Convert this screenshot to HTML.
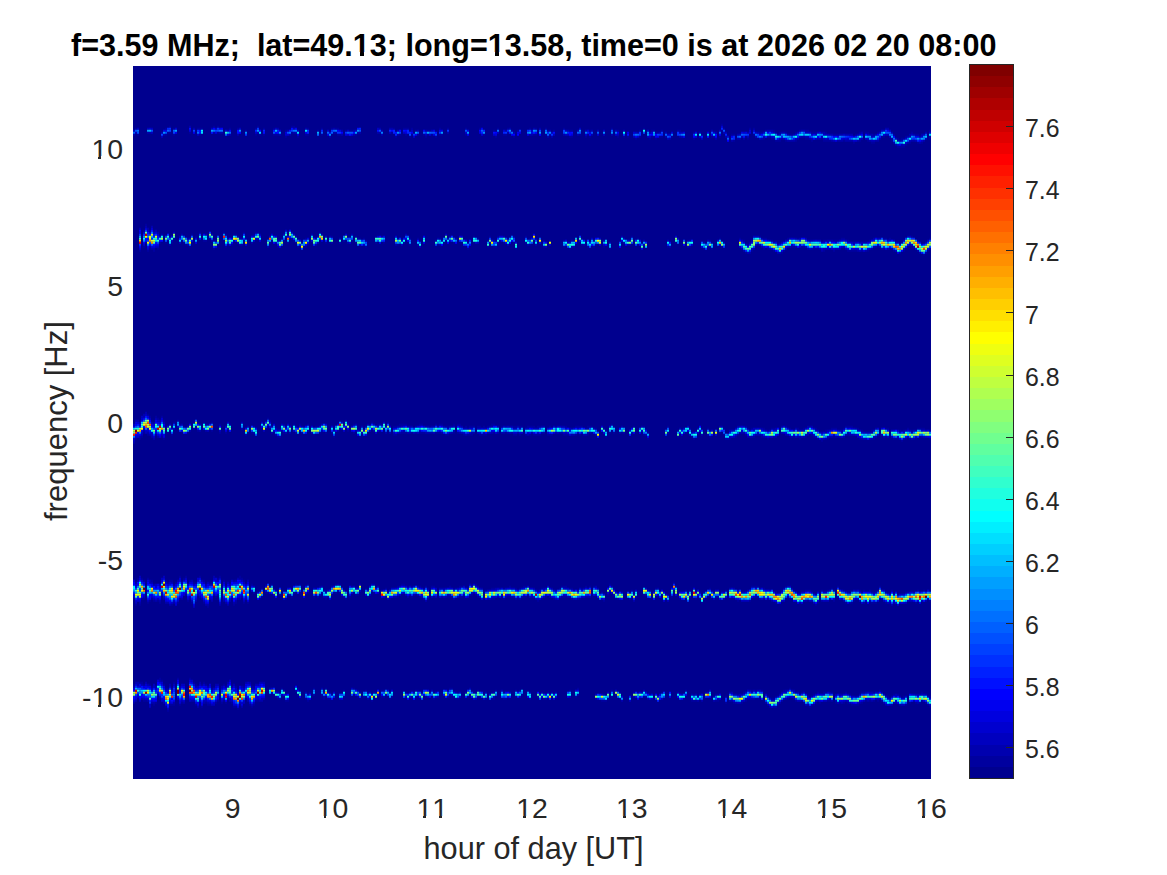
<!DOCTYPE html>
<html><head><meta charset="utf-8"><style>
html,body{margin:0;padding:0;background:#fff;}
body{width:1167px;height:875px;position:relative;overflow:hidden;font-family:"Liberation Sans",sans-serif;color:#262626;}
.t{position:absolute;white-space:pre;line-height:1;}
.yt{font-size:28.4px;text-align:right;width:80px;}
.xt{font-size:28.4px;text-align:center;width:80px;}
.ct{font-size:24.9px;}
.o,.ob{position:relative;display:inline-block;height:1em;line-height:1;}
.o::before,.o::after,.ob::before,.ob::after{content:"";position:absolute;background:#fff;}
.o::before{left:0;width:0.248em;top:0.762em;height:0.095em;}
.o::after{left:0.342em;right:0;top:0.762em;height:0.095em;}
.ob::before{left:0;width:0.228em;top:0.732em;height:0.125em;}
.ob::after{left:0.372em;right:0;top:0.732em;height:0.125em;}
</style></head><body>
<div class="t" id="title" style="left:71px;top:29.75px;font-size:30.55px;font-weight:bold;color:#000;">f=3.59 MHz;  lat=49.<span class="ob">1</span>3; long=<span class="ob">1</span>3.58, time=0 is at 2026 02 20 08:00</div>
<div style="position:absolute;left:133.0px;top:65.8px;width:798.0px;height:713.0px;background:#00008f;"></div>
<svg style="position:absolute;left:0;top:0" width="1167" height="875" viewBox="0 0 1167 875">
<defs><filter id="bl" x="-1%" y="-5%" width="102%" height="110%"><feGaussianBlur stdDeviation="0.55"/></filter><clipPath id="pc"><rect x="133.0" y="65.8" width="798.0" height="713.0"/></clipPath></defs>
<g clip-path="url(#pc)"><g filter="url(#bl)"><path fill="#00009f" d="M721 123.8h2v2h-2zM169 125.8h2v2h-2zM213 125.8h2v2h-2zM217 125.8h2v2h-2zM257 125.8h2v2h-2zM291 125.8h4v2h-4zM135 127.8h2v2h-2zM165 127.8h2v2h-2zM173 127.8h2v2h-2zM197 127.8h6v2h-6zM229 127.8h2v2h-2zM237 127.8h2v2h-2zM255 127.8h2v2h-2zM263 127.8h2v2h-2zM273 127.8h2v2h-2zM307 127.8h2v2h-2zM321 127.8h2v2h-2zM331 127.8h2v2h-2zM335 127.8h4v2h-4zM393 127.8h2v2h-2zM403 127.8h6v2h-6zM411 127.8h2v2h-2zM439 127.8h2v2h-2zM447 127.8h2v2h-2zM465 127.8h2v2h-2zM479 127.8h2v2h-2zM497 127.8h2v2h-2zM507 127.8h2v2h-2zM529 127.8h2v2h-2zM535 127.8h2v2h-2zM545 127.8h2v2h-2zM563 127.8h2v2h-2zM611 127.8h2v2h-2zM643 127.8h2v2h-2zM723 127.8h2v2h-2zM749 127.8h2v2h-2zM753 127.8h2v2h-2zM245 129.8h2v2h-2zM285 129.8h2v2h-2zM317 129.8h2v2h-2zM345 129.8h2v2h-2zM349 129.8h4v2h-4zM415 129.8h2v2h-2zM427 129.8h4v2h-4zM493 129.8h2v2h-2zM511 129.8h2v2h-2zM517 129.8h2v2h-2zM547 129.8h2v2h-2zM553 129.8h2v2h-2zM569 129.8h4v2h-4zM589 129.8h2v2h-2zM617 129.8h2v2h-2zM639 129.8h2v2h-2zM651 129.8h4v2h-4zM661 129.8h2v2h-2zM677 129.8h4v2h-4zM721 129.8h2v2h-2zM765 129.8h2v2h-2zM773 129.8h2v2h-2zM799 129.8h2v2h-2zM805 129.8h4v2h-4zM929 129.8h2v2h-2zM167 131.8h4v2h-4zM189 131.8h2v2h-2zM217 131.8h2v2h-2zM291 131.8h2v2h-2zM391 131.8h2v2h-2zM655 131.8h4v2h-4zM693 131.8h2v2h-2zM759 131.8h4v2h-4zM775 131.8h2v2h-2zM779 131.8h2v2h-2zM785 131.8h2v2h-2zM795 131.8h2v2h-2zM811 131.8h6v2h-6zM825 131.8h2v2h-2zM859 131.8h2v2h-2zM865 131.8h4v2h-4zM877 131.8h2v2h-2zM911 131.8h2v2h-2zM137 133.8h2v2h-2zM165 133.8h2v2h-2zM173 133.8h2v2h-2zM199 133.8h2v2h-2zM255 133.8h2v2h-2zM259 133.8h2v2h-2zM263 133.8h2v2h-2zM273 133.8h6v2h-6zM305 133.8h4v2h-4zM321 133.8h2v2h-2zM337 133.8h4v2h-4zM355 133.8h2v2h-2zM399 133.8h2v2h-2zM405 133.8h2v2h-2zM411 133.8h2v2h-2zM417 133.8h2v2h-2zM423 133.8h2v2h-2zM427 133.8h2v2h-2zM431 133.8h2v2h-2zM439 133.8h4v2h-4zM465 133.8h2v2h-2zM483 133.8h2v2h-2zM503 133.8h4v2h-4zM533 133.8h4v2h-4zM545 133.8h2v2h-2zM579 133.8h2v2h-2zM587 133.8h2v2h-2zM701 133.8h2v2h-2zM731 133.8h4v2h-4zM753 133.8h2v2h-2zM789 133.8h4v2h-4zM833 133.8h6v2h-6zM855 133.8h2v2h-2zM873 133.8h2v2h-2zM893 133.8h2v2h-2zM915 133.8h4v2h-4zM285 135.8h2v2h-2zM297 135.8h2v2h-2zM395 135.8h2v2h-2zM409 135.8h2v2h-2zM425 135.8h2v2h-2zM435 135.8h2v2h-2zM495 135.8h2v2h-2zM513 135.8h2v2h-2zM569 135.8h4v2h-4zM585 135.8h2v2h-2zM589 135.8h2v2h-2zM617 135.8h2v2h-2zM623 135.8h2v2h-2zM627 135.8h2v2h-2zM639 135.8h2v2h-2zM651 135.8h4v2h-4zM659 135.8h4v2h-4zM671 135.8h2v2h-2zM711 135.8h2v2h-2zM719 135.8h2v2h-2zM745 135.8h2v2h-2zM881 135.8h4v2h-4zM905 135.8h2v2h-2zM635 137.8h2v2h-2zM649 137.8h2v2h-2zM655 137.8h2v2h-2zM693 137.8h2v2h-2zM747 137.8h2v2h-2zM763 137.8h2v2h-2zM771 137.8h4v2h-4zM805 137.8h4v2h-4zM821 137.8h2v2h-2zM897 137.8h2v2h-2zM901 137.8h4v2h-4zM929 137.8h2v2h-2zM733 139.8h2v2h-2zM775 139.8h6v2h-6zM785 139.8h2v2h-2zM795 139.8h2v2h-2zM811 139.8h2v2h-2zM823 139.8h8v2h-8zM843 139.8h2v2h-2zM859 139.8h2v2h-2zM867 139.8h2v2h-2zM891 139.8h2v2h-2zM853 141.8h2v2h-2zM871 141.8h4v2h-4zM909 141.8h2v2h-2zM917 141.8h2v2h-2zM921 141.8h2v2h-2zM905 143.8h2v2h-2zM897 145.8h8v2h-8zM145 223.8h2v2h-2zM143 229.8h2v2h-2zM149 229.8h2v2h-2zM153 229.8h2v2h-2zM199 231.8h2v2h-2zM223 231.8h2v2h-2zM243 231.8h2v2h-2zM255 231.8h4v2h-4zM319 231.8h2v2h-2zM191 233.8h2v2h-2zM225 233.8h2v2h-2zM233 233.8h4v2h-4zM253 233.8h2v2h-2zM195 235.8h2v2h-2zM331 235.8h2v2h-2zM355 235.8h2v2h-2zM375 235.8h2v2h-2zM473 235.8h2v2h-2zM489 235.8h2v2h-2zM497 235.8h2v2h-2zM513 235.8h2v2h-2zM525 235.8h2v2h-2zM631 235.8h2v2h-2zM759 235.8h2v2h-2zM911 235.8h2v2h-2zM209 237.8h2v2h-2zM245 237.8h2v2h-2zM281 237.8h2v2h-2zM305 237.8h2v2h-2zM359 237.8h2v2h-2zM363 237.8h2v2h-2zM409 237.8h2v2h-2zM417 237.8h2v2h-2zM439 237.8h2v2h-2zM477 237.8h2v2h-2zM507 237.8h2v2h-2zM529 237.8h2v2h-2zM535 237.8h2v2h-2zM581 237.8h2v2h-2zM637 237.8h2v2h-2zM719 237.8h2v2h-2zM739 237.8h2v2h-2zM763 237.8h4v2h-4zM787 237.8h2v2h-2zM797 237.8h2v2h-2zM841 237.8h4v2h-4zM883 237.8h4v2h-4zM889 237.8h2v2h-2zM929 237.8h2v2h-2zM167 239.8h2v2h-2zM181 239.8h2v2h-2zM203 239.8h4v2h-4zM213 239.8h4v2h-4zM243 239.8h2v2h-2zM283 239.8h2v2h-2zM293 239.8h2v2h-2zM351 239.8h2v2h-2zM365 239.8h2v2h-2zM445 239.8h2v2h-2zM487 239.8h2v2h-2zM543 239.8h2v2h-2zM549 239.8h2v2h-2zM563 239.8h2v2h-2zM573 239.8h2v2h-2zM687 239.8h2v2h-2zM709 239.8h2v2h-2zM743 239.8h2v2h-2zM771 239.8h2v2h-2zM823 239.8h4v2h-4zM833 239.8h6v2h-6zM847 239.8h2v2h-2zM869 239.8h2v2h-2zM917 239.8h2v2h-2zM145 241.8h2v2h-2zM159 241.8h2v2h-2zM165 241.8h2v2h-2zM171 241.8h2v2h-2zM183 241.8h2v2h-2zM269 241.8h2v2h-2zM287 241.8h2v2h-2zM295 241.8h2v2h-2zM301 241.8h2v2h-2zM325 241.8h2v2h-2zM329 241.8h2v2h-2zM355 241.8h2v2h-2zM375 241.8h2v2h-2zM383 241.8h2v2h-2zM443 241.8h2v2h-2zM453 241.8h2v2h-2zM467 241.8h2v2h-2zM473 241.8h2v2h-2zM503 241.8h2v2h-2zM513 241.8h2v2h-2zM675 241.8h2v2h-2zM711 241.8h2v2h-2zM749 241.8h2v2h-2zM185 243.8h2v2h-2zM227 243.8h2v2h-2zM231 243.8h2v2h-2zM307 243.8h2v2h-2zM397 243.8h2v2h-2zM409 243.8h2v2h-2zM437 243.8h2v2h-2zM529 243.8h2v2h-2zM581 243.8h2v2h-2zM595 243.8h2v2h-2zM637 243.8h2v2h-2zM747 243.8h2v2h-2zM757 243.8h2v2h-2zM143 245.8h2v2h-2zM189 245.8h2v2h-2zM225 245.8h2v2h-2zM277 245.8h2v2h-2zM297 245.8h2v2h-2zM303 245.8h4v2h-4zM365 245.8h2v2h-2zM487 245.8h2v2h-2zM493 245.8h4v2h-4zM563 245.8h2v2h-2zM587 245.8h2v2h-2zM593 245.8h2v2h-2zM603 245.8h2v2h-2zM667 245.8h2v2h-2zM689 245.8h2v2h-2zM707 245.8h2v2h-2zM721 245.8h2v2h-2zM791 245.8h4v2h-4zM801 245.8h4v2h-4zM877 245.8h2v2h-2zM149 247.8h2v2h-2zM157 247.8h2v2h-2zM213 247.8h2v2h-2zM467 247.8h2v2h-2zM515 247.8h2v2h-2zM569 247.8h2v2h-2zM609 247.8h2v2h-2zM703 247.8h2v2h-2zM711 247.8h2v2h-2zM763 247.8h2v2h-2zM767 247.8h2v2h-2zM813 247.8h6v2h-6zM883 247.8h2v2h-2zM889 247.8h2v2h-2zM139 249.8h2v2h-2zM147 249.8h2v2h-2zM153 249.8h2v2h-2zM751 249.8h2v2h-2zM773 249.8h2v2h-2zM783 249.8h2v2h-2zM823 249.8h2v2h-2zM833 249.8h2v2h-2zM847 249.8h10v2h-10zM867 249.8h2v2h-2zM893 249.8h2v2h-2zM903 249.8h2v2h-2zM927 249.8h2v2h-2zM745 251.8h2v2h-2zM781 251.8h2v2h-2zM923 253.8h2v2h-2zM147 413.8h2v2h-2zM149 415.8h2v2h-2zM155 415.8h2v2h-2zM161 415.8h2v2h-2zM157 417.8h2v2h-2zM267 417.8h2v2h-2zM163 419.8h2v2h-2zM177 419.8h2v2h-2zM269 419.8h2v2h-2zM345 419.8h2v2h-2zM153 421.8h2v2h-2zM173 421.8h2v2h-2zM193 421.8h2v2h-2zM203 421.8h2v2h-2zM211 421.8h2v2h-2zM347 421.8h2v2h-2zM371 421.8h2v2h-2zM387 421.8h2v2h-2zM179 423.8h2v2h-2zM205 423.8h4v2h-4zM219 423.8h2v2h-2zM229 423.8h2v2h-2zM283 423.8h2v2h-2zM293 423.8h2v2h-2zM299 423.8h2v2h-2zM307 423.8h2v2h-2zM343 423.8h2v2h-2zM353 423.8h2v2h-2zM369 423.8h2v2h-2zM377 423.8h2v2h-2zM381 423.8h2v2h-2zM399 423.8h8v2h-8zM419 423.8h4v2h-4zM435 423.8h2v2h-2zM439 423.8h4v2h-4zM453 423.8h2v2h-2zM457 423.8h4v2h-4zM491 423.8h4v2h-4zM611 423.8h2v2h-2zM183 425.8h2v2h-2zM285 425.8h2v2h-2zM303 425.8h2v2h-2zM315 425.8h4v2h-4zM393 425.8h4v2h-4zM429 425.8h2v2h-2zM445 425.8h4v2h-4zM465 425.8h2v2h-2zM469 425.8h6v2h-6zM477 425.8h4v2h-4zM483 425.8h2v2h-2zM487 425.8h2v2h-2zM501 425.8h2v2h-2zM513 425.8h4v2h-4zM519 425.8h4v2h-4zM527 425.8h8v2h-8zM537 425.8h4v2h-4zM549 425.8h2v2h-2zM555 425.8h2v2h-2zM565 425.8h2v2h-2zM575 425.8h8v2h-8zM587 425.8h6v2h-6zM613 425.8h2v2h-2zM633 425.8h2v2h-2zM643 425.8h2v2h-2zM667 425.8h2v2h-2zM745 425.8h2v2h-2zM785 425.8h2v2h-2zM845 425.8h8v2h-8zM261 427.8h2v2h-2zM265 427.8h2v2h-2zM269 427.8h2v2h-2zM339 427.8h2v2h-2zM595 427.8h2v2h-2zM689 427.8h2v2h-2zM707 427.8h2v2h-2zM723 427.8h2v2h-2zM747 427.8h2v2h-2zM751 427.8h2v2h-2zM763 427.8h2v2h-2zM771 427.8h4v2h-4zM789 427.8h2v2h-2zM797 427.8h2v2h-2zM803 427.8h2v2h-2zM815 427.8h2v2h-2zM831 427.8h6v2h-6zM843 427.8h2v2h-2zM857 427.8h2v2h-2zM885 427.8h4v2h-4zM907 427.8h2v2h-2zM917 427.8h8v2h-8zM169 429.8h2v2h-2zM197 429.8h2v2h-2zM211 429.8h2v2h-2zM347 429.8h2v2h-2zM605 429.8h2v2h-2zM611 429.8h2v2h-2zM677 429.8h2v2h-2zM709 429.8h2v2h-2zM767 429.8h2v2h-2zM825 429.8h2v2h-2zM861 429.8h2v2h-2zM871 429.8h2v2h-2zM899 429.8h2v2h-2zM903 429.8h2v2h-2zM911 429.8h2v2h-2zM143 431.8h2v2h-2zM167 431.8h2v2h-2zM187 431.8h2v2h-2zM219 431.8h2v2h-2zM225 431.8h2v2h-2zM247 431.8h2v2h-2zM251 431.8h2v2h-2zM283 431.8h2v2h-2zM319 431.8h2v2h-2zM325 431.8h2v2h-2zM331 431.8h2v2h-2zM353 431.8h2v2h-2zM401 431.8h6v2h-6zM411 431.8h2v2h-2zM419 431.8h6v2h-6zM435 431.8h6v2h-6zM453 431.8h2v2h-2zM457 431.8h2v2h-2zM493 431.8h2v2h-2zM505 431.8h2v2h-2zM591 431.8h2v2h-2zM609 431.8h2v2h-2zM613 431.8h2v2h-2zM621 431.8h2v2h-2zM647 431.8h2v2h-2zM685 431.8h2v2h-2zM719 431.8h2v2h-2zM147 433.8h2v2h-2zM155 433.8h2v2h-2zM171 433.8h2v2h-2zM313 433.8h2v2h-2zM393 433.8h4v2h-4zM445 433.8h4v2h-4zM463 433.8h2v2h-2zM467 433.8h6v2h-6zM479 433.8h8v2h-8zM513 433.8h4v2h-4zM519 433.8h2v2h-2zM525 433.8h2v2h-2zM529 433.8h2v2h-2zM533 433.8h8v2h-8zM547 433.8h6v2h-6zM563 433.8h6v2h-6zM575 433.8h2v2h-2zM579 433.8h2v2h-2zM587 433.8h2v2h-2zM643 433.8h2v2h-2zM723 433.8h2v2h-2zM737 433.8h2v2h-2zM745 433.8h2v2h-2zM811 433.8h2v2h-2zM847 433.8h2v2h-2zM141 435.8h2v2h-2zM161 435.8h2v2h-2zM277 435.8h2v2h-2zM333 435.8h2v2h-2zM359 435.8h2v2h-2zM605 435.8h2v2h-2zM677 435.8h2v2h-2zM691 435.8h2v2h-2zM709 435.8h2v2h-2zM735 435.8h2v2h-2zM753 435.8h2v2h-2zM761 435.8h2v2h-2zM789 435.8h2v2h-2zM793 435.8h2v2h-2zM805 435.8h2v2h-2zM813 435.8h2v2h-2zM833 435.8h2v2h-2zM885 435.8h2v2h-2zM919 435.8h2v2h-2zM135 437.8h2v2h-2zM139 437.8h2v2h-2zM163 437.8h2v2h-2zM647 437.8h2v2h-2zM693 437.8h2v2h-2zM729 437.8h2v2h-2zM767 437.8h2v2h-2zM799 437.8h2v2h-2zM817 437.8h2v2h-2zM827 437.8h2v2h-2zM859 437.8h2v2h-2zM873 437.8h2v2h-2zM893 437.8h6v2h-6zM905 437.8h2v2h-2zM909 437.8h2v2h-2zM915 437.8h2v2h-2zM929 437.8h2v2h-2zM821 439.8h2v2h-2zM901 439.8h2v2h-2zM179 575.8h2v2h-2zM185 575.8h2v2h-2zM199 575.8h2v2h-2zM219 575.8h2v2h-2zM239 575.8h2v2h-2zM137 577.8h2v2h-2zM141 577.8h2v2h-2zM147 577.8h2v2h-2zM183 577.8h2v2h-2zM217 577.8h2v2h-2zM239 577.8h4v2h-4zM143 579.8h2v2h-2zM151 579.8h2v2h-2zM165 579.8h2v2h-2zM169 579.8h4v2h-4zM189 579.8h2v2h-2zM203 579.8h2v2h-2zM223 579.8h2v2h-2zM233 579.8h2v2h-2zM243 579.8h2v2h-2zM135 581.8h2v2h-2zM167 581.8h2v2h-2zM175 581.8h2v2h-2zM193 581.8h4v2h-4zM209 581.8h4v2h-4zM673 581.8h2v2h-2zM173 583.8h2v2h-2zM251 583.8h2v2h-2zM265 583.8h2v2h-2zM271 583.8h2v2h-2zM295 583.8h2v2h-2zM299 583.8h2v2h-2zM307 583.8h2v2h-2zM335 583.8h2v2h-2zM339 583.8h2v2h-2zM401 583.8h4v2h-4zM471 583.8h2v2h-2zM475 583.8h2v2h-2zM609 583.8h2v2h-2zM225 585.8h2v2h-2zM319 585.8h2v2h-2zM397 585.8h2v2h-2zM407 585.8h2v2h-2zM411 585.8h2v2h-2zM419 585.8h2v2h-2zM425 585.8h2v2h-2zM431 585.8h4v2h-4zM449 585.8h2v2h-2zM459 585.8h4v2h-4zM509 585.8h2v2h-2zM523 585.8h4v2h-4zM561 585.8h6v2h-6zM585 585.8h2v2h-2zM589 585.8h2v2h-2zM593 585.8h2v2h-2zM751 585.8h8v2h-8zM785 585.8h2v2h-2zM837 585.8h2v2h-2zM879 585.8h2v2h-2zM261 587.8h2v2h-2zM273 587.8h2v2h-2zM303 587.8h2v2h-2zM365 587.8h2v2h-2zM385 587.8h2v2h-2zM423 587.8h2v2h-2zM427 587.8h2v2h-2zM453 587.8h2v2h-2zM491 587.8h4v2h-4zM503 587.8h2v2h-2zM515 587.8h2v2h-2zM519 587.8h2v2h-2zM541 587.8h2v2h-2zM559 587.8h2v2h-2zM569 587.8h4v2h-4zM581 587.8h2v2h-2zM613 587.8h2v2h-2zM655 587.8h2v2h-2zM709 587.8h2v2h-2zM763 587.8h2v2h-2zM831 587.8h2v2h-2zM259 589.8h2v2h-2zM325 589.8h2v2h-2zM485 589.8h2v2h-2zM537 589.8h2v2h-2zM631 589.8h2v2h-2zM649 589.8h2v2h-2zM685 589.8h2v2h-2zM689 589.8h2v2h-2zM725 589.8h2v2h-2zM781 589.8h2v2h-2zM793 589.8h2v2h-2zM805 589.8h6v2h-6zM821 589.8h2v2h-2zM827 589.8h2v2h-2zM843 589.8h2v2h-2zM859 589.8h2v2h-2zM863 589.8h2v2h-2zM869 589.8h2v2h-2zM877 589.8h2v2h-2zM891 589.8h2v2h-2zM917 589.8h2v2h-2zM923 589.8h2v2h-2zM929 589.8h2v2h-2zM265 591.8h4v2h-4zM295 591.8h2v2h-2zM299 591.8h2v2h-2zM307 591.8h2v2h-2zM333 591.8h4v2h-4zM339 591.8h2v2h-2zM353 591.8h2v2h-2zM373 591.8h2v2h-2zM609 591.8h2v2h-2zM617 591.8h2v2h-2zM713 591.8h2v2h-2zM775 591.8h2v2h-2zM847 591.8h2v2h-2zM873 591.8h2v2h-2zM905 591.8h2v2h-2zM185 593.8h2v2h-2zM331 593.8h2v2h-2zM355 593.8h4v2h-4zM415 593.8h2v2h-2zM471 593.8h2v2h-2zM475 593.8h2v2h-2zM607 593.8h2v2h-2zM643 593.8h2v2h-2zM667 593.8h2v2h-2zM897 593.8h2v2h-2zM215 595.8h2v2h-2zM261 595.8h2v2h-2zM291 595.8h2v2h-2zM313 595.8h2v2h-2zM349 595.8h2v2h-2zM367 595.8h2v2h-2zM385 595.8h2v2h-2zM397 595.8h2v2h-2zM411 595.8h2v2h-2zM419 595.8h2v2h-2zM433 595.8h2v2h-2zM447 595.8h6v2h-6zM459 595.8h4v2h-4zM477 595.8h2v2h-2zM501 595.8h2v2h-2zM507 595.8h4v2h-4zM523 595.8h4v2h-4zM545 595.8h2v2h-2zM561 595.8h6v2h-6zM671 595.8h2v2h-2zM697 595.8h2v2h-2zM787 595.8h2v2h-2zM133 597.8h2v2h-2zM141 597.8h4v2h-4zM151 597.8h2v2h-2zM179 597.8h2v2h-2zM231 597.8h2v2h-2zM259 597.8h2v2h-2zM285 597.8h2v2h-2zM325 597.8h2v2h-2zM345 597.8h2v2h-2zM389 597.8h2v2h-2zM427 597.8h2v2h-2zM491 597.8h4v2h-4zM503 597.8h2v2h-2zM517 597.8h2v2h-2zM541 597.8h2v2h-2zM553 597.8h2v2h-2zM571 597.8h2v2h-2zM579 597.8h2v2h-2zM615 597.8h2v2h-2zM679 597.8h2v2h-2zM685 597.8h2v2h-2zM695 597.8h2v2h-2zM699 597.8h2v2h-2zM763 597.8h2v2h-2zM789 597.8h2v2h-2zM879 597.8h2v2h-2zM149 599.8h2v2h-2zM153 599.8h2v2h-2zM157 599.8h2v2h-2zM187 599.8h2v2h-2zM537 599.8h2v2h-2zM603 599.8h2v2h-2zM737 599.8h2v2h-2zM749 599.8h2v2h-2zM807 599.8h2v2h-2zM833 599.8h2v2h-2zM853 599.8h2v2h-2zM929 599.8h2v2h-2zM147 601.8h2v2h-2zM159 601.8h2v2h-2zM177 601.8h2v2h-2zM191 601.8h2v2h-2zM203 601.8h2v2h-2zM235 601.8h2v2h-2zM243 601.8h2v2h-2zM247 601.8h2v2h-2zM701 601.8h2v2h-2zM775 601.8h2v2h-2zM817 601.8h2v2h-2zM845 601.8h2v2h-2zM851 601.8h2v2h-2zM871 601.8h6v2h-6zM885 601.8h2v2h-2zM915 601.8h2v2h-2zM135 603.8h2v2h-2zM139 603.8h2v2h-2zM171 603.8h2v2h-2zM233 603.8h2v2h-2zM815 603.8h2v2h-2zM207 605.8h2v2h-2zM159 677.8h2v2h-2zM177 677.8h2v2h-2zM189 677.8h2v2h-2zM161 679.8h2v2h-2zM139 681.8h4v2h-4zM173 681.8h2v2h-2zM193 681.8h2v2h-2zM203 681.8h2v2h-2zM133 683.8h2v2h-2zM143 683.8h2v2h-2zM149 683.8h2v2h-2zM163 683.8h2v2h-2zM195 683.8h2v2h-2zM201 683.8h2v2h-2zM205 683.8h2v2h-2zM223 683.8h2v2h-2zM151 685.8h2v2h-2zM225 685.8h2v2h-2zM231 685.8h2v2h-2zM235 685.8h2v2h-2zM243 685.8h2v2h-2zM251 685.8h4v2h-4zM165 687.8h4v2h-4zM171 687.8h2v2h-2zM211 687.8h2v2h-2zM281 687.8h2v2h-2zM297 687.8h2v2h-2zM313 687.8h2v2h-2zM325 687.8h2v2h-2zM353 687.8h2v2h-2zM449 687.8h4v2h-4zM577 687.8h2v2h-2zM789 687.8h2v2h-2zM299 689.8h2v2h-2zM343 689.8h2v2h-2zM357 689.8h2v2h-2zM365 689.8h2v2h-2zM381 689.8h4v2h-4zM415 689.8h4v2h-4zM447 689.8h2v2h-2zM477 689.8h2v2h-2zM495 689.8h2v2h-2zM515 689.8h2v2h-2zM519 689.8h2v2h-2zM569 689.8h2v2h-2zM611 689.8h2v2h-2zM685 689.8h2v2h-2zM751 689.8h2v2h-2zM755 689.8h2v2h-2zM761 689.8h2v2h-2zM783 689.8h2v2h-2zM879 689.8h2v2h-2zM279 691.8h2v2h-2zM309 691.8h2v2h-2zM329 691.8h2v2h-2zM367 691.8h2v2h-2zM375 691.8h2v2h-2zM405 691.8h2v2h-2zM433 691.8h2v2h-2zM457 691.8h2v2h-2zM473 691.8h4v2h-4zM491 691.8h2v2h-2zM503 691.8h2v2h-2zM619 691.8h2v2h-2zM661 691.8h2v2h-2zM743 691.8h2v2h-2zM801 691.8h2v2h-2zM817 691.8h2v2h-2zM823 691.8h4v2h-4zM831 691.8h2v2h-2zM845 691.8h2v2h-2zM861 691.8h4v2h-4zM873 691.8h2v2h-2zM921 691.8h2v2h-2zM269 693.8h2v2h-2zM273 693.8h2v2h-2zM353 693.8h2v2h-2zM449 693.8h2v2h-2zM469 693.8h2v2h-2zM521 693.8h2v2h-2zM693 693.8h2v2h-2zM715 693.8h4v2h-4zM737 693.8h2v2h-2zM813 693.8h2v2h-2zM849 693.8h2v2h-2zM893 693.8h2v2h-2zM897 693.8h2v2h-2zM343 695.8h2v2h-2zM357 695.8h2v2h-2zM365 695.8h2v2h-2zM381 695.8h2v2h-2zM391 695.8h2v2h-2zM415 695.8h4v2h-4zM425 695.8h2v2h-2zM467 695.8h2v2h-2zM477 695.8h4v2h-4zM515 695.8h2v2h-2zM575 695.8h2v2h-2zM611 695.8h2v2h-2zM643 695.8h2v2h-2zM725 695.8h2v2h-2zM775 695.8h2v2h-2zM887 695.8h2v2h-2zM903 695.8h2v2h-2zM929 695.8h2v2h-2zM137 697.8h2v2h-2zM159 697.8h2v2h-2zM227 697.8h2v2h-2zM245 697.8h2v2h-2zM277 697.8h2v2h-2zM305 697.8h2v2h-2zM323 697.8h2v2h-2zM327 697.8h4v2h-4zM375 697.8h2v2h-2zM389 697.8h2v2h-2zM433 697.8h2v2h-2zM455 697.8h4v2h-4zM485 697.8h2v2h-2zM491 697.8h4v2h-4zM503 697.8h4v2h-4zM607 697.8h2v2h-2zM619 697.8h2v2h-2zM683 697.8h2v2h-2zM755 697.8h6v2h-6zM771 697.8h4v2h-4zM787 697.8h2v2h-2zM793 697.8h2v2h-2zM143 699.8h4v2h-4zM217 699.8h2v2h-2zM223 699.8h2v2h-2zM255 699.8h4v2h-4zM285 699.8h4v2h-4zM307 699.8h2v2h-2zM371 699.8h2v2h-2zM601 699.8h6v2h-6zM691 699.8h6v2h-6zM715 699.8h4v2h-4zM745 699.8h2v2h-2zM795 699.8h2v2h-2zM827 699.8h4v2h-4zM865 699.8h2v2h-2zM869 699.8h2v2h-2zM873 699.8h2v2h-2zM877 699.8h2v2h-2zM155 701.8h2v2h-2zM181 701.8h2v2h-2zM205 701.8h2v2h-2zM215 701.8h2v2h-2zM221 701.8h2v2h-2zM225 701.8h2v2h-2zM231 701.8h2v2h-2zM725 701.8h2v2h-2zM733 701.8h2v2h-2zM741 701.8h2v2h-2zM803 701.8h2v2h-2zM815 701.8h2v2h-2zM819 701.8h2v2h-2zM835 701.8h2v2h-2zM839 701.8h2v2h-2zM843 701.8h2v2h-2zM847 701.8h2v2h-2zM861 701.8h2v2h-2zM909 701.8h2v2h-2zM915 701.8h2v2h-2zM919 701.8h2v2h-2zM153 703.8h2v2h-2zM169 703.8h6v2h-6zM179 703.8h2v2h-2zM195 703.8h2v2h-2zM207 703.8h4v2h-4zM239 703.8h2v2h-2zM249 703.8h2v2h-2zM253 703.8h2v2h-2zM777 703.8h2v2h-2zM813 703.8h2v2h-2zM851 703.8h8v2h-8zM905 703.8h2v2h-2zM927 703.8h2v2h-2zM165 705.8h2v2h-2zM201 705.8h2v2h-2zM233 705.8h4v2h-4zM251 705.8h2v2h-2zM809 705.8h2v2h-2zM929 705.8h2v2h-2zM237 707.8h2v2h-2zM167 709.8h2v2h-2z"/>
<path fill="#0000af" d="M189 125.8h2v2h-2zM193 127.8h2v2h-2zM277 127.8h2v2h-2zM305 127.8h2v2h-2zM333 127.8h2v2h-2zM379 127.8h2v2h-2zM389 127.8h4v2h-4zM509 127.8h2v2h-2zM533 127.8h2v2h-2zM539 127.8h2v2h-2zM885 127.8h4v2h-4zM227 129.8h2v2h-2zM287 129.8h2v2h-2zM341 129.8h2v2h-2zM353 129.8h2v2h-2zM381 129.8h2v2h-2zM397 129.8h2v2h-2zM417 129.8h2v2h-2zM425 129.8h2v2h-2zM505 129.8h2v2h-2zM549 129.8h2v2h-2zM567 129.8h2v2h-2zM577 129.8h2v2h-2zM585 129.8h2v2h-2zM591 129.8h2v2h-2zM597 129.8h2v2h-2zM615 129.8h2v2h-2zM623 129.8h2v2h-2zM711 129.8h2v2h-2zM719 129.8h2v2h-2zM767 129.8h6v2h-6zM801 129.8h4v2h-4zM147 131.8h4v2h-4zM161 131.8h2v2h-2zM213 131.8h2v2h-2zM219 131.8h4v2h-4zM257 131.8h2v2h-2zM293 131.8h2v2h-2zM333 131.8h4v2h-4zM357 131.8h4v2h-4zM377 131.8h4v2h-4zM447 131.8h2v2h-2zM507 131.8h2v2h-2zM513 131.8h2v2h-2zM637 131.8h2v2h-2zM649 131.8h2v2h-2zM659 131.8h2v2h-2zM665 131.8h2v2h-2zM699 131.8h2v2h-2zM715 131.8h2v2h-2zM725 131.8h2v2h-2zM747 131.8h2v2h-2zM757 131.8h2v2h-2zM781 131.8h4v2h-4zM821 131.8h4v2h-4zM861 131.8h2v2h-2zM891 131.8h2v2h-2zM925 131.8h2v2h-2zM133 133.8h2v2h-2zM163 133.8h2v2h-2zM229 133.8h2v2h-2zM237 133.8h2v2h-2zM279 133.8h2v2h-2zM289 133.8h2v2h-2zM341 133.8h2v2h-2zM353 133.8h2v2h-2zM381 133.8h2v2h-2zM397 133.8h2v2h-2zM529 133.8h4v2h-4zM549 133.8h2v2h-2zM563 133.8h2v2h-2zM577 133.8h2v2h-2zM591 133.8h2v2h-2zM611 133.8h2v2h-2zM737 133.8h2v2h-2zM777 133.8h2v2h-2zM787 133.8h2v2h-2zM793 133.8h2v2h-2zM829 133.8h4v2h-4zM839 133.8h4v2h-4zM845 133.8h8v2h-8zM857 133.8h2v2h-2zM869 133.8h4v2h-4zM875 133.8h2v2h-2zM909 133.8h2v2h-2zM913 133.8h2v2h-2zM921 133.8h2v2h-2zM329 135.8h2v2h-2zM547 135.8h2v2h-2zM551 135.8h2v2h-2zM665 135.8h2v2h-2zM679 135.8h2v2h-2zM713 135.8h2v2h-2zM725 135.8h2v2h-2zM767 135.8h4v2h-4zM801 135.8h4v2h-4zM907 135.8h2v2h-2zM919 135.8h2v2h-2zM929 135.8h2v2h-2zM669 137.8h2v2h-2zM715 137.8h2v2h-2zM737 137.8h4v2h-4zM743 137.8h2v2h-2zM761 137.8h2v2h-2zM781 137.8h2v2h-2zM797 137.8h2v2h-2zM809 137.8h2v2h-2zM817 137.8h4v2h-4zM879 137.8h2v2h-2zM891 137.8h2v2h-2zM731 139.8h2v2h-2zM787 139.8h8v2h-8zM831 139.8h2v2h-2zM837 139.8h6v2h-6zM845 139.8h8v2h-8zM857 139.8h2v2h-2zM869 139.8h2v2h-2zM875 139.8h4v2h-4zM899 139.8h2v2h-2zM911 139.8h4v2h-4zM923 139.8h2v2h-2zM893 141.8h2v2h-2zM907 141.8h2v2h-2zM919 141.8h2v2h-2zM895 143.8h2v2h-2zM901 143.8h2v2h-2zM145 225.8h2v2h-2zM151 225.8h2v2h-2zM139 227.8h2v2h-2zM147 227.8h2v2h-2zM155 229.8h2v2h-2zM157 231.8h2v2h-2zM161 233.8h2v2h-2zM181 233.8h2v2h-2zM205 233.8h2v2h-2zM259 233.8h2v2h-2zM311 233.8h2v2h-2zM321 233.8h2v2h-2zM351 233.8h2v2h-2zM405 233.8h2v2h-2zM179 235.8h2v2h-2zM237 235.8h2v2h-2zM285 235.8h2v2h-2zM295 235.8h2v2h-2zM317 235.8h2v2h-2zM329 235.8h2v2h-2zM381 235.8h2v2h-2zM449 235.8h2v2h-2zM503 235.8h2v2h-2zM621 235.8h2v2h-2zM173 237.8h2v2h-2zM187 237.8h2v2h-2zM227 237.8h2v2h-2zM239 237.8h4v2h-4zM291 237.8h2v2h-2zM339 237.8h2v2h-2zM357 237.8h2v2h-2zM397 237.8h2v2h-2zM437 237.8h2v2h-2zM447 237.8h2v2h-2zM455 237.8h2v2h-2zM761 237.8h2v2h-2zM795 237.8h2v2h-2zM799 237.8h2v2h-2zM805 237.8h2v2h-2zM873 237.8h2v2h-2zM211 239.8h2v2h-2zM271 239.8h2v2h-2zM279 239.8h2v2h-2zM343 239.8h2v2h-2zM435 239.8h2v2h-2zM441 239.8h2v2h-2zM493 239.8h2v2h-2zM499 239.8h2v2h-2zM571 239.8h2v2h-2zM593 239.8h2v2h-2zM603 239.8h2v2h-2zM643 239.8h2v2h-2zM667 239.8h2v2h-2zM689 239.8h2v2h-2zM707 239.8h2v2h-2zM751 239.8h2v2h-2zM769 239.8h2v2h-2zM809 239.8h4v2h-4zM827 239.8h6v2h-6zM251 241.8h2v2h-2zM331 241.8h2v2h-2zM339 241.8h2v2h-2zM347 241.8h2v2h-2zM403 241.8h2v2h-2zM489 241.8h2v2h-2zM497 241.8h2v2h-2zM525 241.8h2v2h-2zM609 241.8h2v2h-2zM623 241.8h2v2h-2zM703 241.8h2v2h-2zM723 241.8h2v2h-2zM781 241.8h2v2h-2zM853 241.8h2v2h-2zM859 241.8h8v2h-8zM897 241.8h2v2h-2zM901 241.8h2v2h-2zM925 241.8h2v2h-2zM169 243.8h2v2h-2zM187 243.8h2v2h-2zM239 243.8h4v2h-4zM315 243.8h2v2h-2zM395 243.8h2v2h-2zM417 243.8h2v2h-2zM439 243.8h2v2h-2zM527 243.8h2v2h-2zM535 243.8h2v2h-2zM583 243.8h2v2h-2zM627 243.8h4v2h-4zM643 243.8h2v2h-2zM909 243.8h2v2h-2zM149 245.8h2v2h-2zM267 245.8h2v2h-2zM543 245.8h2v2h-2zM571 245.8h4v2h-4zM669 245.8h2v2h-2zM687 245.8h2v2h-2zM709 245.8h2v2h-2zM761 245.8h2v2h-2zM789 245.8h2v2h-2zM795 245.8h2v2h-2zM875 245.8h2v2h-2zM879 245.8h2v2h-2zM151 247.8h4v2h-4zM741 247.8h2v2h-2zM753 247.8h2v2h-2zM769 247.8h2v2h-2zM785 247.8h2v2h-2zM807 247.8h2v2h-2zM811 247.8h2v2h-2zM819 247.8h2v2h-2zM829 247.8h2v2h-2zM839 247.8h2v2h-2zM871 247.8h2v2h-2zM881 247.8h2v2h-2zM887 247.8h2v2h-2zM891 247.8h2v2h-2zM929 247.8h2v2h-2zM743 249.8h2v2h-2zM821 249.8h2v2h-2zM857 249.8h2v2h-2zM861 249.8h2v2h-2zM865 249.8h2v2h-2zM917 249.8h2v2h-2zM749 251.8h2v2h-2zM899 251.8h2v2h-2zM919 251.8h2v2h-2zM925 251.8h2v2h-2zM145 411.8h2v2h-2zM143 413.8h2v2h-2zM143 415.8h2v2h-2zM155 417.8h2v2h-2zM135 419.8h4v2h-4zM159 419.8h2v2h-2zM139 421.8h2v2h-2zM151 421.8h2v2h-2zM163 421.8h2v2h-2zM241 421.8h2v2h-2zM181 423.8h2v2h-2zM199 423.8h2v2h-2zM263 423.8h2v2h-2zM355 423.8h2v2h-2zM367 423.8h2v2h-2zM379 423.8h2v2h-2zM195 425.8h2v2h-2zM247 425.8h2v2h-2zM253 425.8h2v2h-2zM271 425.8h2v2h-2zM295 425.8h2v2h-2zM301 425.8h2v2h-2zM361 425.8h2v2h-2zM365 425.8h2v2h-2zM385 425.8h2v2h-2zM397 425.8h4v2h-4zM407 425.8h6v2h-6zM415 425.8h2v2h-2zM425 425.8h4v2h-4zM431 425.8h4v2h-4zM437 425.8h2v2h-2zM443 425.8h2v2h-2zM449 425.8h4v2h-4zM461 425.8h2v2h-2zM489 425.8h4v2h-4zM497 425.8h2v2h-2zM505 425.8h2v2h-2zM509 425.8h4v2h-4zM517 425.8h2v2h-2zM541 425.8h4v2h-4zM561 425.8h4v2h-4zM621 425.8h2v2h-2zM641 425.8h2v2h-2zM719 425.8h4v2h-4zM737 425.8h2v2h-2zM781 425.8h2v2h-2zM807 425.8h6v2h-6zM171 427.8h2v2h-2zM193 427.8h2v2h-2zM241 427.8h2v2h-2zM275 427.8h2v2h-2zM383 427.8h2v2h-2zM467 427.8h2v2h-2zM571 427.8h2v2h-2zM585 427.8h4v2h-4zM603 427.8h2v2h-2zM679 427.8h2v2h-2zM697 427.8h2v2h-2zM761 427.8h2v2h-2zM775 427.8h2v2h-2zM795 427.8h2v2h-2zM855 427.8h2v2h-2zM875 427.8h2v2h-2zM143 429.8h2v2h-2zM189 429.8h2v2h-2zM199 429.8h2v2h-2zM205 429.8h2v2h-2zM281 429.8h2v2h-2zM287 429.8h2v2h-2zM333 429.8h2v2h-2zM337 429.8h2v2h-2zM355 429.8h2v2h-2zM359 429.8h2v2h-2zM373 429.8h2v2h-2zM379 429.8h2v2h-2zM729 429.8h2v2h-2zM765 429.8h2v2h-2zM769 429.8h2v2h-2zM817 429.8h2v2h-2zM827 429.8h2v2h-2zM839 429.8h4v2h-4zM905 429.8h2v2h-2zM909 429.8h2v2h-2zM913 429.8h4v2h-4zM929 429.8h2v2h-2zM147 431.8h2v2h-2zM253 431.8h2v2h-2zM271 431.8h2v2h-2zM285 431.8h2v2h-2zM289 431.8h2v2h-2zM295 431.8h2v2h-2zM301 431.8h2v2h-2zM385 431.8h2v2h-2zM389 431.8h2v2h-2zM399 431.8h2v2h-2zM407 431.8h4v2h-4zM415 431.8h2v2h-2zM425 431.8h8v2h-8zM441 431.8h2v2h-2zM451 431.8h2v2h-2zM459 431.8h2v2h-2zM471 431.8h4v2h-4zM491 431.8h2v2h-2zM497 431.8h2v2h-2zM501 431.8h4v2h-4zM507 431.8h2v2h-2zM511 431.8h2v2h-2zM517 431.8h2v2h-2zM531 431.8h2v2h-2zM541 431.8h4v2h-4zM555 431.8h2v2h-2zM559 431.8h4v2h-4zM589 431.8h2v2h-2zM619 431.8h2v2h-2zM623 431.8h2v2h-2zM631 431.8h2v2h-2zM667 431.8h2v2h-2zM739 431.8h6v2h-6zM821 431.8h2v2h-2zM825 431.8h2v2h-2zM865 431.8h8v2h-8zM149 433.8h2v2h-2zM245 433.8h2v2h-2zM275 433.8h2v2h-2zM465 433.8h2v2h-2zM527 433.8h2v2h-2zM571 433.8h4v2h-4zM583 433.8h4v2h-4zM595 433.8h2v2h-2zM645 433.8h2v2h-2zM701 433.8h2v2h-2zM707 433.8h2v2h-2zM755 433.8h6v2h-6zM785 433.8h2v2h-2zM807 433.8h2v2h-2zM845 433.8h2v2h-2zM849 433.8h4v2h-4zM139 435.8h2v2h-2zM151 435.8h2v2h-2zM157 435.8h2v2h-2zM279 435.8h2v2h-2zM747 435.8h6v2h-6zM763 435.8h2v2h-2zM773 435.8h4v2h-4zM791 435.8h2v2h-2zM797 435.8h4v2h-4zM803 435.8h2v2h-2zM829 435.8h4v2h-4zM835 435.8h4v2h-4zM843 435.8h2v2h-2zM875 435.8h2v2h-2zM883 435.8h2v2h-2zM921 435.8h2v2h-2zM153 437.8h2v2h-2zM725 437.8h4v2h-4zM825 437.8h2v2h-2zM861 437.8h2v2h-2zM871 437.8h2v2h-2zM903 437.8h2v2h-2zM913 437.8h2v2h-2zM133 441.8h2v2h-2zM213 575.8h2v2h-2zM237 577.8h2v2h-2zM137 579.8h2v2h-2zM149 579.8h2v2h-2zM177 579.8h2v2h-2zM191 579.8h2v2h-2zM201 579.8h2v2h-2zM235 579.8h2v2h-2zM247 579.8h2v2h-2zM149 581.8h4v2h-4zM171 581.8h2v2h-2zM181 581.8h2v2h-2zM207 581.8h2v2h-2zM227 581.8h2v2h-2zM153 583.8h2v2h-2zM159 583.8h2v2h-2zM205 583.8h2v2h-2zM229 583.8h2v2h-2zM337 583.8h2v2h-2zM359 583.8h2v2h-2zM373 583.8h2v2h-2zM469 583.8h2v2h-2zM269 585.8h2v2h-2zM321 585.8h2v2h-2zM331 585.8h2v2h-2zM351 585.8h2v2h-2zM377 585.8h2v2h-2zM417 585.8h2v2h-2zM477 585.8h2v2h-2zM595 585.8h2v2h-2zM611 585.8h2v2h-2zM675 585.8h2v2h-2zM315 587.8h2v2h-2zM439 587.8h6v2h-6zM455 587.8h2v2h-2zM467 587.8h2v2h-2zM481 587.8h2v2h-2zM495 587.8h2v2h-2zM499 587.8h2v2h-2zM533 587.8h2v2h-2zM543 587.8h2v2h-2zM551 587.8h2v2h-2zM583 587.8h2v2h-2zM597 587.8h2v2h-2zM657 587.8h2v2h-2zM729 587.8h2v2h-2zM733 587.8h2v2h-2zM759 587.8h2v2h-2zM783 587.8h2v2h-2zM791 587.8h2v2h-2zM275 589.8h2v2h-2zM323 589.8h2v2h-2zM327 589.8h2v2h-2zM381 589.8h2v2h-2zM555 589.8h2v2h-2zM577 589.8h2v2h-2zM747 589.8h2v2h-2zM833 589.8h2v2h-2zM855 589.8h2v2h-2zM253 591.8h2v2h-2zM293 591.8h2v2h-2zM321 591.8h2v2h-2zM387 591.8h2v2h-2zM473 591.8h2v2h-2zM601 591.8h2v2h-2zM629 591.8h2v2h-2zM699 591.8h2v2h-2zM703 591.8h2v2h-2zM861 591.8h2v2h-2zM871 591.8h2v2h-2zM875 591.8h2v2h-2zM885 591.8h2v2h-2zM907 591.8h2v2h-2zM913 591.8h2v2h-2zM161 593.8h2v2h-2zM197 593.8h2v2h-2zM213 593.8h2v2h-2zM217 593.8h2v2h-2zM279 593.8h2v2h-2zM287 593.8h2v2h-2zM413 593.8h2v2h-2zM463 593.8h2v2h-2zM469 593.8h2v2h-2zM527 593.8h2v2h-2zM645 593.8h2v2h-2zM661 593.8h2v2h-2zM709 593.8h2v2h-2zM815 593.8h2v2h-2zM199 595.8h2v2h-2zM241 595.8h2v2h-2zM317 595.8h2v2h-2zM327 595.8h2v2h-2zM343 595.8h2v2h-2zM393 595.8h4v2h-4zM407 595.8h2v2h-2zM421 595.8h2v2h-2zM441 595.8h2v2h-2zM445 595.8h2v2h-2zM497 595.8h2v2h-2zM505 595.8h2v2h-2zM511 595.8h4v2h-4zM521 595.8h2v2h-2zM531 595.8h2v2h-2zM549 595.8h2v2h-2zM567 595.8h4v2h-4zM585 595.8h6v2h-6zM635 595.8h2v2h-2zM715 595.8h4v2h-4zM755 595.8h4v2h-4zM163 597.8h2v2h-2zM181 597.8h2v2h-2zM189 597.8h2v2h-2zM201 597.8h2v2h-2zM237 597.8h4v2h-4zM423 597.8h2v2h-2zM453 597.8h2v2h-2zM515 597.8h2v2h-2zM519 597.8h2v2h-2zM577 597.8h2v2h-2zM617 597.8h2v2h-2zM629 597.8h2v2h-2zM723 597.8h2v2h-2zM759 597.8h2v2h-2zM767 597.8h2v2h-2zM791 597.8h2v2h-2zM155 599.8h2v2h-2zM159 599.8h2v2h-2zM195 599.8h2v2h-2zM211 599.8h2v2h-2zM223 599.8h2v2h-2zM229 599.8h2v2h-2zM235 599.8h2v2h-2zM425 599.8h2v2h-2zM633 599.8h2v2h-2zM771 599.8h2v2h-2zM805 599.8h2v2h-2zM821 599.8h2v2h-2zM843 599.8h2v2h-2zM925 599.8h2v2h-2zM139 601.8h2v2h-2zM165 601.8h4v2h-4zM173 601.8h2v2h-2zM225 601.8h2v2h-2zM233 601.8h2v2h-2zM799 601.8h2v2h-2zM849 601.8h2v2h-2zM863 601.8h2v2h-2zM889 601.8h2v2h-2zM893 601.8h2v2h-2zM169 603.8h2v2h-2zM205 603.8h4v2h-4zM219 603.8h2v2h-2zM227 603.8h2v2h-2zM891 603.8h2v2h-2zM159 679.8h2v2h-2zM135 681.8h4v2h-4zM145 681.8h2v2h-2zM199 681.8h2v2h-2zM227 681.8h2v2h-2zM245 681.8h2v2h-2zM249 681.8h2v2h-2zM259 681.8h6v2h-6zM137 683.8h2v2h-2zM141 683.8h2v2h-2zM147 683.8h2v2h-2zM169 683.8h2v2h-2zM215 683.8h4v2h-4zM233 683.8h2v2h-2zM255 683.8h4v2h-4zM133 685.8h2v2h-2zM155 685.8h2v2h-2zM179 685.8h2v2h-2zM195 685.8h2v2h-2zM207 685.8h2v2h-2zM221 685.8h2v2h-2zM241 685.8h2v2h-2zM251 687.8h4v2h-4zM269 687.8h2v2h-2zM321 687.8h2v2h-2zM469 687.8h2v2h-2zM237 689.8h2v2h-2zM283 689.8h2v2h-2zM295 689.8h2v2h-2zM431 689.8h2v2h-2zM501 689.8h2v2h-2zM643 689.8h2v2h-2zM749 689.8h2v2h-2zM753 689.8h2v2h-2zM757 689.8h2v2h-2zM785 689.8h2v2h-2zM793 689.8h2v2h-2zM305 691.8h2v2h-2zM323 691.8h2v2h-2zM359 691.8h2v2h-2zM373 691.8h2v2h-2zM389 691.8h2v2h-2zM409 691.8h2v2h-2zM413 691.8h2v2h-2zM429 691.8h2v2h-2zM455 691.8h2v2h-2zM465 691.8h2v2h-2zM485 691.8h2v2h-2zM493 691.8h2v2h-2zM529 691.8h2v2h-2zM541 691.8h2v2h-2zM547 691.8h2v2h-2zM551 691.8h2v2h-2zM555 691.8h2v2h-2zM633 691.8h2v2h-2zM637 691.8h2v2h-2zM677 691.8h2v2h-2zM705 691.8h2v2h-2zM729 691.8h4v2h-4zM781 691.8h2v2h-2zM795 691.8h4v2h-4zM829 691.8h2v2h-2zM865 691.8h2v2h-2zM869 691.8h4v2h-4zM881 691.8h2v2h-2zM157 693.8h2v2h-2zM297 693.8h2v2h-2zM313 693.8h2v2h-2zM321 693.8h2v2h-2zM331 693.8h2v2h-2zM385 693.8h2v2h-2zM483 693.8h2v2h-2zM577 693.8h2v2h-2zM603 693.8h2v2h-2zM615 693.8h2v2h-2zM649 693.8h2v2h-2zM691 693.8h2v2h-2zM695 693.8h2v2h-2zM699 693.8h2v2h-2zM733 693.8h4v2h-4zM739 693.8h4v2h-4zM779 693.8h2v2h-2zM835 693.8h2v2h-2zM839 693.8h4v2h-4zM859 693.8h2v2h-2zM895 693.8h2v2h-2zM915 693.8h6v2h-6zM925 693.8h2v2h-2zM275 695.8h2v2h-2zM323 695.8h2v2h-2zM363 695.8h2v2h-2zM383 695.8h2v2h-2zM411 695.8h2v2h-2zM437 695.8h2v2h-2zM447 695.8h2v2h-2zM453 695.8h2v2h-2zM537 695.8h2v2h-2zM551 695.8h2v2h-2zM633 695.8h2v2h-2zM645 695.8h2v2h-2zM713 695.8h2v2h-2zM767 695.8h2v2h-2zM807 695.8h2v2h-2zM811 695.8h2v2h-2zM855 695.8h2v2h-2zM891 695.8h2v2h-2zM899 695.8h2v2h-2zM141 697.8h2v2h-2zM261 697.8h4v2h-4zM279 697.8h2v2h-2zM367 697.8h2v2h-2zM475 697.8h2v2h-2zM529 697.8h2v2h-2zM543 697.8h4v2h-4zM595 697.8h2v2h-2zM647 697.8h2v2h-2zM747 697.8h8v2h-8zM785 697.8h2v2h-2zM879 697.8h2v2h-2zM135 699.8h2v2h-2zM147 699.8h2v2h-2zM191 699.8h4v2h-4zM229 699.8h2v2h-2zM247 699.8h2v2h-2zM259 699.8h4v2h-4zM621 699.8h2v2h-2zM697 699.8h2v2h-2zM701 699.8h2v2h-2zM713 699.8h2v2h-2zM729 699.8h4v2h-4zM781 699.8h2v2h-2zM801 699.8h2v2h-2zM831 699.8h2v2h-2zM867 699.8h2v2h-2zM871 699.8h2v2h-2zM881 699.8h2v2h-2zM921 699.8h2v2h-2zM133 701.8h2v2h-2zM151 701.8h4v2h-4zM163 701.8h2v2h-2zM173 701.8h2v2h-2zM183 701.8h2v2h-2zM203 701.8h2v2h-2zM207 701.8h2v2h-2zM735 701.8h2v2h-2zM765 701.8h2v2h-2zM779 701.8h2v2h-2zM841 701.8h2v2h-2zM859 701.8h2v2h-2zM883 701.8h2v2h-2zM895 701.8h2v2h-2zM917 701.8h2v2h-2zM925 701.8h2v2h-2zM767 703.8h2v2h-2zM807 703.8h2v2h-2zM811 703.8h2v2h-2zM885 703.8h2v2h-2zM891 703.8h2v2h-2zM899 703.8h2v2h-2zM197 705.8h2v2h-2zM241 705.8h2v2h-2zM769 705.8h2v2h-2zM773 705.8h4v2h-4z"/>
<path fill="#0000bf" d="M137 127.8h2v2h-2zM147 127.8h2v2h-2zM151 127.8h2v2h-2zM211 127.8h2v2h-2zM215 127.8h2v2h-2zM239 127.8h2v2h-2zM275 127.8h2v2h-2zM293 127.8h2v2h-2zM377 127.8h2v2h-2zM579 127.8h2v2h-2zM133 129.8h2v2h-2zM297 129.8h2v2h-2zM327 129.8h2v2h-2zM347 129.8h2v2h-2zM355 129.8h2v2h-2zM411 129.8h2v2h-2zM431 129.8h2v2h-2zM565 129.8h2v2h-2zM603 129.8h2v2h-2zM647 129.8h2v2h-2zM881 129.8h4v2h-4zM889 129.8h2v2h-2zM135 131.8h2v2h-2zM151 131.8h2v2h-2zM295 131.8h2v2h-2zM389 131.8h2v2h-2zM497 131.8h2v2h-2zM551 131.8h2v2h-2zM635 131.8h2v2h-2zM679 131.8h4v2h-4zM723 131.8h2v2h-2zM755 131.8h2v2h-2zM763 131.8h2v2h-2zM773 131.8h2v2h-2zM797 131.8h2v2h-2zM805 131.8h6v2h-6zM817 131.8h2v2h-2zM879 131.8h2v2h-2zM197 133.8h2v2h-2zM425 133.8h2v2h-2zM553 133.8h2v2h-2zM565 133.8h4v2h-4zM603 133.8h2v2h-2zM617 133.8h2v2h-2zM667 133.8h2v2h-2zM739 133.8h2v2h-2zM779 133.8h2v2h-2zM825 133.8h4v2h-4zM843 133.8h2v2h-2zM867 133.8h2v2h-2zM885 133.8h4v2h-4zM911 133.8h2v2h-2zM923 133.8h2v2h-2zM161 135.8h2v2h-2zM633 135.8h2v2h-2zM647 135.8h4v2h-4zM681 135.8h2v2h-2zM741 135.8h2v2h-2zM747 135.8h2v2h-2zM755 135.8h2v2h-2zM763 135.8h2v2h-2zM799 135.8h2v2h-2zM805 135.8h4v2h-4zM871 135.8h2v2h-2zM889 135.8h2v2h-2zM909 135.8h2v2h-2zM667 137.8h2v2h-2zM701 137.8h2v2h-2zM759 137.8h2v2h-2zM779 137.8h2v2h-2zM783 137.8h2v2h-2zM795 137.8h2v2h-2zM811 137.8h2v2h-2zM815 137.8h2v2h-2zM823 137.8h2v2h-2zM827 137.8h2v2h-2zM861 137.8h2v2h-2zM895 137.8h2v2h-2zM925 137.8h2v2h-2zM833 139.8h2v2h-2zM871 139.8h4v2h-4zM897 139.8h2v2h-2zM901 139.8h2v2h-2zM909 139.8h2v2h-2zM915 139.8h2v2h-2zM903 143.8h2v2h-2zM147 229.8h2v2h-2zM285 229.8h2v2h-2zM149 231.8h2v2h-2zM153 231.8h2v2h-2zM173 231.8h2v2h-2zM291 231.8h2v2h-2zM211 233.8h2v2h-2zM283 233.8h2v2h-2zM293 233.8h2v2h-2zM445 233.8h2v2h-2zM159 235.8h2v2h-2zM269 235.8h2v2h-2zM325 235.8h2v2h-2zM753 235.8h6v2h-6zM907 235.8h4v2h-4zM189 237.8h2v2h-2zM257 237.8h2v2h-2zM315 237.8h2v2h-2zM591 237.8h2v2h-2zM599 237.8h2v2h-2zM623 237.8h2v2h-2zM677 237.8h2v2h-2zM789 237.8h2v2h-2zM793 237.8h2v2h-2zM877 237.8h4v2h-4zM171 239.8h2v2h-2zM233 239.8h2v2h-2zM277 239.8h2v2h-2zM401 239.8h2v2h-2zM629 239.8h2v2h-2zM741 239.8h2v2h-2zM785 239.8h2v2h-2zM807 239.8h2v2h-2zM813 239.8h2v2h-2zM817 239.8h4v2h-4zM839 239.8h2v2h-2zM845 239.8h2v2h-2zM893 239.8h2v2h-2zM903 239.8h2v2h-2zM927 239.8h2v2h-2zM179 241.8h2v2h-2zM237 241.8h2v2h-2zM275 241.8h2v2h-2zM317 241.8h2v2h-2zM477 241.8h2v2h-2zM567 241.8h2v2h-2zM773 241.8h2v2h-2zM851 241.8h2v2h-2zM855 241.8h2v2h-2zM895 241.8h2v2h-2zM401 243.8h2v2h-2zM507 243.8h2v2h-2zM549 243.8h2v2h-2zM745 243.8h2v2h-2zM755 243.8h2v2h-2zM759 243.8h2v2h-2zM777 243.8h2v2h-2zM899 243.8h2v2h-2zM155 245.8h4v2h-4zM419 245.8h2v2h-2zM545 245.8h2v2h-2zM739 245.8h2v2h-2zM787 245.8h2v2h-2zM799 245.8h2v2h-2zM805 245.8h2v2h-2zM843 245.8h2v2h-2zM873 245.8h2v2h-2zM913 245.8h2v2h-2zM809 247.8h2v2h-2zM823 247.8h6v2h-6zM835 247.8h4v2h-4zM845 247.8h2v2h-2zM859 249.8h2v2h-2zM747 251.8h2v2h-2zM777 251.8h4v2h-4zM145 413.8h2v2h-2zM141 415.8h2v2h-2zM149 417.8h2v2h-2zM157 419.8h2v2h-2zM227 421.8h2v2h-2zM261 421.8h2v2h-2zM383 421.8h2v2h-2zM133 423.8h2v2h-2zM169 423.8h2v2h-2zM281 423.8h2v2h-2zM287 423.8h2v2h-2zM321 423.8h2v2h-2zM373 423.8h2v2h-2zM177 425.8h2v2h-2zM187 425.8h2v2h-2zM225 425.8h2v2h-2zM401 425.8h2v2h-2zM453 425.8h2v2h-2zM459 425.8h2v2h-2zM503 425.8h2v2h-2zM507 425.8h2v2h-2zM553 425.8h2v2h-2zM557 425.8h4v2h-4zM687 425.8h2v2h-2zM739 425.8h2v2h-2zM743 425.8h2v2h-2zM143 427.8h2v2h-2zM173 427.8h2v2h-2zM227 427.8h2v2h-2zM463 427.8h4v2h-4zM477 427.8h4v2h-4zM483 427.8h4v2h-4zM513 427.8h4v2h-4zM525 427.8h4v2h-4zM533 427.8h6v2h-6zM569 427.8h2v2h-2zM593 427.8h2v2h-2zM683 427.8h2v2h-2zM735 427.8h2v2h-2zM753 427.8h4v2h-4zM759 427.8h2v2h-2zM787 427.8h2v2h-2zM805 427.8h2v2h-2zM813 427.8h2v2h-2zM853 427.8h2v2h-2zM207 429.8h2v2h-2zM219 429.8h2v2h-2zM263 429.8h2v2h-2zM277 429.8h2v2h-2zM307 429.8h2v2h-2zM321 429.8h2v2h-2zM369 429.8h2v2h-2zM403 429.8h2v2h-2zM453 429.8h2v2h-2zM731 429.8h4v2h-4zM749 429.8h2v2h-2zM797 429.8h8v2h-8zM815 429.8h2v2h-2zM829 429.8h2v2h-2zM837 429.8h2v2h-2zM859 429.8h2v2h-2zM873 429.8h2v2h-2zM891 429.8h2v2h-2zM897 429.8h2v2h-2zM925 429.8h2v2h-2zM145 431.8h2v2h-2zM311 431.8h2v2h-2zM361 431.8h2v2h-2zM393 431.8h2v2h-2zM397 431.8h2v2h-2zM413 431.8h2v2h-2zM417 431.8h2v2h-2zM433 431.8h2v2h-2zM449 431.8h2v2h-2zM461 431.8h2v2h-2zM477 431.8h2v2h-2zM487 431.8h4v2h-4zM509 431.8h2v2h-2zM557 431.8h2v2h-2zM565 431.8h2v2h-2zM577 431.8h2v2h-2zM587 431.8h2v2h-2zM691 431.8h2v2h-2zM697 431.8h2v2h-2zM781 431.8h2v2h-2zM819 431.8h2v2h-2zM847 431.8h2v2h-2zM863 431.8h2v2h-2zM911 431.8h2v2h-2zM141 433.8h2v2h-2zM151 433.8h2v2h-2zM161 433.8h2v2h-2zM689 433.8h2v2h-2zM761 433.8h2v2h-2zM787 433.8h2v2h-2zM805 433.8h2v2h-2zM853 433.8h2v2h-2zM877 433.8h2v2h-2zM881 433.8h2v2h-2zM729 435.8h2v2h-2zM733 435.8h2v2h-2zM765 435.8h2v2h-2zM795 435.8h2v2h-2zM801 435.8h2v2h-2zM815 435.8h2v2h-2zM827 435.8h2v2h-2zM839 435.8h2v2h-2zM857 435.8h2v2h-2zM873 435.8h2v2h-2zM887 435.8h2v2h-2zM891 435.8h2v2h-2zM907 435.8h2v2h-2zM923 435.8h2v2h-2zM821 437.8h4v2h-4zM863 437.8h4v2h-4zM869 437.8h2v2h-2zM911 437.8h2v2h-2zM133 439.8h2v2h-2zM139 575.8h2v2h-2zM163 575.8h2v2h-2zM161 577.8h2v2h-2zM185 577.8h2v2h-2zM213 577.8h2v2h-2zM219 577.8h2v2h-2zM183 579.8h2v2h-2zM217 579.8h2v2h-2zM231 579.8h2v2h-2zM241 579.8h2v2h-2zM165 581.8h2v2h-2zM169 581.8h2v2h-2zM203 581.8h2v2h-2zM243 581.8h2v2h-2zM155 583.8h2v2h-2zM193 583.8h2v2h-2zM209 583.8h4v2h-4zM245 583.8h2v2h-2zM371 583.8h2v2h-2zM253 585.8h2v2h-2zM353 585.8h2v2h-2zM399 585.8h2v2h-2zM405 585.8h2v2h-2zM409 585.8h2v2h-2zM413 585.8h2v2h-2zM463 585.8h2v2h-2zM787 585.8h4v2h-4zM313 587.8h2v2h-2zM391 587.8h4v2h-4zM435 587.8h2v2h-2zM445 587.8h2v2h-2zM457 587.8h2v2h-2zM479 587.8h2v2h-2zM497 587.8h2v2h-2zM505 587.8h2v2h-2zM511 587.8h4v2h-4zM521 587.8h2v2h-2zM565 587.8h4v2h-4zM579 587.8h2v2h-2zM587 587.8h2v2h-2zM645 587.8h2v2h-2zM337 589.8h2v2h-2zM359 589.8h2v2h-2zM487 589.8h2v2h-2zM535 589.8h2v2h-2zM539 589.8h2v2h-2zM573 589.8h2v2h-2zM635 589.8h2v2h-2zM715 589.8h2v2h-2zM737 589.8h2v2h-2zM829 589.8h2v2h-2zM853 589.8h2v2h-2zM857 589.8h2v2h-2zM883 589.8h2v2h-2zM161 591.8h2v2h-2zM621 591.8h2v2h-2zM723 591.8h2v2h-2zM743 591.8h2v2h-2zM801 591.8h4v2h-4zM811 591.8h2v2h-2zM289 593.8h2v2h-2zM319 593.8h2v2h-2zM369 593.8h2v2h-2zM399 593.8h2v2h-2zM405 593.8h2v2h-2zM409 593.8h2v2h-2zM417 593.8h2v2h-2zM447 593.8h2v2h-2zM613 593.8h2v2h-2zM633 593.8h2v2h-2zM657 593.8h2v2h-2zM665 593.8h2v2h-2zM719 593.8h2v2h-2zM899 593.8h4v2h-4zM143 595.8h2v2h-2zM189 595.8h2v2h-2zM323 595.8h4v2h-4zM431 595.8h2v2h-2zM435 595.8h2v2h-2zM443 595.8h2v2h-2zM457 595.8h2v2h-2zM479 595.8h2v2h-2zM529 595.8h2v2h-2zM543 595.8h2v2h-2zM689 595.8h2v2h-2zM753 595.8h2v2h-2zM837 595.8h2v2h-2zM153 597.8h2v2h-2zM157 597.8h2v2h-2zM209 597.8h2v2h-2zM245 597.8h2v2h-2zM387 597.8h2v2h-2zM487 597.8h4v2h-4zM535 597.8h2v2h-2zM555 597.8h2v2h-2zM573 597.8h2v2h-2zM703 597.8h2v2h-2zM713 597.8h2v2h-2zM829 597.8h2v2h-2zM855 597.8h2v2h-2zM881 597.8h2v2h-2zM147 599.8h2v2h-2zM191 599.8h2v2h-2zM203 599.8h2v2h-2zM243 599.8h2v2h-2zM667 599.8h2v2h-2zM741 599.8h8v2h-8zM783 599.8h2v2h-2zM803 599.8h2v2h-2zM809 599.8h4v2h-4zM823 599.8h6v2h-6zM859 599.8h2v2h-2zM869 599.8h2v2h-2zM883 599.8h2v2h-2zM909 599.8h4v2h-4zM921 599.8h2v2h-2zM135 601.8h2v2h-2zM813 601.8h2v2h-2zM887 601.8h2v2h-2zM905 601.8h2v2h-2zM193 605.8h2v2h-2zM191 679.8h2v2h-2zM229 679.8h2v2h-2zM247 681.8h2v2h-2zM153 683.8h2v2h-2zM173 683.8h2v2h-2zM181 683.8h4v2h-4zM199 683.8h2v2h-2zM203 683.8h2v2h-2zM153 685.8h2v2h-2zM169 685.8h2v2h-2zM197 685.8h2v2h-2zM151 687.8h2v2h-2zM155 687.8h2v2h-2zM179 687.8h2v2h-2zM213 687.8h2v2h-2zM221 687.8h2v2h-2zM235 687.8h2v2h-2zM243 687.8h2v2h-2zM351 687.8h2v2h-2zM211 689.8h2v2h-2zM615 689.8h2v2h-2zM709 689.8h2v2h-2zM747 689.8h2v2h-2zM759 689.8h2v2h-2zM787 689.8h2v2h-2zM791 689.8h2v2h-2zM277 691.8h2v2h-2zM327 691.8h2v2h-2zM369 691.8h2v2h-2zM459 691.8h2v2h-2zM509 691.8h2v2h-2zM607 691.8h2v2h-2zM641 691.8h2v2h-2zM745 691.8h2v2h-2zM803 691.8h2v2h-2zM827 691.8h2v2h-2zM867 691.8h2v2h-2zM875 691.8h4v2h-4zM281 693.8h2v2h-2zM285 693.8h2v2h-2zM307 693.8h2v2h-2zM595 693.8h2v2h-2zM765 693.8h2v2h-2zM799 693.8h2v2h-2zM815 693.8h2v2h-2zM847 693.8h2v2h-2zM883 693.8h2v2h-2zM913 693.8h2v2h-2zM921 693.8h4v2h-4zM159 695.8h2v2h-2zM373 695.8h2v2h-2zM405 695.8h2v2h-2zM427 695.8h2v2h-2zM493 695.8h2v2h-2zM519 695.8h2v2h-2zM569 695.8h2v2h-2zM697 695.8h2v2h-2zM777 695.8h2v2h-2zM789 695.8h2v2h-2zM851 695.8h4v2h-4zM857 695.8h2v2h-2zM885 695.8h2v2h-2zM905 695.8h2v2h-2zM927 695.8h2v2h-2zM143 697.8h2v2h-2zM177 697.8h2v2h-2zM229 697.8h2v2h-2zM651 697.8h2v2h-2zM661 697.8h2v2h-2zM717 697.8h2v2h-2zM745 697.8h2v2h-2zM769 697.8h2v2h-2zM875 697.8h4v2h-4zM887 697.8h4v2h-4zM929 697.8h2v2h-2zM139 699.8h2v2h-2zM181 699.8h2v2h-2zM189 699.8h2v2h-2zM203 699.8h4v2h-4zM221 699.8h2v2h-2zM231 699.8h2v2h-2zM629 699.8h2v2h-2zM743 699.8h2v2h-2zM797 699.8h4v2h-4zM817 699.8h2v2h-2zM823 699.8h4v2h-4zM835 699.8h2v2h-2zM845 699.8h2v2h-2zM863 699.8h2v2h-2zM913 699.8h2v2h-2zM209 701.8h2v2h-2zM239 701.8h2v2h-2zM243 701.8h2v2h-2zM253 701.8h2v2h-2zM737 701.8h4v2h-4zM837 701.8h2v2h-2zM849 701.8h2v2h-2zM893 701.8h2v2h-2zM149 703.8h2v2h-2zM211 703.8h4v2h-4zM251 703.8h2v2h-2zM805 703.8h2v2h-2zM889 703.8h2v2h-2zM901 703.8h4v2h-4zM929 703.8h2v2h-2zM149 705.8h2v2h-2zM167 707.8h2v2h-2z"/>
<path fill="#0000cf" d="M721 125.8h2v2h-2zM149 127.8h2v2h-2zM175 127.8h2v2h-2zM225 129.8h2v2h-2zM279 129.8h2v2h-2zM503 129.8h2v2h-2zM531 129.8h2v2h-2zM587 129.8h2v2h-2zM749 129.8h2v2h-2zM753 129.8h2v2h-2zM255 131.8h2v2h-2zM403 131.8h2v2h-2zM465 131.8h2v2h-2zM633 131.8h2v2h-2zM651 131.8h2v2h-2zM671 131.8h2v2h-2zM713 131.8h2v2h-2zM743 131.8h2v2h-2zM929 131.8h2v2h-2zM227 133.8h2v2h-2zM285 133.8h4v2h-4zM347 133.8h2v2h-2zM429 133.8h2v2h-2zM481 133.8h2v2h-2zM493 133.8h2v2h-2zM585 133.8h2v2h-2zM597 133.8h2v2h-2zM615 133.8h2v2h-2zM669 133.8h2v2h-2zM759 133.8h2v2h-2zM811 133.8h2v2h-2zM815 133.8h2v2h-2zM823 133.8h2v2h-2zM859 133.8h2v2h-2zM413 135.8h2v2h-2zM637 135.8h2v2h-2zM699 135.8h2v2h-2zM727 135.8h2v2h-2zM771 135.8h2v2h-2zM821 135.8h2v2h-2zM853 135.8h2v2h-2zM873 135.8h2v2h-2zM921 135.8h2v2h-2zM825 137.8h2v2h-2zM843 137.8h2v2h-2zM847 137.8h2v2h-2zM859 137.8h2v2h-2zM865 137.8h4v2h-4zM905 137.8h2v2h-2zM853 139.8h4v2h-4zM921 139.8h2v2h-2zM905 141.8h2v2h-2zM897 143.8h2v2h-2zM145 227.8h2v2h-2zM151 227.8h2v2h-2zM143 231.8h2v2h-2zM155 231.8h2v2h-2zM157 233.8h2v2h-2zM271 233.8h2v2h-2zM345 233.8h2v2h-2zM253 235.8h2v2h-2zM275 235.8h2v2h-2zM287 235.8h2v2h-2zM377 235.8h2v2h-2zM395 235.8h2v2h-2zM461 235.8h2v2h-2zM499 235.8h4v2h-4zM675 235.8h2v2h-2zM255 237.8h2v2h-2zM791 237.8h2v2h-2zM253 239.8h2v2h-2zM259 239.8h2v2h-2zM465 239.8h2v2h-2zM565 239.8h2v2h-2zM627 239.8h2v2h-2zM717 239.8h2v2h-2zM767 239.8h2v2h-2zM787 239.8h2v2h-2zM815 239.8h2v2h-2zM841 239.8h2v2h-2zM887 239.8h4v2h-4zM349 241.8h2v2h-2zM475 241.8h2v2h-2zM515 241.8h2v2h-2zM569 241.8h2v2h-2zM743 241.8h2v2h-2zM775 241.8h2v2h-2zM821 241.8h4v2h-4zM835 241.8h2v2h-2zM847 241.8h4v2h-4zM857 241.8h2v2h-2zM867 241.8h2v2h-2zM143 243.8h2v2h-2zM359 243.8h2v2h-2zM363 243.8h2v2h-2zM599 243.8h2v2h-2zM603 243.8h2v2h-2zM691 243.8h2v2h-2zM719 243.8h2v2h-2zM791 243.8h2v2h-2zM911 243.8h2v2h-2zM763 245.8h2v2h-2zM841 245.8h2v2h-2zM139 247.8h2v2h-2zM147 247.8h2v2h-2zM751 247.8h2v2h-2zM771 247.8h2v2h-2zM831 247.8h4v2h-4zM869 247.8h2v2h-2zM903 247.8h2v2h-2zM863 249.8h2v2h-2zM895 249.8h2v2h-2zM141 417.8h2v2h-2zM161 417.8h2v2h-2zM137 421.8h2v2h-2zM159 421.8h2v2h-2zM269 421.8h2v2h-2zM341 421.8h2v2h-2zM139 423.8h2v2h-2zM153 423.8h2v2h-2zM273 423.8h2v2h-2zM325 423.8h2v2h-2zM337 423.8h2v2h-2zM347 423.8h2v2h-2zM269 425.8h2v2h-2zM289 425.8h2v2h-2zM299 425.8h2v2h-2zM311 425.8h2v2h-2zM331 425.8h2v2h-2zM351 425.8h2v2h-2zM377 425.8h2v2h-2zM389 425.8h2v2h-2zM417 425.8h2v2h-2zM423 425.8h2v2h-2zM601 425.8h2v2h-2zM741 425.8h2v2h-2zM783 425.8h2v2h-2zM447 427.8h2v2h-2zM469 427.8h4v2h-4zM481 427.8h2v2h-2zM519 427.8h2v2h-2zM547 427.8h2v2h-2zM565 427.8h2v2h-2zM573 427.8h2v2h-2zM577 427.8h2v2h-2zM757 427.8h2v2h-2zM851 427.8h2v2h-2zM877 427.8h2v2h-2zM881 427.8h2v2h-2zM145 429.8h4v2h-4zM279 429.8h2v2h-2zM293 429.8h2v2h-2zM299 429.8h2v2h-2zM343 429.8h2v2h-2zM357 429.8h2v2h-2zM419 429.8h2v2h-2zM641 429.8h2v2h-2zM711 429.8h2v2h-2zM753 429.8h2v2h-2zM763 429.8h2v2h-2zM793 429.8h2v2h-2zM831 429.8h2v2h-2zM857 429.8h2v2h-2zM893 429.8h2v2h-2zM907 429.8h2v2h-2zM921 429.8h2v2h-2zM927 429.8h2v2h-2zM141 431.8h2v2h-2zM151 431.8h2v2h-2zM155 431.8h2v2h-2zM375 431.8h2v2h-2zM463 431.8h2v2h-2zM469 431.8h2v2h-2zM479 431.8h2v2h-2zM483 431.8h2v2h-2zM495 431.8h2v2h-2zM513 431.8h4v2h-4zM519 431.8h4v2h-4zM527 431.8h2v2h-2zM537 431.8h2v2h-2zM547 431.8h2v2h-2zM563 431.8h2v2h-2zM693 431.8h2v2h-2zM757 431.8h2v2h-2zM783 431.8h2v2h-2zM823 431.8h2v2h-2zM841 431.8h2v2h-2zM861 431.8h2v2h-2zM899 431.8h2v2h-2zM903 431.8h2v2h-2zM569 433.8h2v2h-2zM715 433.8h2v2h-2zM735 433.8h2v2h-2zM777 433.8h2v2h-2zM813 433.8h2v2h-2zM833 433.8h2v2h-2zM855 433.8h2v2h-2zM135 435.8h4v2h-4zM153 435.8h2v2h-2zM159 435.8h2v2h-2zM731 435.8h2v2h-2zM769 435.8h4v2h-4zM841 435.8h2v2h-2zM859 435.8h2v2h-2zM897 435.8h2v2h-2zM915 435.8h2v2h-2zM925 435.8h2v2h-2zM133 437.8h2v2h-2zM899 437.8h2v2h-2zM139 577.8h2v2h-2zM163 577.8h2v2h-2zM179 577.8h2v2h-2zM197 577.8h2v2h-2zM215 577.8h2v2h-2zM141 579.8h2v2h-2zM147 579.8h2v2h-2zM179 579.8h2v2h-2zM215 579.8h2v2h-2zM189 581.8h4v2h-4zM223 581.8h2v2h-2zM247 581.8h2v2h-2zM135 583.8h2v2h-2zM167 583.8h2v2h-2zM175 583.8h2v2h-2zM187 583.8h2v2h-2zM473 583.8h2v2h-2zM155 585.8h2v2h-2zM159 585.8h2v2h-2zM173 585.8h2v2h-2zM205 585.8h2v2h-2zM369 585.8h2v2h-2zM471 585.8h2v2h-2zM527 585.8h2v2h-2zM547 585.8h2v2h-2zM225 587.8h2v2h-2zM287 587.8h2v2h-2zM357 587.8h2v2h-2zM395 587.8h2v2h-2zM421 587.8h2v2h-2zM431 587.8h2v2h-2zM449 587.8h4v2h-4zM501 587.8h2v2h-2zM507 587.8h4v2h-4zM529 587.8h4v2h-4zM545 587.8h2v2h-2zM563 587.8h2v2h-2zM731 587.8h2v2h-2zM489 589.8h2v2h-2zM553 589.8h2v2h-2zM647 589.8h2v2h-2zM717 589.8h2v2h-2zM769 589.8h2v2h-2zM841 589.8h2v2h-2zM927 589.8h2v2h-2zM185 591.8h2v2h-2zM257 591.8h2v2h-2zM325 591.8h2v2h-2zM377 591.8h2v2h-2zM403 591.8h2v2h-2zM471 591.8h2v2h-2zM607 591.8h2v2h-2zM695 591.8h2v2h-2zM721 591.8h2v2h-2zM741 591.8h2v2h-2zM817 591.8h2v2h-2zM823 591.8h4v2h-4zM909 591.8h4v2h-4zM183 593.8h2v2h-2zM273 593.8h2v2h-2zM449 593.8h2v2h-2zM501 593.8h2v2h-2zM507 593.8h2v2h-2zM563 593.8h2v2h-2zM595 593.8h2v2h-2zM889 593.8h2v2h-2zM893 593.8h2v2h-2zM903 593.8h2v2h-2zM133 595.8h2v2h-2zM151 595.8h2v2h-2zM163 595.8h2v2h-2zM239 595.8h2v2h-2zM245 595.8h2v2h-2zM383 595.8h2v2h-2zM439 595.8h2v2h-2zM467 595.8h2v2h-2zM493 595.8h4v2h-4zM533 595.8h2v2h-2zM559 595.8h2v2h-2zM581 595.8h4v2h-4zM631 595.8h2v2h-2zM187 597.8h2v2h-2zM211 597.8h2v2h-2zM223 597.8h2v2h-2zM229 597.8h2v2h-2zM283 597.8h2v2h-2zM537 597.8h2v2h-2zM575 597.8h2v2h-2zM601 597.8h2v2h-2zM665 597.8h2v2h-2zM761 597.8h2v2h-2zM833 597.8h2v2h-2zM841 597.8h2v2h-2zM857 597.8h2v2h-2zM927 597.8h2v2h-2zM135 599.8h6v2h-6zM173 599.8h2v2h-2zM177 599.8h2v2h-2zM663 599.8h2v2h-2zM781 599.8h2v2h-2zM907 599.8h2v2h-2zM171 601.8h2v2h-2zM219 601.8h2v2h-2zM861 601.8h2v2h-2zM899 601.8h2v2h-2zM903 601.8h2v2h-2zM175 603.8h2v2h-2zM897 603.8h2v2h-2zM157 679.8h2v2h-2zM189 679.8h2v2h-2zM161 681.8h2v2h-2zM135 683.8h2v2h-2zM145 683.8h2v2h-2zM193 683.8h2v2h-2zM209 683.8h2v2h-2zM227 683.8h2v2h-2zM249 683.8h2v2h-2zM263 683.8h2v2h-2zM215 685.8h2v2h-2zM223 685.8h2v2h-2zM227 685.8h2v2h-2zM233 685.8h2v2h-2zM241 687.8h2v2h-2zM271 687.8h2v2h-2zM165 689.8h2v2h-2zM387 689.8h2v2h-2zM391 689.8h2v2h-2zM575 689.8h2v2h-2zM167 691.8h2v2h-2zM237 691.8h2v2h-2zM271 691.8h2v2h-2zM333 691.8h2v2h-2zM435 691.8h2v2h-2zM645 691.8h2v2h-2zM707 691.8h2v2h-2zM751 691.8h2v2h-2zM783 691.8h4v2h-4zM451 693.8h2v2h-2zM549 693.8h2v2h-2zM601 693.8h2v2h-2zM681 693.8h2v2h-2zM819 693.8h6v2h-6zM837 693.8h2v2h-2zM843 693.8h2v2h-2zM911 693.8h2v2h-2zM137 695.8h2v2h-2zM227 695.8h2v2h-2zM409 695.8h2v2h-2zM435 695.8h2v2h-2zM459 695.8h2v2h-2zM621 695.8h2v2h-2zM759 695.8h2v2h-2zM791 695.8h4v2h-4zM895 695.8h2v2h-2zM145 697.8h4v2h-4zM161 697.8h2v2h-2zM223 697.8h2v2h-2zM247 697.8h2v2h-2zM257 697.8h2v2h-2zM339 697.8h2v2h-2zM473 697.8h2v2h-2zM483 697.8h2v2h-2zM783 697.8h2v2h-2zM829 697.8h2v2h-2zM901 697.8h4v2h-4zM133 699.8h2v2h-2zM161 699.8h4v2h-4zM183 699.8h2v2h-2zM199 699.8h2v2h-2zM215 699.8h2v2h-2zM243 699.8h2v2h-2zM741 699.8h2v2h-2zM771 699.8h4v2h-4zM843 699.8h2v2h-2zM847 699.8h2v2h-2zM169 701.8h2v2h-2zM179 701.8h2v2h-2zM213 701.8h2v2h-2zM241 701.8h2v2h-2zM249 701.8h2v2h-2zM777 701.8h2v2h-2zM857 701.8h2v2h-2zM233 703.8h4v2h-4zM887 703.8h2v2h-2zM771 705.8h2v2h-2z"/>
<path fill="#0000df" d="M163 129.8h4v2h-4zM189 129.8h2v2h-2zM339 129.8h2v2h-2zM433 129.8h2v2h-2zM439 129.8h4v2h-4zM467 129.8h2v2h-2zM215 131.8h2v2h-2zM285 131.8h2v2h-2zM329 131.8h2v2h-2zM405 131.8h2v2h-2zM479 131.8h2v2h-2zM519 131.8h2v2h-2zM589 131.8h2v2h-2zM683 131.8h2v2h-2zM695 131.8h2v2h-2zM707 131.8h2v2h-2zM741 131.8h2v2h-2zM745 131.8h2v2h-2zM749 131.8h2v2h-2zM771 131.8h2v2h-2zM819 131.8h2v2h-2zM297 133.8h2v2h-2zM327 133.8h2v2h-2zM345 133.8h2v2h-2zM351 133.8h2v2h-2zM433 133.8h2v2h-2zM495 133.8h2v2h-2zM527 133.8h2v2h-2zM571 133.8h2v2h-2zM795 133.8h2v2h-2zM883 133.8h2v2h-2zM695 135.8h2v2h-2zM773 135.8h2v2h-2zM917 135.8h2v2h-2zM841 137.8h2v2h-2zM845 137.8h2v2h-2zM835 139.8h2v2h-2zM139 231.8h2v2h-2zM171 235.8h2v2h-2zM251 235.8h2v2h-2zM383 235.8h2v2h-2zM459 235.8h2v2h-2zM195 237.8h2v2h-2zM231 237.8h2v2h-2zM307 237.8h2v2h-2zM405 237.8h2v2h-2zM531 237.8h2v2h-2zM311 239.8h2v2h-2zM321 239.8h2v2h-2zM449 239.8h2v2h-2zM491 239.8h2v2h-2zM579 239.8h2v2h-2zM621 239.8h2v2h-2zM639 239.8h2v2h-2zM843 239.8h2v2h-2zM871 239.8h2v2h-2zM195 241.8h2v2h-2zM539 241.8h2v2h-2zM751 241.8h2v2h-2zM827 241.8h2v2h-2zM869 241.8h2v2h-2zM919 241.8h2v2h-2zM229 243.8h2v2h-2zM245 243.8h2v2h-2zM305 243.8h2v2h-2zM779 243.8h2v2h-2zM799 243.8h2v2h-2zM853 243.8h2v2h-2zM861 243.8h2v2h-2zM877 243.8h2v2h-2zM921 243.8h2v2h-2zM151 245.8h4v2h-4zM701 245.8h2v2h-2zM767 245.8h2v2h-2zM813 245.8h2v2h-2zM641 247.8h2v2h-2zM821 247.8h2v2h-2zM847 247.8h2v2h-2zM851 247.8h8v2h-8zM867 247.8h2v2h-2zM147 415.8h2v2h-2zM141 419.8h2v2h-2zM155 419.8h2v2h-2zM135 421.8h2v2h-2zM157 421.8h2v2h-2zM151 423.8h2v2h-2zM267 423.8h2v2h-2zM133 425.8h2v2h-2zM163 425.8h2v2h-2zM167 425.8h2v2h-2zM319 425.8h2v2h-2zM403 425.8h2v2h-2zM419 425.8h2v2h-2zM441 425.8h2v2h-2zM609 425.8h2v2h-2zM147 427.8h2v2h-2zM255 427.8h2v2h-2zM285 427.8h2v2h-2zM347 427.8h2v2h-2zM393 427.8h2v2h-2zM531 427.8h2v2h-2zM847 427.8h2v2h-2zM225 429.8h2v2h-2zM273 429.8h2v2h-2zM351 429.8h2v2h-2zM363 429.8h2v2h-2zM377 429.8h2v2h-2zM401 429.8h2v2h-2zM629 429.8h2v2h-2zM645 429.8h2v2h-2zM741 429.8h2v2h-2zM773 429.8h4v2h-4zM923 429.8h2v2h-2zM149 431.8h2v2h-2zM553 431.8h2v2h-2zM567 431.8h2v2h-2zM581 431.8h2v2h-2zM603 431.8h2v2h-2zM683 431.8h2v2h-2zM807 431.8h2v2h-2zM157 433.8h2v2h-2zM163 433.8h2v2h-2zM365 433.8h2v2h-2zM681 433.8h2v2h-2zM753 433.8h2v2h-2zM163 435.8h2v2h-2zM767 435.8h2v2h-2zM927 435.8h2v2h-2zM199 577.8h2v2h-2zM133 579.8h2v2h-2zM161 579.8h2v2h-2zM197 579.8h2v2h-2zM143 581.8h2v2h-2zM177 581.8h2v2h-2zM233 581.8h4v2h-4zM157 583.8h2v2h-2zM169 583.8h2v2h-2zM181 583.8h2v2h-2zM195 583.8h2v2h-2zM207 583.8h2v2h-2zM227 583.8h2v2h-2zM243 583.8h2v2h-2zM135 585.8h2v2h-2zM229 585.8h2v2h-2zM251 585.8h2v2h-2zM265 585.8h2v2h-2zM333 585.8h2v2h-2zM403 585.8h2v2h-2zM475 585.8h2v2h-2zM355 587.8h2v2h-2zM375 587.8h2v2h-2zM447 587.8h2v2h-2zM459 587.8h2v2h-2zM523 587.8h2v2h-2zM549 587.8h2v2h-2zM585 587.8h2v2h-2zM693 587.8h2v2h-2zM755 587.8h2v2h-2zM761 587.8h2v2h-2zM251 589.8h2v2h-2zM343 589.8h2v2h-2zM367 589.8h2v2h-2zM371 589.8h2v2h-2zM383 589.8h2v2h-2zM389 589.8h2v2h-2zM491 589.8h4v2h-4zM517 589.8h2v2h-2zM609 589.8h2v2h-2zM661 589.8h2v2h-2zM697 589.8h2v2h-2zM765 589.8h4v2h-4zM881 589.8h2v2h-2zM197 591.8h2v2h-2zM213 591.8h2v2h-2zM269 591.8h2v2h-2zM351 591.8h2v2h-2zM611 591.8h2v2h-2zM653 591.8h2v2h-2zM745 591.8h2v2h-2zM795 591.8h2v2h-2zM845 591.8h2v2h-2zM869 591.8h2v2h-2zM895 591.8h2v2h-2zM133 593.8h2v2h-2zM143 593.8h2v2h-2zM199 593.8h2v2h-2zM215 593.8h2v2h-2zM241 593.8h2v2h-2zM315 593.8h2v2h-2zM397 593.8h2v2h-2zM459 593.8h2v2h-2zM477 593.8h2v2h-2zM509 593.8h2v2h-2zM545 593.8h2v2h-2zM549 593.8h2v2h-2zM565 593.8h2v2h-2zM603 593.8h2v2h-2zM755 593.8h2v2h-2zM813 593.8h2v2h-2zM181 595.8h2v2h-2zM231 595.8h2v2h-2zM237 595.8h2v2h-2zM427 595.8h2v2h-2zM491 595.8h2v2h-2zM499 595.8h2v2h-2zM517 595.8h2v2h-2zM551 595.8h2v2h-2zM701 595.8h2v2h-2zM155 597.8h2v2h-2zM195 597.8h2v2h-2zM329 597.8h2v2h-2zM481 597.8h2v2h-2zM539 597.8h2v2h-2zM557 597.8h2v2h-2zM603 597.8h2v2h-2zM735 597.8h2v2h-2zM165 599.8h2v2h-2zM247 599.8h2v2h-2zM773 599.8h2v2h-2zM817 599.8h2v2h-2zM865 599.8h2v2h-2zM877 599.8h2v2h-2zM169 601.8h2v2h-2zM175 601.8h2v2h-2zM205 601.8h2v2h-2zM227 601.8h2v2h-2zM801 601.8h2v2h-2zM901 601.8h2v2h-2zM193 603.8h2v2h-2zM177 679.8h2v2h-2zM159 681.8h2v2h-2zM191 681.8h2v2h-2zM139 683.8h2v2h-2zM161 683.8h2v2h-2zM245 683.8h4v2h-4zM259 683.8h2v2h-2zM137 685.8h4v2h-4zM143 685.8h2v2h-2zM147 685.8h4v2h-4zM163 685.8h2v2h-2zM173 685.8h2v2h-2zM181 685.8h4v2h-4zM201 685.8h2v2h-2zM205 685.8h2v2h-2zM209 685.8h2v2h-2zM217 685.8h2v2h-2zM239 685.8h2v2h-2zM133 687.8h2v2h-2zM197 687.8h2v2h-2zM225 687.8h2v2h-2zM231 687.8h2v2h-2zM167 689.8h2v2h-2zM171 689.8h2v2h-2zM235 689.8h2v2h-2zM243 689.8h2v2h-2zM577 689.8h2v2h-2zM171 691.8h2v2h-2zM275 691.8h2v2h-2zM639 691.8h2v2h-2zM793 691.8h2v2h-2zM137 693.8h2v2h-2zM377 693.8h2v2h-2zM489 693.8h2v2h-2zM651 693.8h2v2h-2zM659 693.8h2v2h-2zM701 693.8h2v2h-2zM719 693.8h2v2h-2zM743 693.8h2v2h-2zM805 693.8h2v2h-2zM817 693.8h2v2h-2zM845 693.8h2v2h-2zM217 695.8h2v2h-2zM245 695.8h2v2h-2zM255 695.8h4v2h-4zM277 695.8h2v2h-2zM555 695.8h2v2h-2zM567 695.8h2v2h-2zM669 695.8h2v2h-2zM749 695.8h2v2h-2zM787 695.8h2v2h-2zM135 697.8h2v2h-2zM189 697.8h2v2h-2zM205 697.8h2v2h-2zM217 697.8h2v2h-2zM255 697.8h2v2h-2zM259 697.8h2v2h-2zM307 697.8h2v2h-2zM341 697.8h2v2h-2zM553 697.8h2v2h-2zM649 697.8h2v2h-2zM719 697.8h2v2h-2zM865 697.8h6v2h-6zM151 699.8h2v2h-2zM179 699.8h2v2h-2zM207 699.8h4v2h-4zM733 699.8h2v2h-2zM815 699.8h2v2h-2zM819 699.8h2v2h-2zM841 699.8h2v2h-2zM861 699.8h2v2h-2zM895 699.8h2v2h-2zM923 699.8h2v2h-2zM171 701.8h2v2h-2zM195 701.8h4v2h-4zM851 701.8h2v2h-2zM165 703.8h2v2h-2zM197 703.8h2v2h-2zM201 703.8h2v2h-2zM241 703.8h2v2h-2zM237 705.8h2v2h-2z"/>
<path fill="#0000ef" d="M219 127.8h2v2h-2zM295 127.8h2v2h-2zM481 127.8h2v2h-2zM229 129.8h2v2h-2zM423 129.8h2v2h-2zM887 129.8h2v2h-2zM175 131.8h2v2h-2zM193 131.8h2v2h-2zM305 131.8h2v2h-2zM411 131.8h2v2h-2zM517 131.8h2v2h-2zM531 131.8h2v2h-2zM617 131.8h2v2h-2zM627 131.8h2v2h-2zM767 131.8h2v2h-2zM415 133.8h2v2h-2zM467 133.8h2v2h-2zM511 133.8h2v2h-2zM711 133.8h2v2h-2zM719 133.8h2v2h-2zM813 133.8h2v2h-2zM861 133.8h2v2h-2zM877 133.8h2v2h-2zM635 135.8h2v2h-2zM655 135.8h4v2h-4zM683 135.8h2v2h-2zM731 135.8h2v2h-2zM837 135.8h2v2h-2zM915 135.8h2v2h-2zM899 143.8h2v2h-2zM139 229.8h2v2h-2zM289 229.8h2v2h-2zM203 233.8h2v2h-2zM533 233.8h2v2h-2zM423 235.8h2v2h-2zM403 237.8h2v2h-2zM875 237.8h2v2h-2zM191 239.8h2v2h-2zM299 239.8h2v2h-2zM407 239.8h2v2h-2zM501 239.8h2v2h-2zM873 239.8h2v2h-2zM307 241.8h2v2h-2zM379 241.8h2v2h-2zM423 241.8h2v2h-2zM505 241.8h2v2h-2zM545 241.8h2v2h-2zM669 241.8h2v2h-2zM149 243.8h2v2h-2zM155 243.8h4v2h-4zM277 243.8h2v2h-2zM625 243.8h2v2h-2zM639 243.8h2v2h-2zM749 243.8h2v2h-2zM147 245.8h2v2h-2zM215 245.8h2v2h-2zM279 245.8h2v2h-2zM785 245.8h2v2h-2zM885 247.8h2v2h-2zM915 247.8h2v2h-2zM927 247.8h2v2h-2zM781 249.8h2v2h-2zM897 251.8h2v2h-2zM143 417.8h2v2h-2zM161 419.8h2v2h-2zM155 421.8h2v2h-2zM135 423.8h2v2h-2zM163 423.8h2v2h-2zM189 423.8h2v2h-2zM151 425.8h4v2h-4zM219 425.8h2v2h-2zM261 425.8h2v2h-2zM245 427.8h2v2h-2zM371 427.8h2v2h-2zM395 427.8h2v2h-2zM549 427.8h2v2h-2zM631 427.8h2v2h-2zM807 427.8h2v2h-2zM849 427.8h2v2h-2zM141 429.8h2v2h-2zM155 429.8h2v2h-2zM181 429.8h2v2h-2zM335 429.8h2v2h-2zM439 429.8h2v2h-2zM491 429.8h2v2h-2zM687 429.8h2v2h-2zM835 429.8h2v2h-2zM887 429.8h2v2h-2zM161 431.8h2v2h-2zM395 431.8h2v2h-2zM447 431.8h2v2h-2zM529 431.8h2v2h-2zM533 431.8h2v2h-2zM633 431.8h2v2h-2zM639 431.8h2v2h-2zM811 431.8h2v2h-2zM827 431.8h2v2h-2zM849 431.8h2v2h-2zM137 433.8h4v2h-4zM357 433.8h2v2h-2zM857 433.8h2v2h-2zM647 435.8h2v2h-2zM929 435.8h2v2h-2zM819 437.8h2v2h-2zM213 579.8h2v2h-2zM239 579.8h2v2h-2zM147 581.8h2v2h-2zM201 581.8h2v2h-2zM237 581.8h2v2h-2zM137 583.8h2v2h-2zM151 583.8h2v2h-2zM217 583.8h2v2h-2zM223 583.8h2v2h-2zM247 583.8h2v2h-2zM175 585.8h2v2h-2zM349 585.8h2v2h-2zM401 585.8h2v2h-2zM159 587.8h2v2h-2zM173 587.8h2v2h-2zM289 587.8h2v2h-2zM465 587.8h2v2h-2zM595 587.8h2v2h-2zM671 587.8h2v2h-2zM265 589.8h2v2h-2zM427 589.8h2v2h-2zM435 589.8h2v2h-2zM443 589.8h2v2h-2zM495 589.8h2v2h-2zM543 589.8h2v2h-2zM581 589.8h2v2h-2zM183 591.8h2v2h-2zM199 591.8h2v2h-2zM305 591.8h2v2h-2zM401 591.8h2v2h-2zM537 591.8h2v2h-2zM615 591.8h2v2h-2zM663 591.8h2v2h-2zM679 591.8h4v2h-4zM773 591.8h2v2h-2zM859 591.8h2v2h-2zM865 591.8h4v2h-4zM151 593.8h2v2h-2zM181 593.8h2v2h-2zM341 593.8h2v2h-2zM349 593.8h2v2h-2zM365 593.8h2v2h-2zM421 593.8h2v2h-2zM531 593.8h2v2h-2zM593 593.8h2v2h-2zM675 593.8h2v2h-2zM697 593.8h2v2h-2zM799 593.8h2v2h-2zM149 595.8h2v2h-2zM153 595.8h2v2h-2zM179 595.8h2v2h-2zM187 595.8h2v2h-2zM201 595.8h2v2h-2zM209 595.8h4v2h-4zM381 595.8h2v2h-2zM391 595.8h2v2h-2zM465 595.8h2v2h-2zM553 595.8h2v2h-2zM725 595.8h2v2h-2zM731 595.8h2v2h-2zM137 597.8h2v2h-2zM149 597.8h2v2h-2zM159 597.8h2v2h-2zM177 597.8h2v2h-2zM235 597.8h2v2h-2zM243 597.8h2v2h-2zM485 597.8h2v2h-2zM619 597.8h2v2h-2zM719 597.8h2v2h-2zM737 597.8h2v2h-2zM839 597.8h2v2h-2zM167 599.8h2v2h-2zM225 599.8h2v2h-2zM793 599.8h4v2h-4zM889 599.8h2v2h-2zM893 599.8h2v2h-2zM913 599.8h2v2h-2zM917 599.8h2v2h-2zM207 601.8h2v2h-2zM797 601.8h2v2h-2zM847 601.8h2v2h-2zM895 601.8h2v2h-2zM919 601.8h2v2h-2zM177 681.8h2v2h-2zM189 681.8h2v2h-2zM229 681.8h2v2h-2zM145 685.8h2v2h-2zM199 685.8h2v2h-2zM203 685.8h2v2h-2zM245 685.8h2v2h-2zM255 685.8h6v2h-6zM145 687.8h2v2h-2zM195 687.8h2v2h-2zM207 687.8h2v2h-2zM215 687.8h2v2h-2zM223 687.8h2v2h-2zM255 687.8h2v2h-2zM151 689.8h2v2h-2zM233 689.8h2v2h-2zM297 689.8h2v2h-2zM355 689.8h2v2h-2zM427 689.8h2v2h-2zM157 691.8h2v2h-2zM211 691.8h2v2h-2zM453 691.8h2v2h-2zM505 691.8h2v2h-2zM755 691.8h2v2h-2zM141 693.8h2v2h-2zM371 693.8h2v2h-2zM423 693.8h2v2h-2zM545 693.8h2v2h-2zM655 693.8h2v2h-2zM679 693.8h2v2h-2zM685 693.8h2v2h-2zM909 693.8h2v2h-2zM135 695.8h2v2h-2zM139 695.8h6v2h-6zM223 695.8h2v2h-2zM261 695.8h4v2h-4zM299 695.8h2v2h-2zM369 695.8h2v2h-2zM429 695.8h2v2h-2zM507 695.8h2v2h-2zM527 695.8h2v2h-2zM541 695.8h2v2h-2zM635 695.8h2v2h-2zM657 695.8h2v2h-2zM739 695.8h2v2h-2zM139 697.8h2v2h-2zM163 697.8h2v2h-2zM171 697.8h2v2h-2zM191 697.8h4v2h-4zM221 697.8h2v2h-2zM309 697.8h2v2h-2zM597 697.8h2v2h-2zM807 697.8h2v2h-2zM153 699.8h4v2h-4zM169 699.8h2v2h-2zM173 699.8h2v2h-2zM225 699.8h2v2h-2zM821 699.8h2v2h-2zM839 699.8h2v2h-2zM917 699.8h2v2h-2zM201 701.8h2v2h-2zM211 701.8h2v2h-2zM897 701.8h2v2h-2zM769 703.8h2v2h-2z"/>
<path fill="#0000ff" d="M213 127.8h2v2h-2zM221 127.8h2v2h-2zM259 129.8h2v2h-2zM337 129.8h2v2h-2zM391 129.8h2v2h-2zM399 129.8h2v2h-2zM405 129.8h2v2h-2zM479 129.8h2v2h-2zM239 131.8h2v2h-2zM275 131.8h2v2h-2zM341 131.8h2v2h-2zM495 131.8h2v2h-2zM535 131.8h2v2h-2zM569 131.8h2v2h-2zM513 133.8h2v2h-2zM517 133.8h2v2h-2zM539 133.8h2v2h-2zM569 133.8h2v2h-2zM589 133.8h2v2h-2zM651 133.8h2v2h-2zM655 133.8h2v2h-2zM761 133.8h2v2h-2zM865 133.8h2v2h-2zM693 135.8h2v2h-2zM715 135.8h2v2h-2zM817 135.8h2v2h-2zM833 135.8h2v2h-2zM851 135.8h2v2h-2zM893 135.8h2v2h-2zM777 137.8h2v2h-2zM785 137.8h2v2h-2zM813 137.8h2v2h-2zM727 139.8h2v2h-2zM919 139.8h2v2h-2zM379 235.8h2v2h-2zM147 237.8h2v2h-2zM595 237.8h2v2h-2zM803 237.8h2v2h-2zM159 239.8h4v2h-4zM511 239.8h2v2h-2zM739 239.8h2v2h-2zM763 239.8h4v2h-4zM143 241.8h2v2h-2zM231 241.8h2v2h-2zM273 241.8h2v2h-2zM447 241.8h2v2h-2zM455 241.8h2v2h-2zM509 241.8h2v2h-2zM575 241.8h2v2h-2zM833 241.8h2v2h-2zM441 243.8h2v2h-2zM469 243.8h2v2h-2zM605 243.8h2v2h-2zM683 243.8h2v2h-2zM907 243.8h2v2h-2zM139 245.8h2v2h-2zM619 245.8h2v2h-2zM747 245.8h2v2h-2zM765 245.8h2v2h-2zM797 245.8h2v2h-2zM827 245.8h2v2h-2zM839 245.8h2v2h-2zM861 247.8h2v2h-2zM775 249.8h2v2h-2zM901 249.8h2v2h-2zM149 419.8h2v2h-2zM197 423.8h2v2h-2zM305 425.8h2v2h-2zM345 425.8h2v2h-2zM421 425.8h2v2h-2zM457 425.8h2v2h-2zM493 425.8h2v2h-2zM699 425.8h2v2h-2zM341 427.8h2v2h-2zM529 427.8h2v2h-2zM567 427.8h2v2h-2zM579 427.8h2v2h-2zM619 427.8h2v2h-2zM777 427.8h2v2h-2zM883 427.8h2v2h-2zM161 429.8h2v2h-2zM275 429.8h2v2h-2zM353 429.8h2v2h-2zM493 429.8h2v2h-2zM699 429.8h2v2h-2zM761 429.8h2v2h-2zM789 429.8h2v2h-2zM485 431.8h2v2h-2zM679 431.8h2v2h-2zM785 431.8h2v2h-2zM135 433.8h2v2h-2zM159 433.8h2v2h-2zM747 433.8h2v2h-2zM775 433.8h2v2h-2zM793 433.8h2v2h-2zM905 435.8h2v2h-2zM185 579.8h2v2h-2zM237 579.8h2v2h-2zM133 581.8h2v2h-2zM231 581.8h2v2h-2zM241 581.8h2v2h-2zM133 583.8h2v2h-2zM143 583.8h2v2h-2zM147 583.8h2v2h-2zM165 583.8h2v2h-2zM191 583.8h2v2h-2zM231 583.8h2v2h-2zM151 585.8h2v2h-2zM207 585.8h2v2h-2zM245 585.8h2v2h-2zM305 585.8h2v2h-2zM155 587.8h2v2h-2zM397 587.8h2v2h-2zM407 587.8h2v2h-2zM419 587.8h2v2h-2zM433 587.8h2v2h-2zM477 587.8h2v2h-2zM607 587.8h2v2h-2zM147 589.8h2v2h-2zM185 589.8h2v2h-2zM197 589.8h2v2h-2zM225 589.8h2v2h-2zM291 589.8h2v2h-2zM307 589.8h2v2h-2zM329 589.8h2v2h-2zM375 591.8h2v2h-2zM475 591.8h2v2h-2zM683 591.8h2v2h-2zM781 591.8h2v2h-2zM809 591.8h2v2h-2zM863 591.8h2v2h-2zM891 591.8h2v2h-2zM919 591.8h2v2h-2zM141 593.8h2v2h-2zM149 593.8h2v2h-2zM201 593.8h2v2h-2zM237 593.8h4v2h-4zM407 593.8h2v2h-2zM505 593.8h2v2h-2zM523 593.8h2v2h-2zM775 593.8h2v2h-2zM797 593.8h2v2h-2zM873 593.8h2v2h-2zM141 595.8h2v2h-2zM303 595.8h2v2h-2zM389 595.8h2v2h-2zM659 595.8h2v2h-2zM751 595.8h2v2h-2zM139 597.8h2v2h-2zM165 597.8h2v2h-2zM233 597.8h2v2h-2zM257 597.8h2v2h-2zM853 597.8h2v2h-2zM169 599.8h2v2h-2zM205 599.8h2v2h-2zM233 599.8h2v2h-2zM775 599.8h2v2h-2zM779 601.8h2v2h-2zM815 601.8h2v2h-2zM867 601.8h2v2h-2zM157 681.8h2v2h-2zM157 683.8h2v2h-2zM229 683.8h2v2h-2zM261 683.8h2v2h-2zM263 685.8h2v2h-2zM295 685.8h2v2h-2zM149 687.8h2v2h-2zM163 687.8h2v2h-2zM203 687.8h4v2h-4zM239 687.8h2v2h-2zM133 689.8h2v2h-2zM207 689.8h2v2h-2zM241 689.8h2v2h-2zM251 689.8h4v2h-4zM507 691.8h2v2h-2zM217 693.8h2v2h-2zM223 693.8h2v2h-2zM245 693.8h2v2h-2zM255 693.8h2v2h-2zM283 693.8h2v2h-2zM287 693.8h2v2h-2zM381 693.8h2v2h-2zM539 693.8h2v2h-2zM647 693.8h2v2h-2zM869 693.8h2v2h-2zM177 695.8h2v2h-2zM247 695.8h2v2h-2zM259 695.8h2v2h-2zM677 695.8h2v2h-2zM709 695.8h2v2h-2zM813 695.8h2v2h-2zM835 695.8h2v2h-2zM917 695.8h2v2h-2zM133 697.8h2v2h-2zM155 697.8h2v2h-2zM181 697.8h2v2h-2zM199 697.8h2v2h-2zM231 697.8h2v2h-2zM287 697.8h2v2h-2zM407 697.8h2v2h-2zM637 697.8h2v2h-2zM691 697.8h2v2h-2zM809 697.8h2v2h-2zM239 699.8h2v2h-2zM859 699.8h2v2h-2zM915 699.8h2v2h-2zM233 701.8h2v2h-2zM853 701.8h2v2h-2z"/>
<path fill="#0010ff" d="M189 127.8h2v2h-2zM291 127.8h2v2h-2zM357 127.8h2v2h-2zM199 129.8h2v2h-2zM237 129.8h2v2h-2zM273 129.8h2v2h-2zM289 129.8h2v2h-2zM377 129.8h2v2h-2zM403 129.8h2v2h-2zM199 131.8h2v2h-2zM211 131.8h2v2h-2zM237 131.8h2v2h-2zM263 131.8h2v2h-2zM277 131.8h2v2h-2zM353 131.8h2v2h-2zM395 131.8h2v2h-2zM435 131.8h2v2h-2zM493 131.8h2v2h-2zM553 131.8h2v2h-2zM571 131.8h2v2h-2zM349 133.8h2v2h-2zM627 133.8h2v2h-2zM649 133.8h2v2h-2zM715 133.8h2v2h-2zM707 135.8h2v2h-2zM743 135.8h2v2h-2zM765 135.8h2v2h-2zM835 135.8h2v2h-2zM849 135.8h2v2h-2zM855 135.8h2v2h-2zM879 135.8h2v2h-2zM793 137.8h2v2h-2zM151 229.8h2v2h-2zM147 231.8h2v2h-2zM153 233.8h2v2h-2zM157 235.8h2v2h-2zM273 235.8h2v2h-2zM289 235.8h2v2h-2zM145 237.8h2v2h-2zM179 237.8h2v2h-2zM199 237.8h2v2h-2zM229 237.8h2v2h-2zM313 237.8h2v2h-2zM801 237.8h2v2h-2zM145 239.8h2v2h-2zM417 239.8h2v2h-2zM469 239.8h2v2h-2zM583 239.8h2v2h-2zM891 239.8h2v2h-2zM155 241.8h2v2h-2zM589 241.8h2v2h-2zM783 241.8h2v2h-2zM831 241.8h2v2h-2zM153 243.8h2v2h-2zM299 243.8h2v2h-2zM591 243.8h2v2h-2zM793 243.8h2v2h-2zM923 243.8h2v2h-2zM467 245.8h2v2h-2zM817 245.8h2v2h-2zM889 245.8h2v2h-2zM905 245.8h2v2h-2zM921 251.8h2v2h-2zM145 415.8h2v2h-2zM147 417.8h2v2h-2zM137 423.8h2v2h-2zM159 423.8h2v2h-2zM209 423.8h2v2h-2zM139 425.8h2v2h-2zM143 425.8h2v2h-2zM343 425.8h2v2h-2zM405 425.8h2v2h-2zM439 425.8h2v2h-2zM495 425.8h2v2h-2zM197 427.8h2v2h-2zM203 427.8h2v2h-2zM209 427.8h2v2h-2zM297 427.8h2v2h-2zM487 427.8h2v2h-2zM551 427.8h2v2h-2zM575 427.8h2v2h-2zM583 427.8h2v2h-2zM811 427.8h2v2h-2zM149 429.8h2v2h-2zM229 429.8h2v2h-2zM283 429.8h2v2h-2zM323 429.8h2v2h-2zM381 429.8h2v2h-2zM421 429.8h2v2h-2zM437 429.8h2v2h-2zM457 429.8h2v2h-2zM569 429.8h2v2h-2zM601 429.8h2v2h-2zM681 429.8h2v2h-2zM751 429.8h2v2h-2zM791 429.8h2v2h-2zM833 429.8h2v2h-2zM843 429.8h2v2h-2zM895 429.8h2v2h-2zM137 431.8h2v2h-2zM185 431.8h2v2h-2zM305 431.8h2v2h-2zM443 431.8h2v2h-2zM467 431.8h2v2h-2zM539 431.8h2v2h-2zM549 431.8h2v2h-2zM593 431.8h2v2h-2zM729 431.8h2v2h-2zM745 431.8h2v2h-2zM809 431.8h2v2h-2zM711 433.8h2v2h-2zM789 433.8h2v2h-2zM597 435.8h2v2h-2zM867 437.8h2v2h-2zM139 579.8h2v2h-2zM137 581.8h2v2h-2zM141 581.8h2v2h-2zM161 581.8h2v2h-2zM215 581.8h4v2h-4zM239 581.8h2v2h-2zM149 583.8h2v2h-2zM171 583.8h2v2h-2zM177 583.8h2v2h-2zM189 583.8h2v2h-2zM201 583.8h4v2h-4zM153 585.8h2v2h-2zM157 585.8h2v2h-2zM167 585.8h2v2h-2zM187 585.8h2v2h-2zM193 585.8h4v2h-4zM203 585.8h2v2h-2zM227 585.8h2v2h-2zM293 585.8h2v2h-2zM609 585.8h2v2h-2zM153 587.8h2v2h-2zM157 587.8h2v2h-2zM187 587.8h2v2h-2zM229 587.8h2v2h-2zM317 587.8h2v2h-2zM673 587.8h2v2h-2zM217 589.8h2v2h-2zM515 589.8h2v2h-2zM571 589.8h2v2h-2zM575 589.8h2v2h-2zM613 589.8h2v2h-2zM763 589.8h2v2h-2zM181 591.8h2v2h-2zM215 591.8h4v2h-4zM241 591.8h2v2h-2zM539 591.8h2v2h-2zM805 591.8h2v2h-2zM547 593.8h2v2h-2zM587 593.8h2v2h-2zM655 593.8h2v2h-2zM787 593.8h2v2h-2zM155 595.8h6v2h-6zM195 595.8h2v2h-2zM223 595.8h2v2h-2zM275 595.8h2v2h-2zM541 595.8h2v2h-2zM597 595.8h2v2h-2zM679 595.8h2v2h-2zM733 595.8h2v2h-2zM147 597.8h2v2h-2zM167 597.8h2v2h-2zM191 597.8h2v2h-2zM203 597.8h2v2h-2zM225 597.8h2v2h-2zM621 597.8h2v2h-2zM653 597.8h2v2h-2zM681 597.8h2v2h-2zM765 597.8h2v2h-2zM769 597.8h2v2h-2zM873 599.8h2v2h-2zM885 599.8h2v2h-2zM923 599.8h2v2h-2zM141 685.8h2v2h-2zM193 685.8h2v2h-2zM261 685.8h2v2h-2zM143 687.8h2v2h-2zM153 687.8h2v2h-2zM183 687.8h2v2h-2zM193 687.8h2v2h-2zM199 687.8h2v2h-2zM233 687.8h2v2h-2zM155 689.8h2v2h-2zM179 689.8h2v2h-2zM205 689.8h2v2h-2zM213 689.8h2v2h-2zM377 689.8h2v2h-2zM445 689.8h2v2h-2zM179 691.8h2v2h-2zM517 691.8h2v2h-2zM537 691.8h2v2h-2zM669 691.8h2v2h-2zM879 691.8h2v2h-2zM159 693.8h2v2h-2zM237 693.8h2v2h-2zM309 693.8h2v2h-2zM325 693.8h2v2h-2zM355 693.8h2v2h-2zM443 693.8h2v2h-2zM553 693.8h2v2h-2zM599 693.8h2v2h-2zM731 693.8h2v2h-2zM781 693.8h2v2h-2zM871 693.8h2v2h-2zM133 695.8h2v2h-2zM145 695.8h2v2h-2zM163 695.8h2v2h-2zM189 695.8h4v2h-4zM231 695.8h2v2h-2zM333 695.8h2v2h-2zM419 695.8h2v2h-2zM471 695.8h2v2h-2zM629 695.8h2v2h-2zM639 695.8h2v2h-2zM747 695.8h2v2h-2zM839 695.8h2v2h-2zM893 695.8h2v2h-2zM897 695.8h2v2h-2zM151 697.8h4v2h-4zM331 697.8h2v2h-2zM413 697.8h2v2h-2zM659 697.8h2v2h-2zM681 697.8h2v2h-2zM827 697.8h2v2h-2zM871 697.8h4v2h-4zM171 699.8h2v2h-2zM249 699.8h2v2h-2zM253 699.8h2v2h-2zM911 699.8h2v2h-2zM165 701.8h2v2h-2zM813 701.8h2v2h-2zM855 701.8h2v2h-2zM885 701.8h2v2h-2zM237 703.8h2v2h-2zM167 705.8h2v2h-2z"/>
<path fill="#0020ff" d="M167 127.8h2v2h-2zM359 127.8h2v2h-2zM721 127.8h2v2h-2zM255 129.8h2v2h-2zM263 129.8h2v2h-2zM277 129.8h2v2h-2zM321 129.8h2v2h-2zM389 129.8h2v2h-2zM393 129.8h2v2h-2zM407 129.8h2v2h-2zM483 129.8h2v2h-2zM507 129.8h2v2h-2zM527 129.8h2v2h-2zM307 131.8h2v2h-2zM393 131.8h2v2h-2zM407 131.8h4v2h-4zM481 131.8h2v2h-2zM503 131.8h2v2h-2zM509 131.8h2v2h-2zM533 131.8h2v2h-2zM547 131.8h2v2h-2zM567 131.8h2v2h-2zM587 131.8h2v2h-2zM395 133.8h2v2h-2zM661 133.8h2v2h-2zM693 133.8h2v2h-2zM725 133.8h2v2h-2zM785 133.8h2v2h-2zM701 135.8h2v2h-2zM733 135.8h2v2h-2zM781 135.8h2v2h-2zM797 135.8h2v2h-2zM809 135.8h2v2h-2zM847 135.8h2v2h-2zM733 137.8h2v2h-2zM829 137.8h2v2h-2zM877 137.8h2v2h-2zM917 139.8h2v2h-2zM143 233.8h2v2h-2zM149 233.8h2v2h-2zM167 233.8h2v2h-2zM153 235.8h2v2h-2zM259 235.8h2v2h-2zM451 235.8h2v2h-2zM151 237.8h2v2h-2zM157 237.8h2v2h-2zM243 237.8h2v2h-2zM293 237.8h2v2h-2zM399 237.8h2v2h-2zM497 237.8h2v2h-2zM597 237.8h2v2h-2zM913 237.8h2v2h-2zM187 239.8h2v2h-2zM235 239.8h2v2h-2zM305 239.8h2v2h-2zM325 239.8h2v2h-2zM361 239.8h2v2h-2zM383 239.8h2v2h-2zM451 239.8h2v2h-2zM459 239.8h2v2h-2zM463 239.8h2v2h-2zM635 239.8h2v2h-2zM691 239.8h2v2h-2zM799 239.8h2v2h-2zM227 241.8h2v2h-2zM543 241.8h2v2h-2zM645 241.8h2v2h-2zM741 241.8h2v2h-2zM917 241.8h2v2h-2zM361 243.8h2v2h-2zM463 243.8h2v2h-2zM667 243.8h2v2h-2zM213 245.8h2v2h-2zM883 245.8h2v2h-2zM745 249.8h2v2h-2zM749 249.8h2v2h-2zM265 421.8h2v2h-2zM371 423.8h2v2h-2zM251 425.8h2v2h-2zM283 425.8h2v2h-2zM435 425.8h2v2h-2zM409 427.8h2v2h-2zM331 429.8h2v2h-2zM423 429.8h4v2h-4zM721 429.8h2v2h-2zM551 431.8h2v2h-2zM579 431.8h2v2h-2zM901 431.8h2v2h-2zM277 433.8h2v2h-2zM629 433.8h2v2h-2zM733 433.8h2v2h-2zM763 433.8h2v2h-2zM797 433.8h2v2h-2zM821 433.8h2v2h-2zM829 433.8h4v2h-4zM861 435.8h2v2h-2zM917 435.8h2v2h-2zM219 579.8h2v2h-2zM185 581.8h2v2h-2zM199 581.8h2v2h-2zM219 581.8h2v2h-2zM233 583.8h4v2h-4zM673 583.8h2v2h-2zM181 585.8h2v2h-2zM243 585.8h2v2h-2zM213 587.8h2v2h-2zM245 587.8h2v2h-2zM279 587.8h2v2h-2zM463 587.8h2v2h-2zM589 587.8h2v2h-2zM751 587.8h2v2h-2zM837 587.8h2v2h-2zM879 587.8h2v2h-2zM159 589.8h2v2h-2zM213 589.8h2v2h-2zM299 589.8h2v2h-2zM423 589.8h2v2h-2zM453 589.8h2v2h-2zM709 589.8h2v2h-2zM749 589.8h2v2h-2zM839 589.8h2v2h-2zM133 591.8h2v2h-2zM271 591.8h2v2h-2zM297 591.8h2v2h-2zM555 591.8h2v2h-2zM619 591.8h2v2h-2zM737 591.8h2v2h-2zM807 591.8h2v2h-2zM921 591.8h2v2h-2zM925 591.8h2v2h-2zM209 593.8h2v2h-2zM419 593.8h2v2h-2zM435 593.8h2v2h-2zM497 593.8h2v2h-2zM585 593.8h2v2h-2zM777 593.8h2v2h-2zM887 593.8h2v2h-2zM763 595.8h2v2h-2zM135 597.8h2v2h-2zM633 597.8h2v2h-2zM739 597.8h2v2h-2zM831 597.8h2v2h-2zM909 597.8h2v2h-2zM175 599.8h2v2h-2zM207 599.8h2v2h-2zM219 599.8h2v2h-2zM777 601.8h2v2h-2zM159 683.8h2v2h-2zM135 685.8h2v2h-2zM247 685.8h2v2h-2zM141 687.8h2v2h-2zM147 687.8h2v2h-2zM157 687.8h2v2h-2zM169 687.8h2v2h-2zM217 687.8h2v2h-2zM245 687.8h2v2h-2zM273 687.8h2v2h-2zM173 689.8h2v2h-2zM221 689.8h2v2h-2zM255 689.8h2v2h-2zM423 689.8h4v2h-4zM467 689.8h2v2h-2zM213 691.8h2v2h-2zM231 691.8h2v2h-2zM253 691.8h2v2h-2zM411 691.8h2v2h-2zM481 691.8h2v2h-2zM635 691.8h2v2h-2zM749 691.8h2v2h-2zM143 693.8h2v2h-2zM227 693.8h2v2h-2zM261 693.8h4v2h-4zM407 693.8h2v2h-2zM421 693.8h2v2h-2zM801 693.8h2v2h-2zM829 693.8h2v2h-2zM861 693.8h4v2h-4zM181 695.8h2v2h-2zM193 695.8h2v2h-2zM205 695.8h2v2h-2zM229 695.8h2v2h-2zM445 695.8h2v2h-2zM465 695.8h2v2h-2zM509 695.8h2v2h-2zM517 695.8h2v2h-2zM705 695.8h4v2h-4zM737 695.8h2v2h-2zM751 695.8h2v2h-2zM779 695.8h2v2h-2zM207 697.8h2v2h-2zM215 697.8h2v2h-2zM549 697.8h2v2h-2zM761 697.8h2v2h-2zM795 697.8h2v2h-2zM149 699.8h2v2h-2zM201 699.8h2v2h-2zM211 699.8h2v2h-2zM233 699.8h2v2h-2zM657 699.8h2v2h-2zM779 699.8h2v2h-2zM251 701.8h2v2h-2zM167 703.8h2v2h-2z"/>
<path fill="#0030ff" d="M169 127.8h2v2h-2zM217 127.8h2v2h-2zM257 127.8h2v2h-2zM197 129.8h2v2h-2zM307 129.8h2v2h-2zM331 129.8h2v2h-2zM447 129.8h2v2h-2zM519 129.8h2v2h-2zM885 129.8h2v2h-2zM337 131.8h4v2h-4zM345 131.8h2v2h-2zM425 131.8h2v2h-2zM439 131.8h2v2h-2zM505 131.8h2v2h-2zM639 131.8h2v2h-2zM677 131.8h2v2h-2zM753 131.8h2v2h-2zM769 131.8h2v2h-2zM799 131.8h2v2h-2zM245 133.8h2v2h-2zM413 133.8h2v2h-2zM551 133.8h2v2h-2zM623 133.8h2v2h-2zM639 133.8h2v2h-2zM659 133.8h2v2h-2zM677 133.8h2v2h-2zM747 133.8h2v2h-2zM669 135.8h2v2h-2zM831 135.8h2v2h-2zM845 135.8h2v2h-2zM831 137.8h2v2h-2zM913 137.8h2v2h-2zM145 229.8h2v2h-2zM209 231.8h2v2h-2zM139 233.8h2v2h-2zM147 233.8h2v2h-2zM155 233.8h2v2h-2zM199 233.8h2v2h-2zM243 233.8h2v2h-2zM255 233.8h2v2h-2zM165 235.8h2v2h-2zM183 235.8h2v2h-2zM579 235.8h2v2h-2zM169 237.8h2v2h-2zM319 237.8h2v2h-2zM489 237.8h2v2h-2zM505 237.8h2v2h-2zM513 237.8h2v2h-2zM905 237.8h2v2h-2zM911 237.8h2v2h-2zM147 239.8h2v2h-2zM587 239.8h2v2h-2zM805 239.8h2v2h-2zM495 241.8h2v2h-2zM757 241.8h2v2h-2zM825 241.8h2v2h-2zM909 241.8h2v2h-2zM225 243.8h2v2h-2zM313 243.8h2v2h-2zM465 243.8h2v2h-2zM565 243.8h2v2h-2zM761 243.8h2v2h-2zM781 243.8h2v2h-2zM803 243.8h2v2h-2zM851 243.8h2v2h-2zM723 245.8h2v2h-2zM741 245.8h2v2h-2zM815 245.8h2v2h-2zM705 247.8h2v2h-2zM773 247.8h2v2h-2zM893 247.8h2v2h-2zM149 421.8h2v2h-2zM157 423.8h2v2h-2zM173 423.8h2v2h-2zM353 425.8h2v2h-2zM381 425.8h2v2h-2zM153 427.8h4v2h-4zM169 427.8h2v2h-2zM321 427.8h2v2h-2zM413 427.8h2v2h-2zM511 427.8h2v2h-2zM539 427.8h2v2h-2zM563 427.8h2v2h-2zM639 427.8h2v2h-2zM785 427.8h2v2h-2zM845 427.8h2v2h-2zM179 429.8h2v2h-2zM409 429.8h2v2h-2zM441 429.8h2v2h-2zM459 429.8h2v2h-2zM701 429.8h2v2h-2zM723 429.8h2v2h-2zM771 429.8h2v2h-2zM157 431.8h2v2h-2zM183 431.8h2v2h-2zM465 431.8h2v2h-2zM535 431.8h2v2h-2zM695 431.8h2v2h-2zM767 431.8h2v2h-2zM153 433.8h2v2h-2zM893 435.8h2v2h-2zM901 437.8h2v2h-2zM199 579.8h2v2h-2zM165 585.8h2v2h-2zM209 585.8h2v2h-2zM223 585.8h2v2h-2zM135 587.8h2v2h-2zM139 587.8h2v2h-2zM205 587.8h2v2h-2zM425 587.8h2v2h-2zM161 589.8h2v2h-2zM199 589.8h2v2h-2zM273 589.8h2v2h-2zM457 589.8h2v2h-2zM557 589.8h2v2h-2zM739 589.8h2v2h-2zM771 589.8h2v2h-2zM331 591.8h2v2h-2zM463 591.8h2v2h-2zM711 591.8h2v2h-2zM163 593.8h2v2h-2zM189 593.8h2v2h-2zM245 593.8h2v2h-2zM411 593.8h2v2h-2zM433 593.8h2v2h-2zM525 593.8h2v2h-2zM599 593.8h2v2h-2zM687 593.8h2v2h-2zM699 593.8h2v2h-2zM779 593.8h2v2h-2zM905 593.8h2v2h-2zM137 595.8h2v2h-2zM165 595.8h2v2h-2zM177 595.8h2v2h-2zM229 595.8h2v2h-2zM259 595.8h2v2h-2zM455 595.8h2v2h-2zM579 595.8h2v2h-2zM695 595.8h2v2h-2zM705 595.8h2v2h-2zM711 595.8h2v2h-2zM729 595.8h2v2h-2zM767 595.8h2v2h-2zM173 597.8h2v2h-2zM683 597.8h2v2h-2zM227 599.8h2v2h-2zM161 685.8h2v2h-2zM173 687.8h2v2h-2zM201 687.8h2v2h-2zM157 689.8h2v2h-2zM195 689.8h2v2h-2zM231 689.8h2v2h-2zM443 689.8h2v2h-2zM155 691.8h2v2h-2zM165 691.8h2v2h-2zM235 691.8h2v2h-2zM245 691.8h2v2h-2zM437 691.8h2v2h-2zM447 691.8h2v2h-2zM471 691.8h2v2h-2zM663 691.8h2v2h-2zM761 691.8h2v2h-2zM161 693.8h2v2h-2zM417 693.8h2v2h-2zM543 693.8h2v2h-2zM597 693.8h2v2h-2zM831 693.8h2v2h-2zM147 695.8h2v2h-2zM155 695.8h2v2h-2zM327 695.8h2v2h-2zM359 695.8h2v2h-2zM503 695.8h2v2h-2zM547 695.8h2v2h-2zM641 695.8h2v2h-2zM785 695.8h2v2h-2zM841 695.8h2v2h-2zM849 695.8h2v2h-2zM169 697.8h2v2h-2zM179 697.8h2v2h-2zM203 697.8h2v2h-2zM249 697.8h2v2h-2zM655 697.8h2v2h-2zM679 697.8h2v2h-2zM699 697.8h2v2h-2zM725 697.8h2v2h-2zM851 697.8h2v2h-2zM195 699.8h2v2h-2zM213 699.8h2v2h-2zM725 699.8h2v2h-2zM909 699.8h2v2h-2zM925 699.8h2v2h-2zM149 701.8h2v2h-2zM235 701.8h2v2h-2zM809 703.8h2v2h-2z"/>
<path fill="#0040ff" d="M169 129.8h2v2h-2zM193 129.8h2v2h-2zM215 129.8h2v2h-2zM291 129.8h2v2h-2zM529 129.8h2v2h-2zM539 129.8h2v2h-2zM563 129.8h2v2h-2zM173 131.8h2v2h-2zM399 131.8h2v2h-2zM563 131.8h2v2h-2zM661 131.8h2v2h-2zM889 131.8h2v2h-2zM161 133.8h2v2h-2zM435 133.8h2v2h-2zM633 133.8h2v2h-2zM657 133.8h2v2h-2zM679 133.8h2v2h-2zM745 133.8h2v2h-2zM757 133.8h2v2h-2zM757 135.8h2v2h-2zM791 135.8h2v2h-2zM819 135.8h2v2h-2zM731 137.8h2v2h-2zM849 137.8h2v2h-2zM911 137.8h2v2h-2zM225 235.8h2v2h-2zM331 237.8h2v2h-2zM347 237.8h2v2h-2zM453 237.8h2v2h-2zM525 237.8h2v2h-2zM533 237.8h2v2h-2zM881 237.8h2v2h-2zM303 239.8h2v2h-2zM381 239.8h2v2h-2zM535 239.8h2v2h-2zM883 239.8h2v2h-2zM929 239.8h2v2h-2zM215 241.8h2v2h-2zM315 241.8h2v2h-2zM365 241.8h2v2h-2zM419 241.8h2v2h-2zM493 241.8h2v2h-2zM619 241.8h2v2h-2zM709 241.8h2v2h-2zM771 241.8h2v2h-2zM927 241.8h2v2h-2zM139 243.8h2v2h-2zM435 243.8h2v2h-2zM635 243.8h2v2h-2zM689 243.8h2v2h-2zM705 243.8h2v2h-2zM567 245.8h2v2h-2zM589 245.8h2v2h-2zM807 245.8h2v2h-2zM777 249.8h2v2h-2zM323 423.8h2v2h-2zM387 423.8h2v2h-2zM135 425.8h2v2h-2zM179 425.8h2v2h-2zM265 425.8h2v2h-2zM375 425.8h2v2h-2zM185 427.8h2v2h-2zM225 427.8h2v2h-2zM295 427.8h2v2h-2zM387 427.8h2v2h-2zM461 427.8h2v2h-2zM501 427.8h2v2h-2zM561 427.8h2v2h-2zM581 427.8h2v2h-2zM589 427.8h2v2h-2zM745 427.8h2v2h-2zM251 429.8h2v2h-2zM295 429.8h2v2h-2zM399 429.8h2v2h-2zM505 429.8h2v2h-2zM747 429.8h2v2h-2zM317 431.8h2v2h-2zM481 431.8h2v2h-2zM525 431.8h2v2h-2zM575 431.8h2v2h-2zM597 431.8h2v2h-2zM737 431.8h2v2h-2zM897 431.8h2v2h-2zM333 433.8h2v2h-2zM363 433.8h2v2h-2zM665 433.8h2v2h-2zM835 433.8h2v2h-2zM695 435.8h2v2h-2zM913 435.8h2v2h-2zM163 579.8h2v2h-2zM179 581.8h2v2h-2zM197 581.8h2v2h-2zM237 583.8h2v2h-2zM241 583.8h2v2h-2zM267 583.8h2v2h-2zM149 585.8h2v2h-2zM211 585.8h2v2h-2zM295 585.8h2v2h-2zM415 585.8h2v2h-2zM167 587.8h2v2h-2zM185 587.8h2v2h-2zM195 587.8h2v2h-2zM207 587.8h2v2h-2zM211 587.8h2v2h-2zM319 587.8h2v2h-2zM341 587.8h2v2h-2zM411 587.8h2v2h-2zM417 587.8h2v2h-2zM139 589.8h2v2h-2zM385 589.8h2v2h-2zM467 589.8h2v2h-2zM497 589.8h2v2h-2zM533 589.8h2v2h-2zM707 589.8h2v2h-2zM577 591.8h2v2h-2zM627 591.8h2v2h-2zM659 591.8h2v2h-2zM915 591.8h2v2h-2zM153 593.8h2v2h-2zM157 593.8h2v2h-2zM179 593.8h2v2h-2zM461 593.8h2v2h-2zM589 593.8h2v2h-2zM671 593.8h2v2h-2zM243 595.8h2v2h-2zM285 595.8h2v2h-2zM555 595.8h2v2h-2zM577 595.8h2v2h-2zM647 595.8h2v2h-2zM667 595.8h2v2h-2zM693 595.8h2v2h-2zM785 595.8h2v2h-2zM789 595.8h2v2h-2zM897 595.8h2v2h-2zM247 597.8h2v2h-2zM721 597.8h2v2h-2zM915 599.8h2v2h-2zM193 601.8h2v2h-2zM891 601.8h2v2h-2zM177 683.8h2v2h-2zM191 683.8h2v2h-2zM249 685.8h2v2h-2zM181 687.8h2v2h-2zM209 687.8h2v2h-2zM215 689.8h2v2h-2zM449 689.8h2v2h-2zM789 689.8h2v2h-2zM137 691.8h2v2h-2zM159 691.8h2v2h-2zM207 691.8h2v2h-2zM251 691.8h2v2h-2zM417 691.8h2v2h-2zM567 691.8h2v2h-2zM759 691.8h2v2h-2zM135 693.8h2v2h-2zM259 693.8h2v2h-2zM329 693.8h2v2h-2zM339 693.8h4v2h-4zM357 693.8h2v2h-2zM367 693.8h2v2h-2zM387 693.8h2v2h-2zM405 693.8h2v2h-2zM683 693.8h2v2h-2zM873 693.8h2v2h-2zM161 695.8h2v2h-2zM215 695.8h2v2h-2zM329 695.8h2v2h-2zM433 695.8h2v2h-2zM659 695.8h2v2h-2zM663 695.8h2v2h-2zM765 695.8h2v2h-2zM173 697.8h2v2h-2zM253 697.8h2v2h-2zM539 697.8h2v2h-2zM599 697.8h2v2h-2zM715 697.8h2v2h-2zM775 697.8h2v2h-2zM241 699.8h2v2h-2zM765 699.8h2v2h-2zM803 699.8h2v2h-2zM889 699.8h2v2h-2zM767 701.8h2v2h-2zM807 701.8h2v2h-2zM905 701.8h2v2h-2z"/>
<path fill="#0050ff" d="M135 129.8h2v2h-2zM151 129.8h2v2h-2zM217 129.8h2v2h-2zM359 129.8h2v2h-2zM379 129.8h2v2h-2zM465 129.8h2v2h-2zM611 129.8h2v2h-2zM723 129.8h2v2h-2zM137 131.8h2v2h-2zM165 131.8h2v2h-2zM273 131.8h2v2h-2zM287 131.8h2v2h-2zM349 131.8h4v2h-4zM431 131.8h4v2h-4zM579 131.8h2v2h-2zM591 131.8h2v2h-2zM643 131.8h2v2h-2zM711 131.8h2v2h-2zM803 131.8h2v2h-2zM885 131.8h4v2h-4zM409 133.8h2v2h-2zM743 133.8h2v2h-2zM925 133.8h2v2h-2zM667 135.8h2v2h-2zM737 135.8h2v2h-2zM761 135.8h2v2h-2zM811 135.8h2v2h-2zM843 135.8h2v2h-2zM915 137.8h2v2h-2zM919 137.8h2v2h-2zM893 139.8h2v2h-2zM907 139.8h2v2h-2zM191 235.8h2v2h-2zM217 235.8h2v2h-2zM405 235.8h4v2h-4zM211 237.8h2v2h-2zM283 237.8h2v2h-2zM345 237.8h2v2h-2zM349 237.8h4v2h-4zM165 239.8h2v2h-2zM363 239.8h2v2h-2zM507 239.8h2v2h-2zM529 239.8h2v2h-2zM683 239.8h2v2h-2zM885 239.8h2v2h-2zM149 241.8h2v2h-2zM157 241.8h2v2h-2zM395 241.8h2v2h-2zM531 241.8h2v2h-2zM595 241.8h2v2h-2zM631 241.8h2v2h-2zM701 241.8h2v2h-2zM785 241.8h2v2h-2zM837 241.8h2v2h-2zM493 243.8h2v2h-2zM593 243.8h2v2h-2zM641 243.8h2v2h-2zM753 245.8h2v2h-2zM831 245.8h2v2h-2zM845 245.8h2v2h-2zM929 245.8h2v2h-2zM301 247.8h2v2h-2zM143 419.8h2v2h-2zM195 419.8h2v2h-2zM161 421.8h2v2h-2zM211 427.8h2v2h-2zM287 427.8h2v2h-2zM313 427.8h2v2h-2zM373 427.8h2v2h-2zM397 427.8h2v2h-2zM473 427.8h2v2h-2zM517 427.8h2v2h-2zM667 427.8h2v2h-2zM737 427.8h2v2h-2zM497 429.8h2v2h-2zM595 429.8h2v2h-2zM665 429.8h2v2h-2zM171 431.8h2v2h-2zM315 431.8h2v2h-2zM643 431.8h2v2h-2zM817 431.8h2v2h-2zM255 433.8h2v2h-2zM727 433.8h2v2h-2zM885 433.8h2v2h-2zM183 581.8h2v2h-2zM171 585.8h2v2h-2zM297 585.8h2v2h-2zM469 585.8h2v2h-2zM193 587.8h2v2h-2zM197 587.8h2v2h-2zM593 587.8h2v2h-2zM753 587.8h2v2h-2zM339 589.8h2v2h-2zM439 589.8h2v2h-2zM519 589.8h2v2h-2zM551 589.8h2v2h-2zM559 589.8h2v2h-2zM735 589.8h2v2h-2zM791 589.8h2v2h-2zM179 591.8h2v2h-2zM245 591.8h4v2h-4zM259 591.8h2v2h-2zM285 591.8h2v2h-2zM357 591.8h2v2h-2zM397 591.8h2v2h-2zM415 591.8h2v2h-2zM485 591.8h2v2h-2zM821 591.8h2v2h-2zM843 591.8h2v2h-2zM187 593.8h2v2h-2zM195 593.8h2v2h-2zM207 593.8h2v2h-2zM231 593.8h2v2h-2zM313 593.8h2v2h-2zM393 593.8h4v2h-4zM445 593.8h2v2h-2zM191 595.8h4v2h-4zM203 595.8h2v2h-2zM503 595.8h2v2h-2zM515 595.8h2v2h-2zM193 597.8h2v2h-2zM425 597.8h2v2h-2zM771 597.8h2v2h-2zM171 599.8h2v2h-2zM687 599.8h2v2h-2zM851 599.8h2v2h-2zM871 599.8h2v2h-2zM189 683.8h2v2h-2zM197 689.8h2v2h-2zM217 689.8h2v2h-2zM225 689.8h2v2h-2zM173 691.8h2v2h-2zM353 691.8h2v2h-2zM383 691.8h2v2h-2zM419 691.8h2v2h-2zM753 691.8h2v2h-2zM351 693.8h2v2h-2zM447 693.8h2v2h-2zM495 693.8h2v2h-2zM797 693.8h2v2h-2zM865 693.8h2v2h-2zM149 695.8h2v2h-2zM305 695.8h2v2h-2zM403 695.8h2v2h-2zM481 695.8h2v2h-2zM501 695.8h2v2h-2zM715 695.8h2v2h-2zM753 695.8h2v2h-2zM859 695.8h2v2h-2zM285 697.8h2v2h-2zM421 697.8h2v2h-2zM489 697.8h2v2h-2zM601 697.8h2v2h-2zM731 697.8h2v2h-2zM891 697.8h2v2h-2zM235 699.8h2v2h-2zM927 701.8h2v2h-2zM773 703.8h2v2h-2z"/>
<path fill="#0060ff" d="M167 129.8h2v2h-2zM173 129.8h2v2h-2zM333 129.8h2v2h-2zM481 129.8h2v2h-2zM545 129.8h2v2h-2zM133 131.8h2v2h-2zM229 131.8h2v2h-2zM321 131.8h2v2h-2zM327 131.8h2v2h-2zM331 131.8h2v2h-2zM347 131.8h2v2h-2zM417 131.8h2v2h-2zM423 131.8h2v2h-2zM429 131.8h2v2h-2zM577 131.8h2v2h-2zM597 131.8h2v2h-2zM225 133.8h2v2h-2zM317 133.8h2v2h-2zM547 133.8h2v2h-2zM637 133.8h2v2h-2zM665 133.8h2v2h-2zM741 133.8h2v2h-2zM763 133.8h2v2h-2zM769 133.8h2v2h-2zM775 133.8h2v2h-2zM797 133.8h2v2h-2zM879 133.8h2v2h-2zM891 133.8h2v2h-2zM827 135.8h4v2h-4zM841 135.8h2v2h-2zM913 135.8h2v2h-2zM727 137.8h2v2h-2zM787 137.8h2v2h-2zM791 137.8h2v2h-2zM839 137.8h2v2h-2zM907 137.8h2v2h-2zM903 139.8h2v2h-2zM511 235.8h2v2h-2zM185 237.8h2v2h-2zM223 237.8h2v2h-2zM539 237.8h2v2h-2zM183 239.8h2v2h-2zM297 239.8h2v2h-2zM377 239.8h2v2h-2zM409 239.8h2v2h-2zM461 239.8h2v2h-2zM513 239.8h2v2h-2zM527 239.8h2v2h-2zM797 239.8h2v2h-2zM187 241.8h2v2h-2zM399 241.8h2v2h-2zM151 243.8h2v2h-2zM281 243.8h2v2h-2zM801 243.8h2v2h-2zM859 243.8h2v2h-2zM879 243.8h2v2h-2zM895 243.8h2v2h-2zM925 243.8h2v2h-2zM783 247.8h2v2h-2zM925 249.8h2v2h-2zM145 417.8h2v2h-2zM267 419.8h2v2h-2zM335 425.8h2v2h-2zM315 427.8h2v2h-2zM429 427.8h4v2h-4zM449 427.8h2v2h-2zM555 427.8h2v2h-2zM385 429.8h2v2h-2zM503 429.8h2v2h-2zM707 429.8h2v2h-2zM715 429.8h2v2h-2zM445 431.8h2v2h-2zM723 431.8h2v2h-2zM709 433.8h2v2h-2zM837 433.8h2v2h-2zM843 433.8h2v2h-2zM921 433.8h2v2h-2zM895 435.8h2v2h-2zM909 435.8h2v2h-2zM169 585.8h2v2h-2zM177 585.8h2v2h-2zM191 585.8h2v2h-2zM201 585.8h2v2h-2zM217 587.8h2v2h-2zM377 587.8h2v2h-2zM461 587.8h2v2h-2zM785 587.8h2v2h-2zM173 589.8h2v2h-2zM241 589.8h2v2h-2zM261 589.8h2v2h-2zM481 589.8h2v2h-2zM567 589.8h2v2h-2zM583 589.8h2v2h-2zM733 589.8h2v2h-2zM141 591.8h2v2h-2zM189 591.8h2v2h-2zM283 591.8h2v2h-2zM413 591.8h2v2h-2zM487 591.8h2v2h-2zM851 591.8h2v2h-2zM855 591.8h2v2h-2zM877 591.8h2v2h-2zM917 591.8h2v2h-2zM923 591.8h2v2h-2zM451 593.8h2v2h-2zM529 593.8h2v2h-2zM601 593.8h2v2h-2zM617 593.8h2v2h-2zM707 593.8h2v2h-2zM713 593.8h2v2h-2zM717 593.8h2v2h-2zM847 593.8h4v2h-4zM909 593.8h2v2h-2zM147 595.8h2v2h-2zM235 595.8h2v2h-2zM487 595.8h2v2h-2zM649 595.8h2v2h-2zM169 597.8h2v2h-2zM599 597.8h2v2h-2zM843 597.8h2v2h-2zM863 599.8h2v2h-2zM875 599.8h2v2h-2zM137 687.8h4v2h-4zM259 687.8h2v2h-2zM163 689.8h2v2h-2zM385 689.8h2v2h-2zM221 691.8h2v2h-2zM255 691.8h2v2h-2zM357 691.8h2v2h-2zM363 691.8h2v2h-2zM479 691.8h2v2h-2zM519 691.8h2v2h-2zM611 691.8h2v2h-2zM171 693.8h2v2h-2zM189 693.8h2v2h-2zM279 693.8h2v2h-2zM429 693.8h4v2h-4zM643 693.8h2v2h-2zM729 693.8h2v2h-2zM173 695.8h2v2h-2zM199 695.8h2v2h-2zM457 695.8h2v2h-2zM475 695.8h2v2h-2zM505 695.8h2v2h-2zM617 695.8h2v2h-2zM693 695.8h2v2h-2zM603 697.8h2v2h-2zM701 697.8h2v2h-2zM881 697.8h2v2h-2z"/>
<path fill="#0070ff" d="M137 129.8h2v2h-2zM213 129.8h2v2h-2zM219 129.8h4v2h-4zM293 129.8h2v2h-2zM335 129.8h2v2h-2zM497 129.8h2v2h-2zM535 129.8h2v2h-2zM197 131.8h2v2h-2zM289 131.8h2v2h-2zM511 131.8h2v2h-2zM615 131.8h2v2h-2zM719 131.8h2v2h-2zM635 133.8h2v2h-2zM681 133.8h2v2h-2zM755 133.8h2v2h-2zM739 135.8h2v2h-2zM789 135.8h2v2h-2zM857 135.8h2v2h-2zM861 135.8h2v2h-2zM775 137.8h2v2h-2zM833 137.8h2v2h-2zM851 137.8h2v2h-2zM871 137.8h2v2h-2zM893 137.8h2v2h-2zM151 231.8h2v2h-2zM343 235.8h2v2h-2zM167 237.8h2v2h-2zM203 237.8h2v2h-2zM271 237.8h2v2h-2zM443 237.8h4v2h-4zM631 237.8h2v2h-2zM759 237.8h2v2h-2zM267 239.8h2v2h-2zM455 239.8h2v2h-2zM877 239.8h2v2h-2zM915 239.8h2v2h-2zM677 241.8h2v2h-2zM809 241.8h2v2h-2zM189 243.8h2v2h-2zM303 243.8h2v2h-2zM357 243.8h2v2h-2zM365 243.8h2v2h-2zM587 243.8h2v2h-2zM707 243.8h2v2h-2zM717 243.8h2v2h-2zM703 245.8h2v2h-2zM769 245.8h2v2h-2zM871 245.8h2v2h-2zM211 423.8h2v2h-2zM137 425.8h2v2h-2zM181 425.8h2v2h-2zM205 425.8h2v2h-2zM307 425.8h2v2h-2zM145 427.8h2v2h-2zM183 427.8h2v2h-2zM365 427.8h2v2h-2zM411 427.8h2v2h-2zM443 427.8h4v2h-4zM459 427.8h2v2h-2zM187 429.8h2v2h-2zM247 429.8h2v2h-2zM325 429.8h2v2h-2zM367 429.8h2v2h-2zM393 429.8h2v2h-2zM405 429.8h2v2h-2zM471 429.8h2v2h-2zM613 429.8h2v2h-2zM689 429.8h2v2h-2zM719 429.8h2v2h-2zM795 429.8h2v2h-2zM303 431.8h2v2h-2zM571 431.8h2v2h-2zM755 431.8h2v2h-2zM769 431.8h2v2h-2zM839 431.8h2v2h-2zM909 431.8h2v2h-2zM913 431.8h2v2h-2zM929 431.8h2v2h-2zM875 433.8h2v2h-2zM919 433.8h2v2h-2zM693 435.8h2v2h-2zM825 435.8h2v2h-2zM141 583.8h2v2h-2zM215 583.8h2v2h-2zM137 585.8h2v2h-2zM189 585.8h2v2h-2zM299 585.8h2v2h-2zM175 587.8h2v2h-2zM525 587.8h2v2h-2zM215 589.8h2v2h-2zM235 589.8h2v2h-2zM303 589.8h2v2h-2zM365 589.8h2v2h-2zM373 589.8h2v2h-2zM479 589.8h2v2h-2zM541 589.8h2v2h-2zM545 589.8h2v2h-2zM783 589.8h2v2h-2zM147 591.8h2v2h-2zM201 591.8h2v2h-2zM231 591.8h2v2h-2zM287 591.8h2v2h-2zM345 591.8h2v2h-2zM725 591.8h2v2h-2zM747 591.8h2v2h-2zM793 591.8h2v2h-2zM827 591.8h2v2h-2zM929 591.8h2v2h-2zM223 593.8h2v2h-2zM441 593.8h2v2h-2zM467 593.8h2v2h-2zM561 593.8h2v2h-2zM715 593.8h2v2h-2zM519 595.8h2v2h-2zM571 595.8h2v2h-2zM879 595.8h2v2h-2zM219 597.8h2v2h-2zM749 597.8h2v2h-2zM783 597.8h2v2h-2zM807 597.8h2v2h-2zM825 597.8h2v2h-2zM193 599.8h2v2h-2zM845 599.8h2v2h-2zM381 691.8h2v2h-2zM617 691.8h2v2h-2zM747 691.8h2v2h-2zM173 693.8h2v2h-2zM343 693.8h2v2h-2zM367 695.8h2v2h-2zM741 695.8h2v2h-2zM757 695.8h2v2h-2zM183 697.8h2v2h-2zM243 697.8h2v2h-2zM743 697.8h2v2h-2zM767 697.8h2v2h-2zM901 701.8h2v2h-2z"/>
<path fill="#0080ff" d="M295 129.8h2v2h-2zM381 131.8h2v2h-2zM527 131.8h2v2h-2zM549 131.8h2v2h-2zM585 131.8h2v2h-2zM881 131.8h2v2h-2zM671 133.8h2v2h-2zM781 133.8h2v2h-2zM803 133.8h2v2h-2zM821 133.8h2v2h-2zM889 133.8h2v2h-2zM759 135.8h2v2h-2zM839 135.8h2v2h-2zM877 135.8h2v2h-2zM837 137.8h2v2h-2zM923 137.8h2v2h-2zM899 141.8h2v2h-2zM285 231.8h2v2h-2zM143 235.8h2v2h-2zM209 235.8h2v2h-2zM475 237.8h2v2h-2zM509 237.8h2v2h-2zM227 239.8h2v2h-2zM347 239.8h2v2h-2zM503 239.8h2v2h-2zM625 239.8h2v2h-2zM761 239.8h2v2h-2zM795 239.8h2v2h-2zM277 241.8h2v2h-2zM437 241.8h2v2h-2zM469 241.8h2v2h-2zM529 241.8h2v2h-2zM755 241.8h2v2h-2zM887 241.8h2v2h-2zM297 243.8h2v2h-2zM467 243.8h2v2h-2zM867 243.8h2v2h-2zM891 245.8h2v2h-2zM923 251.8h2v2h-2zM339 421.8h2v2h-2zM269 423.8h2v2h-2zM241 425.8h2v2h-2zM369 425.8h2v2h-2zM303 427.8h2v2h-2zM781 427.8h2v2h-2zM289 429.8h2v2h-2zM389 429.8h2v2h-2zM473 429.8h2v2h-2zM555 429.8h2v2h-2zM919 429.8h2v2h-2zM159 431.8h2v2h-2zM569 431.8h2v2h-2zM645 431.8h2v2h-2zM759 431.8h2v2h-2zM829 431.8h2v2h-2zM725 433.8h2v2h-2zM823 433.8h2v2h-2zM867 433.8h2v2h-2zM133 435.8h2v2h-2zM817 435.8h2v2h-2zM235 585.8h2v2h-2zM307 585.8h2v2h-2zM181 587.8h2v2h-2zM203 587.8h2v2h-2zM209 587.8h2v2h-2zM219 587.8h2v2h-2zM331 587.8h2v2h-2zM333 589.8h2v2h-2zM503 589.8h4v2h-4zM831 589.8h2v2h-2zM349 591.8h2v2h-2zM535 591.8h2v2h-2zM553 591.8h2v2h-2zM631 591.8h2v2h-2zM649 591.8h2v2h-2zM685 591.8h2v2h-2zM705 591.8h2v2h-2zM841 591.8h2v2h-2zM857 591.8h2v2h-2zM927 591.8h2v2h-2zM211 593.8h2v2h-2zM291 593.8h2v2h-2zM317 593.8h2v2h-2zM513 593.8h2v2h-2zM871 593.8h2v2h-2zM885 593.8h2v2h-2zM167 595.8h2v2h-2zM247 595.8h2v2h-2zM345 595.8h2v2h-2zM453 595.8h2v2h-2zM537 595.8h2v2h-2zM685 595.8h2v2h-2zM855 595.8h2v2h-2zM899 595.8h2v2h-2zM175 597.8h2v2h-2zM205 597.8h2v2h-2zM743 597.8h2v2h-2zM883 597.8h2v2h-2zM813 599.8h2v2h-2zM161 687.8h2v2h-2zM223 689.8h2v2h-2zM313 689.8h2v2h-2zM353 689.8h2v2h-2zM451 689.8h2v2h-2zM469 689.8h2v2h-2zM139 691.8h4v2h-4zM365 691.8h2v2h-2zM791 691.8h2v2h-2zM147 693.8h4v2h-4zM181 693.8h2v2h-2zM249 693.8h2v2h-2zM305 693.8h2v2h-2zM323 693.8h2v2h-2zM413 693.8h2v2h-2zM425 693.8h2v2h-2zM475 693.8h2v2h-2zM645 693.8h2v2h-2zM745 693.8h2v2h-2zM827 693.8h2v2h-2zM867 693.8h2v2h-2zM877 693.8h2v2h-2zM491 695.8h2v2h-2zM701 695.8h2v2h-2zM733 695.8h4v2h-4zM755 695.8h2v2h-2zM815 695.8h2v2h-2zM695 697.8h2v2h-2zM781 697.8h2v2h-2zM855 697.8h2v2h-2zM899 697.8h2v2h-2zM735 699.8h2v2h-2zM769 699.8h2v2h-2z"/>
<path fill="#008fff" d="M239 129.8h2v2h-2zM257 129.8h2v2h-2zM357 129.8h2v2h-2zM509 129.8h2v2h-2zM533 129.8h2v2h-2zM579 129.8h2v2h-2zM163 131.8h2v2h-2zM245 131.8h2v2h-2zM397 131.8h2v2h-2zM483 131.8h2v2h-2zM565 131.8h2v2h-2zM603 131.8h2v2h-2zM611 131.8h2v2h-2zM647 131.8h2v2h-2zM801 131.8h2v2h-2zM329 133.8h2v2h-2zM653 133.8h2v2h-2zM683 133.8h2v2h-2zM819 133.8h2v2h-2zM867 135.8h4v2h-4zM911 135.8h2v2h-2zM923 135.8h2v2h-2zM901 141.8h2v2h-2zM223 233.8h2v2h-2zM147 235.8h2v2h-2zM235 235.8h2v2h-2zM181 237.8h2v2h-2zM909 237.8h2v2h-2zM143 239.8h2v2h-2zM281 239.8h2v2h-2zM295 239.8h2v2h-2zM439 239.8h2v2h-2zM677 239.8h2v2h-2zM185 241.8h2v2h-2zM397 241.8h2v2h-2zM409 241.8h2v2h-2zM487 241.8h2v2h-2zM597 241.8h2v2h-2zM639 241.8h2v2h-2zM819 241.8h2v2h-2zM845 241.8h2v2h-2zM903 241.8h2v2h-2zM147 243.8h2v2h-2zM267 243.8h2v2h-2zM301 243.8h2v2h-2zM491 243.8h2v2h-2zM563 243.8h2v2h-2zM875 243.8h2v2h-2zM819 245.8h2v2h-2zM743 247.8h2v2h-2zM919 249.8h2v2h-2zM177 421.8h2v2h-2zM273 425.8h2v2h-2zM281 427.8h2v2h-2zM361 427.8h2v2h-2zM427 427.8h2v2h-2zM521 427.8h2v2h-2zM541 427.8h2v2h-2zM623 427.8h2v2h-2zM741 427.8h2v2h-2zM319 429.8h2v2h-2zM431 429.8h2v2h-2zM489 429.8h2v2h-2zM621 429.8h2v2h-2zM683 429.8h2v2h-2zM735 429.8h2v2h-2zM877 429.8h2v2h-2zM139 431.8h2v2h-2zM573 431.8h2v2h-2zM837 431.8h2v2h-2zM247 585.8h2v2h-2zM165 587.8h2v2h-2zM405 587.8h2v2h-2zM409 587.8h2v2h-2zM561 587.8h2v2h-2zM757 587.8h2v2h-2zM133 589.8h2v2h-2zM153 589.8h2v2h-2zM245 589.8h2v2h-2zM295 589.8h2v2h-2zM441 589.8h2v2h-2zM499 589.8h2v2h-2zM569 589.8h2v2h-2zM655 589.8h2v2h-2zM157 591.8h2v2h-2zM595 591.8h2v2h-2zM645 591.8h2v2h-2zM883 591.8h2v2h-2zM457 593.8h2v2h-2zM543 593.8h2v2h-2zM815 595.8h2v2h-2zM903 595.8h2v2h-2zM805 597.8h2v2h-2zM811 597.8h2v2h-2zM799 599.8h2v2h-2zM257 687.8h2v2h-2zM431 691.8h2v2h-2zM449 691.8h2v2h-2zM501 691.8h2v2h-2zM521 691.8h2v2h-2zM569 691.8h2v2h-2zM165 693.8h2v2h-2zM661 693.8h2v2h-2zM803 693.8h2v2h-2zM825 693.8h2v2h-2zM331 695.8h2v2h-2zM389 695.8h2v2h-2zM485 695.8h2v2h-2zM637 695.8h2v2h-2zM647 695.8h2v2h-2zM661 695.8h2v2h-2zM915 695.8h2v2h-2zM209 697.8h2v2h-2zM621 697.8h2v2h-2zM799 697.8h2v2h-2zM831 697.8h2v2h-2zM883 699.8h2v2h-2zM237 701.8h2v2h-2z"/>
<path fill="#009fff" d="M147 129.8h2v2h-2zM175 129.8h2v2h-2zM211 129.8h2v2h-2zM279 131.8h2v2h-2zM355 131.8h2v2h-2zM441 131.8h2v2h-2zM467 131.8h2v2h-2zM529 131.8h2v2h-2zM539 131.8h2v2h-2zM545 131.8h2v2h-2zM765 131.8h2v2h-2zM647 133.8h2v2h-2zM783 133.8h2v2h-2zM809 133.8h2v2h-2zM881 133.8h2v2h-2zM787 135.8h2v2h-2zM875 135.8h2v2h-2zM855 137.8h2v2h-2zM869 137.8h2v2h-2zM875 137.8h2v2h-2zM917 137.8h2v2h-2zM921 137.8h2v2h-2zM139 235.8h2v2h-2zM291 235.8h2v2h-2zM383 237.8h2v2h-2zM449 237.8h2v2h-2zM753 237.8h2v2h-2zM195 239.8h2v2h-2zM269 239.8h2v2h-2zM355 239.8h2v2h-2zM591 239.8h2v2h-2zM791 239.8h2v2h-2zM217 241.8h2v2h-2zM363 241.8h2v2h-2zM603 241.8h2v2h-2zM643 241.8h2v2h-2zM707 241.8h2v2h-2zM839 241.8h2v2h-2zM669 243.8h2v2h-2zM723 243.8h2v2h-2zM775 243.8h2v2h-2zM795 243.8h2v2h-2zM855 243.8h2v2h-2zM711 245.8h2v2h-2zM777 245.8h2v2h-2zM887 245.8h2v2h-2zM849 247.8h2v2h-2zM865 247.8h2v2h-2zM325 425.8h2v2h-2zM151 427.8h2v2h-2zM271 427.8h2v2h-2zM489 427.8h2v2h-2zM507 427.8h2v2h-2zM559 427.8h2v2h-2zM417 429.8h2v2h-2zM427 429.8h2v2h-2zM435 429.8h2v2h-2zM461 429.8h2v2h-2zM513 429.8h2v2h-2zM517 429.8h2v2h-2zM543 429.8h2v2h-2zM609 429.8h2v2h-2zM743 429.8h2v2h-2zM885 429.8h2v2h-2zM275 431.8h2v2h-2zM585 431.8h2v2h-2zM595 431.8h2v2h-2zM677 431.8h2v2h-2zM709 431.8h2v2h-2zM765 431.8h2v2h-2zM873 431.8h2v2h-2zM279 433.8h2v2h-2zM359 433.8h2v2h-2zM799 433.8h2v2h-2zM863 433.8h2v2h-2zM869 433.8h2v2h-2zM891 433.8h2v2h-2zM271 585.8h2v2h-2zM251 587.8h2v2h-2zM349 587.8h2v2h-2zM155 589.8h2v2h-2zM267 589.8h2v2h-2zM375 589.8h2v2h-2zM459 589.8h2v2h-2zM511 589.8h2v2h-2zM579 589.8h2v2h-2zM135 591.8h2v2h-2zM151 591.8h2v2h-2zM163 591.8h2v2h-2zM319 591.8h2v2h-2zM409 591.8h2v2h-2zM853 591.8h2v2h-2zM177 593.8h2v2h-2zM261 593.8h2v2h-2zM385 593.8h2v2h-2zM439 593.8h2v2h-2zM567 593.8h2v2h-2zM913 593.8h2v2h-2zM169 595.8h2v2h-2zM423 595.8h2v2h-2zM627 595.8h2v2h-2zM699 595.8h2v2h-2zM761 595.8h2v2h-2zM813 595.8h2v2h-2zM745 597.8h2v2h-2zM911 597.8h2v2h-2zM925 597.8h2v2h-2zM139 689.8h2v2h-2zM321 689.8h2v2h-2zM351 689.8h2v2h-2zM241 691.8h2v2h-2zM313 691.8h2v2h-2zM527 691.8h2v2h-2zM685 691.8h2v2h-2zM229 693.8h2v2h-2zM391 693.8h2v2h-2zM457 693.8h2v2h-2zM503 693.8h2v2h-2zM575 693.8h2v2h-2zM669 693.8h2v2h-2zM881 693.8h2v2h-2zM179 695.8h2v2h-2zM197 695.8h2v2h-2zM307 695.8h2v2h-2zM607 695.8h2v2h-2zM923 695.8h2v2h-2zM797 697.8h2v2h-2zM853 697.8h2v2h-2zM737 699.8h2v2h-2zM903 701.8h2v2h-2zM775 703.8h2v2h-2z"/>
<path fill="#00afff" d="M149 129.8h2v2h-2zM275 129.8h2v2h-2zM227 131.8h2v2h-2zM317 131.8h2v2h-2zM415 131.8h2v2h-2zM427 131.8h2v2h-2zM653 131.8h2v2h-2zM767 133.8h2v2h-2zM779 135.8h2v2h-2zM785 135.8h2v2h-2zM813 135.8h2v2h-2zM891 135.8h2v2h-2zM789 137.8h2v2h-2zM895 141.8h2v2h-2zM257 233.8h2v2h-2zM291 233.8h2v2h-2zM151 235.8h2v2h-2zM181 235.8h2v2h-2zM351 235.8h2v2h-2zM329 237.8h2v2h-2zM575 237.8h2v2h-2zM287 239.8h2v2h-2zM307 239.8h2v2h-2zM357 239.8h2v2h-2zM375 239.8h2v2h-2zM453 239.8h2v2h-2zM477 239.8h2v2h-2zM719 239.8h2v2h-2zM303 241.8h2v2h-2zM439 241.8h2v2h-2zM563 241.8h2v2h-2zM571 241.8h2v2h-2zM687 241.8h2v2h-2zM807 241.8h2v2h-2zM703 243.8h2v2h-2zM711 243.8h2v2h-2zM873 243.8h2v2h-2zM609 245.8h2v2h-2zM811 245.8h2v2h-2zM859 247.8h2v2h-2zM895 247.8h2v2h-2zM747 249.8h2v2h-2zM177 423.8h2v2h-2zM241 423.8h2v2h-2zM355 425.8h2v2h-2zM611 425.8h2v2h-2zM199 427.8h2v2h-2zM247 427.8h2v2h-2zM399 427.8h2v2h-2zM419 427.8h2v2h-2zM433 427.8h2v2h-2zM505 427.8h2v2h-2zM509 427.8h2v2h-2zM643 427.8h2v2h-2zM809 427.8h2v2h-2zM255 429.8h2v2h-2zM429 429.8h2v2h-2zM451 429.8h2v2h-2zM507 429.8h2v2h-2zM515 429.8h2v2h-2zM547 429.8h2v2h-2zM561 429.8h2v2h-2zM565 429.8h2v2h-2zM757 429.8h2v2h-2zM787 429.8h2v2h-2zM813 429.8h2v2h-2zM875 429.8h2v2h-2zM917 429.8h2v2h-2zM163 431.8h2v2h-2zM297 431.8h2v2h-2zM605 431.8h2v2h-2zM731 431.8h2v2h-2zM845 431.8h2v2h-2zM853 431.8h2v2h-2zM647 433.8h2v2h-2zM751 433.8h2v2h-2zM823 435.8h2v2h-2zM143 585.8h2v2h-2zM161 587.8h2v2h-2zM351 587.8h2v2h-2zM611 587.8h2v2h-2zM789 587.8h2v2h-2zM203 589.8h2v2h-2zM247 589.8h2v2h-2zM391 589.8h2v2h-2zM445 589.8h2v2h-2zM597 589.8h2v2h-2zM759 589.8h2v2h-2zM143 591.8h2v2h-2zM279 591.8h2v2h-2zM405 591.8h2v2h-2zM527 591.8h2v2h-2zM689 591.8h2v2h-2zM765 591.8h2v2h-2zM323 593.8h2v2h-2zM511 593.8h2v2h-2zM521 593.8h2v2h-2zM875 593.8h2v2h-2zM227 597.8h2v2h-2zM741 597.8h2v2h-2zM821 597.8h4v2h-4zM929 597.8h2v2h-2zM905 599.8h2v2h-2zM135 687.8h2v2h-2zM153 689.8h2v2h-2zM201 689.8h2v2h-2zM151 691.8h2v2h-2zM299 691.8h2v2h-2zM321 691.8h2v2h-2zM387 691.8h2v2h-2zM423 691.8h2v2h-2zM495 691.8h2v2h-2zM515 691.8h2v2h-2zM709 691.8h2v2h-2zM787 691.8h2v2h-2zM201 693.8h2v2h-2zM247 693.8h2v2h-2zM333 693.8h2v2h-2zM363 693.8h2v2h-2zM437 693.8h2v2h-2zM467 693.8h2v2h-2zM485 693.8h2v2h-2zM505 693.8h2v2h-2zM637 693.8h2v2h-2zM279 695.8h2v2h-2zM837 695.8h2v2h-2zM847 695.8h2v2h-2zM225 697.8h2v2h-2zM629 697.8h2v2h-2zM863 697.8h2v2h-2zM885 697.8h2v2h-2zM809 699.8h2v2h-2zM919 699.8h2v2h-2zM805 701.8h2v2h-2zM891 701.8h2v2h-2z"/>
<path fill="#00bfff" d="M713 133.8h2v2h-2zM817 133.8h2v2h-2zM783 135.8h2v2h-2zM793 135.8h2v2h-2zM925 135.8h2v2h-2zM853 137.8h2v2h-2zM857 137.8h2v2h-2zM283 235.8h2v2h-2zM499 237.8h4v2h-4zM241 239.8h2v2h-2zM581 239.8h2v2h-2zM605 239.8h2v2h-2zM213 241.8h2v2h-2zM241 241.8h2v2h-2zM417 241.8h2v2h-2zM573 241.8h2v2h-2zM593 241.8h2v2h-2zM625 241.8h2v2h-2zM811 241.8h2v2h-2zM829 241.8h2v2h-2zM495 243.8h2v2h-2zM543 243.8h2v2h-2zM609 243.8h2v2h-2zM857 243.8h2v2h-2zM865 243.8h2v2h-2zM897 243.8h2v2h-2zM645 245.8h2v2h-2zM809 245.8h2v2h-2zM881 245.8h2v2h-2zM899 249.8h2v2h-2zM141 421.8h2v2h-2zM195 423.8h2v2h-2zM227 423.8h2v2h-2zM261 423.8h2v2h-2zM287 425.8h2v2h-2zM339 425.8h2v2h-2zM613 427.8h2v2h-2zM621 427.8h2v2h-2zM301 429.8h2v2h-2zM531 429.8h2v2h-2zM589 429.8h2v2h-2zM755 429.8h2v2h-2zM747 431.8h2v2h-2zM851 431.8h2v2h-2zM907 431.8h2v2h-2zM691 433.8h2v2h-2zM795 433.8h2v2h-2zM865 433.8h2v2h-2zM923 433.8h2v2h-2zM197 583.8h2v2h-2zM147 585.8h2v2h-2zM147 587.8h2v2h-2zM237 587.8h2v2h-2zM643 587.8h2v2h-2zM157 589.8h2v2h-2zM229 589.8h2v2h-2zM253 589.8h2v2h-2zM335 589.8h2v2h-2zM353 589.8h2v2h-2zM403 589.8h2v2h-2zM473 589.8h2v2h-2zM513 589.8h2v2h-2zM657 589.8h2v2h-2zM729 589.8h2v2h-2zM323 591.8h2v2h-2zM369 591.8h2v2h-2zM833 591.8h2v2h-2zM155 593.8h2v2h-2zM169 593.8h2v2h-2zM479 593.8h2v2h-2zM753 593.8h2v2h-2zM801 593.8h2v2h-2zM811 593.8h2v2h-2zM817 593.8h2v2h-2zM861 593.8h2v2h-2zM329 595.8h2v2h-2zM759 595.8h2v2h-2zM889 595.8h2v2h-2zM667 597.8h2v2h-2zM747 597.8h2v2h-2zM827 597.8h2v2h-2zM869 597.8h2v2h-2zM149 689.8h2v2h-2zM281 689.8h2v2h-2zM521 689.8h2v2h-2zM223 691.8h2v2h-2zM269 691.8h2v2h-2zM443 691.8h2v2h-2zM469 691.8h2v2h-2zM577 691.8h2v2h-2zM145 693.8h2v2h-2zM163 693.8h2v2h-2zM167 693.8h2v2h-2zM375 693.8h2v2h-2zM383 693.8h2v2h-2zM409 693.8h2v2h-2zM427 693.8h2v2h-2zM515 693.8h2v2h-2zM795 693.8h2v2h-2zM221 695.8h2v2h-2zM341 695.8h2v2h-2zM605 695.8h2v2h-2zM821 695.8h2v2h-2zM729 697.8h2v2h-2zM835 697.8h2v2h-2zM905 697.8h2v2h-2zM197 699.8h2v2h-2zM251 699.8h2v2h-2zM739 699.8h2v2h-2zM889 701.8h2v2h-2z"/>
<path fill="#00cfff" d="M799 133.8h2v2h-2zM805 133.8h4v2h-4zM823 135.8h2v2h-2zM865 135.8h2v2h-2zM873 137.8h2v2h-2zM205 235.8h2v2h-2zM311 235.8h2v2h-2zM395 237.8h2v2h-2zM179 239.8h2v2h-2zM245 239.8h2v2h-2zM251 239.8h2v2h-2zM359 239.8h2v2h-2zM397 239.8h2v2h-2zM447 239.8h2v2h-2zM793 239.8h2v2h-2zM169 241.8h2v2h-2zM361 241.8h2v2h-2zM637 241.8h2v2h-2zM813 241.8h2v2h-2zM817 241.8h2v2h-2zM787 243.8h4v2h-4zM919 243.8h2v2h-2zM207 425.8h2v2h-2zM373 425.8h2v2h-2zM379 425.8h2v2h-2zM305 427.8h2v2h-2zM385 427.8h2v2h-2zM423 427.8h2v2h-2zM493 427.8h2v2h-2zM503 427.8h2v2h-2zM553 427.8h2v2h-2zM591 427.8h2v2h-2zM699 427.8h2v2h-2zM721 427.8h2v2h-2zM285 429.8h2v2h-2zM449 429.8h2v2h-2zM495 429.8h2v2h-2zM525 429.8h2v2h-2zM571 429.8h2v2h-2zM577 429.8h2v2h-2zM685 429.8h2v2h-2zM785 429.8h2v2h-2zM153 431.8h2v2h-2zM313 431.8h2v2h-2zM333 431.8h2v2h-2zM357 431.8h2v2h-2zM583 431.8h2v2h-2zM787 431.8h2v2h-2zM877 431.8h2v2h-2zM819 433.8h2v2h-2zM861 433.8h2v2h-2zM725 435.8h4v2h-4zM865 435.8h2v2h-2zM899 435.8h2v2h-2zM339 585.8h2v2h-2zM369 587.8h2v2h-2zM675 587.8h2v2h-2zM183 589.8h2v2h-2zM317 589.8h2v2h-2zM393 589.8h2v2h-2zM501 589.8h2v2h-2zM507 589.8h2v2h-2zM531 589.8h2v2h-2zM149 591.8h2v2h-2zM239 591.8h2v2h-2zM275 591.8h2v2h-2zM355 591.8h2v2h-2zM389 591.8h2v2h-2zM671 591.8h2v2h-2zM769 591.8h2v2h-2zM171 593.8h2v2h-2zM495 593.8h2v2h-2zM537 593.8h2v2h-2zM553 593.8h2v2h-2zM581 593.8h2v2h-2zM659 593.8h2v2h-2zM757 593.8h2v2h-2zM867 593.8h2v2h-2zM895 593.8h2v2h-2zM907 593.8h2v2h-2zM615 595.8h2v2h-2zM713 595.8h2v2h-2zM857 595.8h2v2h-2zM901 595.8h2v2h-2zM809 597.8h2v2h-2zM861 599.8h2v2h-2zM887 599.8h2v2h-2zM159 685.8h2v2h-2zM229 685.8h2v2h-2zM141 689.8h2v2h-2zM197 691.8h2v2h-2zM217 691.8h2v2h-2zM403 691.8h2v2h-2zM757 691.8h2v2h-2zM459 693.8h2v2h-2zM529 693.8h2v2h-2zM555 693.8h2v2h-2zM151 695.8h2v2h-2zM203 695.8h2v2h-2zM545 695.8h2v2h-2zM925 695.8h2v2h-2zM201 697.8h2v2h-2zM777 697.8h2v2h-2zM801 697.8h2v2h-2zM817 697.8h2v2h-2zM887 699.8h2v2h-2zM897 699.8h2v2h-2zM929 699.8h2v2h-2z"/>
<path fill="#00dfff" d="M305 129.8h2v2h-2zM201 131.8h2v2h-2zM259 131.8h2v2h-2zM297 131.8h2v2h-2zM883 131.8h2v2h-2zM695 133.8h2v2h-2zM707 133.8h2v2h-2zM771 133.8h2v2h-2zM801 133.8h2v2h-2zM929 133.8h2v2h-2zM777 135.8h2v2h-2zM815 135.8h2v2h-2zM905 139.8h2v2h-2zM225 237.8h2v2h-2zM259 237.8h2v2h-2zM381 237.8h2v2h-2zM423 237.8h2v2h-2zM621 237.8h2v2h-2zM155 239.8h2v2h-2zM443 239.8h2v2h-2zM879 239.8h2v2h-2zM535 241.8h2v2h-2zM591 241.8h2v2h-2zM815 241.8h2v2h-2zM589 243.8h2v2h-2zM619 243.8h2v2h-2zM741 243.8h4v2h-4zM783 243.8h2v2h-2zM863 243.8h2v2h-2zM569 245.8h2v2h-2zM825 245.8h2v2h-2zM837 245.8h2v2h-2zM885 245.8h2v2h-2zM863 247.8h2v2h-2zM345 421.8h2v2h-2zM173 425.8h2v2h-2zM321 425.8h2v2h-2zM367 425.8h2v2h-2zM133 427.8h2v2h-2zM273 427.8h2v2h-2zM331 427.8h2v2h-2zM335 427.8h2v2h-2zM379 427.8h2v2h-2zM437 427.8h4v2h-4zM497 427.8h2v2h-2zM543 427.8h2v2h-2zM685 427.8h2v2h-2zM407 429.8h2v2h-2zM415 429.8h2v2h-2zM463 429.8h2v2h-2zM479 429.8h2v2h-2zM487 429.8h2v2h-2zM501 429.8h2v2h-2zM519 429.8h2v2h-2zM529 429.8h2v2h-2zM535 429.8h4v2h-4zM541 429.8h2v2h-2zM619 429.8h2v2h-2zM631 429.8h2v2h-2zM667 429.8h2v2h-2zM851 429.8h2v2h-2zM855 429.8h2v2h-2zM245 431.8h2v2h-2zM777 431.8h2v2h-2zM605 433.8h2v2h-2zM803 433.8h2v2h-2zM887 433.8h2v2h-2zM903 435.8h2v2h-2zM335 585.8h2v2h-2zM371 585.8h2v2h-2zM239 587.8h2v2h-2zM321 587.8h2v2h-2zM359 587.8h2v2h-2zM167 589.8h2v2h-2zM209 589.8h4v2h-4zM321 589.8h2v2h-2zM401 589.8h2v2h-2zM529 589.8h2v2h-2zM761 589.8h2v2h-2zM411 591.8h2v2h-2zM469 591.8h2v2h-2zM517 591.8h2v2h-2zM635 591.8h2v2h-2zM443 593.8h2v2h-2zM621 593.8h2v2h-2zM845 593.8h2v2h-2zM219 595.8h2v2h-2zM489 595.8h2v2h-2zM535 595.8h2v2h-2zM557 595.8h2v2h-2zM575 595.8h2v2h-2zM849 599.8h2v2h-2zM191 685.8h2v2h-2zM259 689.8h2v2h-2zM273 691.8h2v2h-2zM391 691.8h2v2h-2zM451 691.8h2v2h-2zM643 691.8h2v2h-2zM179 693.8h2v2h-2zM205 693.8h2v2h-2zM389 693.8h2v2h-2zM415 693.8h2v2h-2zM519 693.8h2v2h-2zM663 693.8h2v2h-2zM789 693.8h4v2h-4zM875 693.8h2v2h-2zM153 695.8h2v2h-2zM309 695.8h2v2h-2zM339 695.8h2v2h-2zM529 695.8h2v2h-2zM599 695.8h2v2h-2zM695 695.8h2v2h-2zM877 695.8h2v2h-2zM909 695.8h2v2h-2zM697 697.8h2v2h-2zM713 697.8h2v2h-2zM823 697.8h4v2h-4zM165 699.8h2v2h-2zM837 699.8h2v2h-2zM899 701.8h2v2h-2z"/>
<path fill="#00efff" d="M201 129.8h2v2h-2zM909 137.8h2v2h-2zM233 235.8h2v2h-2zM243 235.8h2v2h-2zM143 237.8h2v2h-2zM205 237.8h2v2h-2zM343 237.8h2v2h-2zM755 237.8h2v2h-2zM437 239.8h2v2h-2zM623 239.8h2v2h-2zM465 241.8h2v2h-2zM565 241.8h2v2h-2zM581 241.8h2v2h-2zM587 241.8h2v2h-2zM667 241.8h2v2h-2zM721 241.8h2v2h-2zM791 241.8h2v2h-2zM573 243.8h2v2h-2zM805 243.8h2v2h-2zM821 243.8h2v2h-2zM843 243.8h2v2h-2zM515 245.8h2v2h-2zM829 245.8h2v2h-2zM835 245.8h2v2h-2zM157 425.8h2v2h-2zM199 425.8h2v2h-2zM229 425.8h2v2h-2zM293 425.8h2v2h-2zM181 427.8h2v2h-2zM253 427.8h2v2h-2zM301 427.8h2v2h-2zM369 427.8h2v2h-2zM403 427.8h2v2h-2zM415 427.8h4v2h-4zM611 427.8h2v2h-2zM687 427.8h2v2h-2zM743 427.8h2v2h-2zM157 429.8h2v2h-2zM397 429.8h2v2h-2zM411 429.8h2v2h-2zM443 429.8h2v2h-2zM465 429.8h2v2h-2zM477 429.8h2v2h-2zM481 429.8h2v2h-2zM527 429.8h2v2h-2zM581 429.8h2v2h-2zM805 429.8h2v2h-2zM847 429.8h2v2h-2zM853 429.8h2v2h-2zM277 431.8h2v2h-2zM735 431.8h2v2h-2zM763 431.8h2v2h-2zM773 431.8h2v2h-2zM813 431.8h2v2h-2zM857 431.8h4v2h-4zM815 433.8h2v2h-2zM907 433.8h2v2h-2zM863 435.8h2v2h-2zM871 435.8h2v2h-2zM213 581.8h2v2h-2zM179 583.8h2v2h-2zM133 585.8h2v2h-2zM133 587.8h2v2h-2zM149 587.8h2v2h-2zM399 587.8h2v2h-2zM413 587.8h2v2h-2zM455 589.8h2v2h-2zM167 591.8h2v2h-2zM173 591.8h2v2h-2zM219 591.8h2v2h-2zM225 591.8h2v2h-2zM647 591.8h2v2h-2zM243 593.8h2v2h-2zM325 593.8h2v2h-2zM431 593.8h2v2h-2zM491 593.8h2v2h-2zM569 593.8h2v2h-2zM703 593.8h2v2h-2zM721 593.8h2v2h-2zM481 595.8h2v2h-2zM601 595.8h2v2h-2zM791 595.8h2v2h-2zM893 595.8h2v2h-2zM171 597.8h2v2h-2zM663 597.8h2v2h-2zM921 597.8h2v2h-2zM891 599.8h2v2h-2zM897 601.8h2v2h-2zM295 687.8h2v2h-2zM163 691.8h2v2h-2zM205 691.8h2v2h-2zM209 691.8h2v2h-2zM227 691.8h2v2h-2zM233 691.8h2v2h-2zM243 691.8h2v2h-2zM455 693.8h2v2h-2zM509 693.8h2v2h-2zM677 693.8h2v2h-2zM747 693.8h2v2h-2zM413 695.8h2v2h-2zM649 695.8h2v2h-2zM691 695.8h2v2h-2zM699 695.8h2v2h-2zM745 695.8h2v2h-2zM805 695.8h2v2h-2zM819 695.8h2v2h-2zM911 695.8h4v2h-4zM919 695.8h2v2h-2zM371 697.8h2v2h-2zM605 697.8h2v2h-2zM811 697.8h2v2h-2zM857 697.8h2v2h-2zM897 697.8h2v2h-2zM885 699.8h2v2h-2zM809 701.8h4v2h-4z"/>
<path fill="#00ffff" d="M623 131.8h2v2h-2zM699 133.8h2v2h-2zM773 133.8h2v2h-2zM835 137.8h2v2h-2zM319 233.8h2v2h-2zM203 235.8h2v2h-2zM317 237.8h2v2h-2zM473 237.8h2v2h-2zM907 237.8h2v2h-2zM239 239.8h2v2h-2zM403 239.8h2v2h-2zM525 239.8h2v2h-2zM637 239.8h2v2h-2zM225 241.8h2v2h-2zM401 241.8h2v2h-2zM441 241.8h2v2h-2zM583 241.8h2v2h-2zM717 241.8h2v2h-2zM767 241.8h4v2h-4zM787 241.8h2v2h-2zM841 241.8h2v2h-2zM889 241.8h2v2h-2zM893 241.8h2v2h-2zM701 243.8h2v2h-2zM807 243.8h2v2h-2zM825 243.8h2v2h-2zM841 243.8h2v2h-2zM745 245.8h2v2h-2zM821 245.8h2v2h-2zM855 245.8h2v2h-2zM869 245.8h2v2h-2zM921 245.8h2v2h-2zM193 423.8h2v2h-2zM203 423.8h2v2h-2zM189 427.8h2v2h-2zM205 427.8h2v2h-2zM317 427.8h2v2h-2zM389 427.8h2v2h-2zM407 427.8h2v2h-2zM457 427.8h2v2h-2zM495 427.8h2v2h-2zM557 427.8h2v2h-2zM739 427.8h2v2h-2zM171 429.8h2v2h-2zM447 429.8h2v2h-2zM509 429.8h2v2h-2zM557 429.8h4v2h-4zM573 429.8h4v2h-4zM591 429.8h2v2h-2zM737 429.8h2v2h-2zM809 429.8h2v2h-2zM753 431.8h2v2h-2zM761 431.8h2v2h-2zM893 431.8h2v2h-2zM905 431.8h2v2h-2zM915 431.8h2v2h-2zM731 433.8h2v2h-2zM773 433.8h2v2h-2zM827 433.8h2v2h-2zM883 433.8h2v2h-2zM139 581.8h2v2h-2zM161 583.8h2v2h-2zM185 585.8h2v2h-2zM217 585.8h2v2h-2zM237 585.8h2v2h-2zM215 587.8h2v2h-2zM371 587.8h2v2h-2zM191 589.8h2v2h-2zM201 589.8h2v2h-2zM271 589.8h2v2h-2zM287 589.8h2v2h-2zM313 589.8h2v2h-2zM407 589.8h2v2h-2zM421 589.8h2v2h-2zM425 589.8h2v2h-2zM447 589.8h2v2h-2zM587 589.8h2v2h-2zM731 589.8h2v2h-2zM751 589.8h2v2h-2zM233 591.8h2v2h-2zM399 591.8h2v2h-2zM417 591.8h2v2h-2zM657 591.8h2v2h-2zM881 591.8h2v2h-2zM227 593.8h2v2h-2zM387 593.8h2v2h-2zM533 593.8h2v2h-2zM555 593.8h2v2h-2zM583 593.8h2v2h-2zM647 593.8h2v2h-2zM743 593.8h4v2h-4zM785 593.8h2v2h-2zM863 593.8h2v2h-2zM911 593.8h2v2h-2zM425 595.8h2v2h-2zM829 595.8h4v2h-4zM927 595.8h2v2h-2zM859 597.8h2v2h-2zM701 599.8h2v2h-2zM801 599.8h2v2h-2zM895 599.8h2v2h-2zM903 599.8h2v2h-2zM177 685.8h2v2h-2zM143 689.8h2v2h-2zM209 689.8h2v2h-2zM269 689.8h2v2h-2zM149 691.8h2v2h-2zM281 691.8h2v2h-2zM343 691.8h2v2h-2zM193 693.8h2v2h-2zM211 693.8h2v2h-2zM365 693.8h2v2h-2zM435 693.8h2v2h-2zM453 693.8h2v2h-2zM501 693.8h2v2h-2zM527 693.8h2v2h-2zM569 693.8h2v2h-2zM787 693.8h2v2h-2zM287 695.8h2v2h-2zM597 695.8h2v2h-2zM603 695.8h2v2h-2zM651 695.8h2v2h-2zM683 695.8h2v2h-2zM827 695.8h2v2h-2zM213 697.8h2v2h-2zM927 697.8h2v2h-2zM767 699.8h2v2h-2zM901 699.8h2v2h-2zM887 701.8h2v2h-2zM771 703.8h2v2h-2z"/>
<path fill="#10ffef" d="M643 129.8h2v2h-2zM795 135.8h2v2h-2zM825 135.8h2v2h-2zM897 141.8h2v2h-2zM161 235.8h2v2h-2zM255 235.8h2v2h-2zM271 235.8h2v2h-2zM153 237.8h2v2h-2zM251 237.8h2v2h-2zM407 237.8h2v2h-2zM511 237.8h2v2h-2zM757 237.8h2v2h-2zM169 239.8h2v2h-2zM231 239.8h2v2h-2zM317 239.8h2v2h-2zM329 239.8h2v2h-2zM509 239.8h2v2h-2zM875 239.8h2v2h-2zM507 241.8h2v2h-2zM689 241.8h4v2h-4zM765 241.8h2v2h-2zM877 241.8h2v2h-2zM419 243.8h2v2h-2zM569 243.8h2v2h-2zM763 243.8h2v2h-2zM833 243.8h4v2h-4zM847 243.8h2v2h-2zM779 245.8h2v2h-2zM833 245.8h2v2h-2zM847 245.8h2v2h-2zM899 245.8h2v2h-2zM917 247.8h2v2h-2zM161 423.8h2v2h-2zM141 425.8h2v2h-2zM155 425.8h2v2h-2zM161 425.8h2v2h-2zM281 425.8h2v2h-2zM307 427.8h2v2h-2zM311 427.8h2v2h-2zM451 427.8h2v2h-2zM491 427.8h2v2h-2zM151 429.8h2v2h-2zM167 429.8h2v2h-2zM253 429.8h2v2h-2zM305 429.8h2v2h-2zM413 429.8h2v2h-2zM483 429.8h2v2h-2zM511 429.8h2v2h-2zM549 429.8h2v2h-2zM639 429.8h2v2h-2zM255 431.8h2v2h-2zM689 431.8h2v2h-2zM751 431.8h2v2h-2zM843 431.8h2v2h-2zM895 431.8h2v2h-2zM693 433.8h4v2h-4zM729 433.8h2v2h-2zM767 433.8h2v2h-2zM791 433.8h2v2h-2zM223 587.8h2v2h-2zM235 587.8h2v2h-2zM253 587.8h2v2h-2zM787 587.8h2v2h-2zM319 589.8h2v2h-2zM349 589.8h2v2h-2zM395 589.8h2v2h-2zM521 589.8h2v2h-2zM565 589.8h2v2h-2zM227 591.8h2v2h-2zM433 591.8h2v2h-2zM439 591.8h2v2h-2zM573 591.8h2v2h-2zM593 591.8h2v2h-2zM771 591.8h2v2h-2zM829 591.8h2v2h-2zM285 593.8h2v2h-2zM367 593.8h2v2h-2zM389 593.8h2v2h-2zM465 593.8h2v2h-2zM597 593.8h2v2h-2zM803 593.8h2v2h-2zM869 593.8h2v2h-2zM629 595.8h2v2h-2zM769 595.8h2v2h-2zM841 595.8h2v2h-2zM865 597.8h2v2h-2zM847 599.8h2v2h-2zM867 599.8h2v2h-2zM919 599.8h2v2h-2zM157 685.8h2v2h-2zM247 687.8h2v2h-2zM245 689.8h2v2h-2zM263 691.8h2v2h-2zM575 691.8h2v2h-2zM139 693.8h2v2h-2zM191 693.8h2v2h-2zM251 693.8h2v2h-2zM277 693.8h2v2h-2zM369 693.8h2v2h-2zM373 693.8h2v2h-2zM479 693.8h2v2h-2zM547 693.8h2v2h-2zM551 693.8h2v2h-2zM567 693.8h2v2h-2zM611 693.8h2v2h-2zM641 693.8h2v2h-2zM709 693.8h2v2h-2zM755 693.8h2v2h-2zM169 695.8h2v2h-2zM249 695.8h2v2h-2zM455 695.8h2v2h-2zM619 695.8h2v2h-2zM681 695.8h2v2h-2zM719 695.8h2v2h-2zM195 697.8h2v2h-2zM819 697.8h2v2h-2zM861 697.8h2v2h-2zM167 699.8h2v2h-2z"/>
<path fill="#20ffdf" d="M765 133.8h2v2h-2zM775 135.8h2v2h-2zM859 135.8h2v2h-2zM903 141.8h2v2h-2zM167 235.8h2v2h-2zM199 235.8h2v2h-2zM155 237.8h2v2h-2zM159 237.8h2v2h-2zM339 239.8h2v2h-2zM379 239.8h2v2h-2zM423 239.8h2v2h-2zM473 239.8h4v2h-4zM497 239.8h2v2h-2zM595 239.8h2v2h-2zM239 241.8h2v2h-2zM527 241.8h2v2h-2zM605 241.8h2v2h-2zM891 241.8h2v2h-2zM571 243.8h2v2h-2zM797 243.8h2v2h-2zM823 243.8h2v2h-2zM849 243.8h2v2h-2zM901 243.8h2v2h-2zM705 245.8h2v2h-2zM823 245.8h2v2h-2zM851 245.8h2v2h-2zM779 249.8h2v2h-2zM897 249.8h2v2h-2zM263 425.8h2v2h-2zM383 425.8h2v2h-2zM135 427.8h4v2h-4zM319 427.8h2v2h-2zM425 427.8h2v2h-2zM441 427.8h2v2h-2zM453 427.8h2v2h-2zM533 429.8h2v2h-2zM593 429.8h2v2h-2zM697 429.8h2v2h-2zM777 429.8h2v2h-2zM783 429.8h2v2h-2zM629 431.8h2v2h-2zM681 431.8h2v2h-2zM733 431.8h2v2h-2zM789 431.8h2v2h-2zM799 431.8h2v2h-2zM897 433.8h4v2h-4zM233 585.8h2v2h-2zM337 585.8h2v2h-2zM169 587.8h2v2h-2zM227 587.8h2v2h-2zM243 587.8h2v2h-2zM293 587.8h2v2h-2zM353 587.8h2v2h-2zM401 587.8h2v2h-2zM547 587.8h2v2h-2zM181 589.8h2v2h-2zM195 589.8h2v2h-2zM293 589.8h2v2h-2zM465 589.8h2v2h-2zM593 589.8h2v2h-2zM491 591.8h2v2h-2zM563 591.8h4v2h-4zM709 591.8h2v2h-2zM219 593.8h2v2h-2zM257 593.8h2v2h-2zM343 593.8h2v2h-2zM499 593.8h2v2h-2zM559 593.8h2v2h-2zM631 593.8h2v2h-2zM729 593.8h2v2h-2zM891 593.8h2v2h-2zM573 595.8h2v2h-2zM681 595.8h2v2h-2zM833 595.8h2v2h-2zM839 595.8h2v2h-2zM881 595.8h2v2h-2zM905 595.8h2v2h-2zM797 599.8h2v2h-2zM899 599.8h2v2h-2zM183 689.8h2v2h-2zM239 689.8h2v2h-2zM297 691.8h2v2h-2zM415 691.8h2v2h-2zM257 693.8h2v2h-2zM327 693.8h2v2h-2zM481 693.8h2v2h-2zM619 693.8h2v2h-2zM751 693.8h2v2h-2zM285 695.8h2v2h-2zM679 695.8h2v2h-2zM799 695.8h2v2h-2zM239 697.8h2v2h-2zM843 697.8h4v2h-4zM849 699.8h2v2h-2zM905 699.8h2v2h-2zM929 701.8h2v2h-2z"/>
<path fill="#30ffcf" d="M225 131.8h2v2h-2zM289 231.8h2v2h-2zM285 233.8h2v2h-2zM295 237.8h2v2h-2zM325 237.8h2v2h-2zM375 237.8h4v2h-4zM157 239.8h2v2h-2zM189 239.8h2v2h-2zM275 239.8h2v2h-2zM315 239.8h2v2h-2zM349 239.8h2v2h-2zM675 239.8h2v2h-2zM435 241.8h2v2h-2zM463 241.8h2v2h-2zM487 243.8h2v2h-2zM515 243.8h2v2h-2zM817 243.8h2v2h-2zM869 243.8h2v2h-2zM913 243.8h2v2h-2zM751 245.8h2v2h-2zM867 245.8h2v2h-2zM775 247.8h4v2h-4zM919 247.8h2v2h-2zM383 423.8h2v2h-2zM323 427.8h2v2h-2zM377 427.8h2v2h-2zM421 427.8h2v2h-2zM609 427.8h2v2h-2zM641 427.8h2v2h-2zM585 429.8h2v2h-2zM603 429.8h2v2h-2zM643 429.8h2v2h-2zM679 429.8h2v2h-2zM745 429.8h2v2h-2zM279 431.8h2v2h-2zM359 431.8h2v2h-2zM363 431.8h4v2h-4zM701 431.8h2v2h-2zM803 431.8h2v2h-2zM815 431.8h2v2h-2zM855 431.8h2v2h-2zM891 431.8h2v2h-2zM749 433.8h2v2h-2zM765 433.8h2v2h-2zM841 433.8h2v2h-2zM911 433.8h2v2h-2zM929 433.8h2v2h-2zM867 435.8h2v2h-2zM239 583.8h2v2h-2zM231 585.8h2v2h-2zM373 585.8h2v2h-2zM163 587.8h2v2h-2zM135 589.8h2v2h-2zM205 589.8h2v2h-2zM397 589.8h2v2h-2zM405 589.8h2v2h-2zM411 589.8h2v2h-2zM433 589.8h2v2h-2zM509 589.8h2v2h-2zM549 589.8h2v2h-2zM207 591.8h2v2h-2zM365 591.8h2v2h-2zM407 591.8h2v2h-2zM447 591.8h2v2h-2zM501 591.8h2v2h-2zM507 591.8h2v2h-2zM147 593.8h2v2h-2zM229 593.8h2v2h-2zM235 593.8h2v2h-2zM487 593.8h2v2h-2zM517 593.8h2v2h-2zM579 593.8h2v2h-2zM635 593.8h2v2h-2zM663 593.8h2v2h-2zM731 593.8h2v2h-2zM795 593.8h2v2h-2zM837 593.8h2v2h-2zM735 595.8h2v2h-2zM687 597.8h2v2h-2zM817 597.8h2v2h-2zM913 597.8h2v2h-2zM137 689.8h2v2h-2zM145 689.8h2v2h-2zM325 689.8h2v2h-2zM195 691.8h2v2h-2zM473 693.8h2v2h-2zM491 693.8h2v2h-2zM541 693.8h2v2h-2zM785 693.8h2v2h-2zM489 695.8h2v2h-2zM717 695.8h2v2h-2zM781 695.8h2v2h-2zM867 695.8h2v2h-2zM815 697.8h2v2h-2zM913 697.8h2v2h-2zM775 699.8h2v2h-2zM851 699.8h2v2h-2z"/>
<path fill="#40ffbf" d="M895 139.8h2v2h-2zM211 235.8h2v2h-2zM139 237.8h2v2h-2zM171 237.8h2v2h-2zM273 237.8h2v2h-2zM355 237.8h2v2h-2zM461 237.8h2v2h-2zM503 237.8h2v2h-2zM579 237.8h2v2h-2zM273 239.8h2v2h-2zM229 241.8h2v2h-2zM279 241.8h2v2h-2zM627 241.8h2v2h-2zM759 241.8h2v2h-2zM793 241.8h2v2h-2zM885 241.8h2v2h-2zM739 243.8h2v2h-2zM751 243.8h2v2h-2zM773 243.8h2v2h-2zM839 243.8h2v2h-2zM781 245.8h2v2h-2zM745 247.8h2v2h-2zM749 247.8h2v2h-2zM141 423.8h2v2h-2zM341 425.8h2v2h-2zM355 427.8h2v2h-2zM401 427.8h2v2h-2zM435 427.8h2v2h-2zM601 427.8h2v2h-2zM633 427.8h2v2h-2zM163 429.8h2v2h-2zM271 429.8h2v2h-2zM375 429.8h2v2h-2zM395 429.8h2v2h-2zM467 429.8h2v2h-2zM521 429.8h2v2h-2zM539 429.8h2v2h-2zM579 429.8h2v2h-2zM739 429.8h2v2h-2zM781 429.8h2v2h-2zM775 431.8h2v2h-2zM791 431.8h2v2h-2zM139 585.8h2v2h-2zM137 587.8h2v2h-2zM315 589.8h2v2h-2zM355 589.8h2v2h-2zM377 589.8h2v2h-2zM449 589.8h2v2h-2zM139 591.8h2v2h-2zM291 591.8h2v2h-2zM327 591.8h2v2h-2zM383 591.8h2v2h-2zM461 591.8h2v2h-2zM481 591.8h2v2h-2zM643 591.8h2v2h-2zM783 591.8h2v2h-2zM327 593.8h2v2h-2zM789 593.8h2v2h-2zM851 593.8h2v2h-2zM225 595.8h2v2h-2zM719 595.8h2v2h-2zM765 595.8h2v2h-2zM771 595.8h2v2h-2zM797 595.8h2v2h-2zM873 595.8h2v2h-2zM795 597.8h2v2h-2zM863 597.8h2v2h-2zM877 597.8h2v2h-2zM815 599.8h2v2h-2zM263 687.8h2v2h-2zM229 689.8h2v2h-2zM229 691.8h2v2h-2zM155 693.8h2v2h-2zM231 693.8h2v2h-2zM253 693.8h2v2h-2zM465 693.8h2v2h-2zM517 693.8h2v2h-2zM753 693.8h2v2h-2zM407 695.8h2v2h-2zM783 695.8h2v2h-2zM797 695.8h2v2h-2zM823 695.8h2v2h-2zM843 695.8h2v2h-2zM875 695.8h2v2h-2zM879 695.8h2v2h-2zM883 695.8h2v2h-2zM921 695.8h2v2h-2zM693 697.8h2v2h-2zM895 697.8h2v2h-2zM909 697.8h2v2h-2zM917 697.8h2v2h-2zM921 697.8h2v2h-2z"/>
<path fill="#50ffaf" d="M173 235.8h2v2h-2zM789 239.8h2v2h-2zM881 239.8h2v2h-2zM153 241.8h2v2h-2zM313 241.8h2v2h-2zM765 243.8h2v2h-2zM785 243.8h2v2h-2zM811 243.8h6v2h-6zM641 245.8h2v2h-2zM771 245.8h2v2h-2zM857 245.8h2v2h-2zM781 247.8h2v2h-2zM145 419.8h2v2h-2zM267 421.8h2v2h-2zM155 423.8h2v2h-2zM193 425.8h2v2h-2zM227 425.8h2v2h-2zM337 425.8h2v2h-2zM219 427.8h2v2h-2zM293 427.8h2v2h-2zM337 427.8h2v2h-2zM783 427.8h2v2h-2zM185 429.8h2v2h-2zM433 429.8h2v2h-2zM567 429.8h2v2h-2zM845 429.8h2v2h-2zM881 429.8h2v2h-2zM749 431.8h2v2h-2zM795 431.8h2v2h-2zM805 431.8h2v2h-2zM881 431.8h2v2h-2zM921 431.8h2v2h-2zM825 433.8h2v2h-2zM871 433.8h4v2h-4zM901 433.8h2v2h-2zM819 435.8h2v2h-2zM869 435.8h2v2h-2zM183 583.8h2v2h-2zM299 587.8h2v2h-2zM475 587.8h2v2h-2zM527 587.8h2v2h-2zM187 589.8h2v2h-2zM463 589.8h2v2h-2zM475 589.8h2v2h-2zM585 589.8h2v2h-2zM595 589.8h2v2h-2zM671 589.8h2v2h-2zM693 589.8h2v2h-2zM169 591.8h2v2h-2zM195 591.8h2v2h-2zM209 591.8h2v2h-2zM289 591.8h2v2h-2zM329 591.8h2v2h-2zM343 591.8h2v2h-2zM423 591.8h2v2h-2zM579 591.8h2v2h-2zM767 591.8h2v2h-2zM193 593.8h2v2h-2zM345 593.8h2v2h-2zM551 593.8h2v2h-2zM681 593.8h4v2h-4zM705 593.8h2v2h-2zM725 593.8h2v2h-2zM741 593.8h2v2h-2zM751 593.8h2v2h-2zM827 593.8h2v2h-2zM135 595.8h2v2h-2zM233 595.8h2v2h-2zM603 595.8h2v2h-2zM619 595.8h2v2h-2zM815 597.8h2v2h-2zM885 597.8h2v2h-2zM227 687.8h2v2h-2zM203 691.8h2v2h-2zM283 691.8h2v2h-2zM355 691.8h2v2h-2zM477 691.8h2v2h-2zM203 693.8h2v2h-2zM275 693.8h2v2h-2zM411 693.8h2v2h-2zM433 693.8h2v2h-2zM493 693.8h2v2h-2zM759 693.8h4v2h-4zM539 695.8h2v2h-2zM761 695.8h2v2h-2zM869 695.8h2v2h-2zM149 697.8h2v2h-2zM777 699.8h2v2h-2zM893 699.8h2v2h-2zM775 701.8h2v2h-2z"/>
<path fill="#60ff9f" d="M145 231.8h2v2h-2zM293 235.8h2v2h-2zM445 235.8h2v2h-2zM275 237.8h2v2h-2zM379 237.8h2v2h-2zM451 237.8h2v2h-2zM229 239.8h2v2h-2zM531 239.8h2v2h-2zM631 239.8h2v2h-2zM905 239.8h2v2h-2zM267 241.8h2v2h-2zM357 241.8h4v2h-4zM635 241.8h2v2h-2zM743 245.8h2v2h-2zM749 245.8h2v2h-2zM903 245.8h2v2h-2zM923 245.8h2v2h-2zM923 249.8h2v2h-2zM265 423.8h2v2h-2zM341 423.8h2v2h-2zM169 425.8h2v2h-2zM371 425.8h2v2h-2zM179 427.8h2v2h-2zM187 427.8h2v2h-2zM405 427.8h2v2h-2zM811 429.8h2v2h-2zM849 429.8h2v2h-2zM925 431.8h2v2h-2zM677 433.8h2v2h-2zM769 433.8h2v2h-2zM903 433.8h2v2h-2zM199 583.8h2v2h-2zM219 585.8h2v2h-2zM141 587.8h2v2h-2zM149 589.8h2v2h-2zM219 589.8h2v2h-2zM341 589.8h2v2h-2zM409 589.8h2v2h-2zM459 591.8h2v2h-2zM495 591.8h2v2h-2zM557 591.8h2v2h-2zM575 591.8h2v2h-2zM581 591.8h2v2h-2zM585 591.8h2v2h-2zM597 591.8h2v2h-2zM159 593.8h2v2h-2zM175 593.8h2v2h-2zM203 593.8h2v2h-2zM391 593.8h2v2h-2zM519 593.8h2v2h-2zM689 593.8h2v2h-2zM747 593.8h2v2h-2zM765 593.8h2v2h-2zM823 593.8h4v2h-4zM921 593.8h2v2h-2zM257 595.8h2v2h-2zM539 595.8h2v2h-2zM617 595.8h2v2h-2zM723 595.8h2v2h-2zM783 595.8h2v2h-2zM853 595.8h2v2h-2zM773 597.8h2v2h-2zM781 597.8h2v2h-2zM813 597.8h2v2h-2zM777 599.8h2v2h-2zM159 687.8h2v2h-2zM181 691.8h2v2h-2zM445 691.8h2v2h-2zM153 693.8h2v2h-2zM299 693.8h2v2h-2zM471 693.8h2v2h-2zM477 693.8h2v2h-2zM537 693.8h2v2h-2zM607 693.8h2v2h-2zM639 693.8h2v2h-2zM421 695.8h2v2h-2zM473 695.8h2v2h-2zM483 695.8h2v2h-2zM553 695.8h2v2h-2zM655 695.8h2v2h-2zM743 695.8h2v2h-2zM861 695.8h2v2h-2zM197 697.8h2v2h-2zM883 697.8h2v2h-2zM893 697.8h2v2h-2zM911 697.8h2v2h-2zM855 699.8h2v2h-2zM903 699.8h2v2h-2z"/>
<path fill="#70ff8f" d="M257 235.8h2v2h-2zM165 237.8h2v2h-2zM183 237.8h2v2h-2zM217 237.8h2v2h-2zM237 237.8h2v2h-2zM185 239.8h2v2h-2zM313 239.8h2v2h-2zM331 239.8h2v2h-2zM399 239.8h2v2h-2zM299 241.8h2v2h-2zM799 241.8h2v2h-2zM803 241.8h4v2h-4zM279 243.8h2v2h-2zM567 243.8h2v2h-2zM881 243.8h2v2h-2zM885 243.8h2v2h-2zM775 245.8h2v2h-2zM849 245.8h2v2h-2zM747 247.8h2v2h-2zM921 249.8h2v2h-2zM345 423.8h2v2h-2zM203 425.8h2v2h-2zM163 427.8h2v2h-2zM229 427.8h2v2h-2zM289 427.8h2v2h-2zM325 427.8h2v2h-2zM381 427.8h2v2h-2zM445 429.8h2v2h-2zM553 429.8h2v2h-2zM623 429.8h2v2h-2zM633 429.8h2v2h-2zM665 431.8h2v2h-2zM707 431.8h2v2h-2zM793 431.8h2v2h-2zM885 431.8h2v2h-2zM801 433.8h2v2h-2zM895 433.8h2v2h-2zM925 433.8h2v2h-2zM911 435.8h2v2h-2zM185 583.8h2v2h-2zM473 585.8h2v2h-2zM271 587.8h2v2h-2zM609 587.8h2v2h-2zM305 589.8h2v2h-2zM357 589.8h2v2h-2zM431 589.8h2v2h-2zM451 589.8h2v2h-2zM461 589.8h2v2h-2zM137 591.8h2v2h-2zM427 591.8h2v2h-2zM477 591.8h2v2h-2zM497 591.8h2v2h-2zM509 591.8h2v2h-2zM515 591.8h2v2h-2zM519 591.8h2v2h-2zM529 591.8h2v2h-2zM533 591.8h2v2h-2zM755 591.8h2v2h-2zM275 593.8h2v2h-2zM557 593.8h2v2h-2zM615 593.8h2v2h-2zM733 593.8h2v2h-2zM783 593.8h2v2h-2zM857 593.8h2v2h-2zM919 593.8h2v2h-2zM653 595.8h2v2h-2zM721 595.8h2v2h-2zM747 595.8h4v2h-4zM799 595.8h2v2h-2zM883 595.8h2v2h-2zM803 597.8h2v2h-2zM889 597.8h2v2h-2zM893 597.8h2v2h-2zM923 597.8h2v2h-2zM153 691.8h2v2h-2zM351 691.8h2v2h-2zM635 693.8h2v2h-2zM783 693.8h2v2h-2zM201 695.8h2v2h-2zM235 695.8h2v2h-2zM731 695.8h2v2h-2zM803 695.8h2v2h-2zM817 695.8h2v2h-2zM825 695.8h2v2h-2zM845 695.8h2v2h-2zM871 695.8h2v2h-2zM735 697.8h2v2h-2zM821 697.8h2v2h-2zM859 697.8h2v2h-2zM807 699.8h2v2h-2zM813 699.8h2v2h-2zM853 699.8h2v2h-2zM857 699.8h2v2h-2zM773 701.8h2v2h-2z"/>
<path fill="#80ff80" d="M321 235.8h2v2h-2zM345 235.8h2v2h-2zM675 237.8h2v2h-2zM489 239.8h2v2h-2zM599 239.8h2v2h-2zM801 239.8h2v2h-2zM683 241.8h2v2h-2zM761 241.8h2v2h-2zM871 241.8h2v2h-2zM911 241.8h2v2h-2zM213 243.8h4v2h-4zM545 243.8h2v2h-2zM819 243.8h2v2h-2zM837 243.8h2v2h-2zM871 243.8h2v2h-2zM905 243.8h2v2h-2zM149 425.8h2v2h-2zM167 427.8h2v2h-2zM207 427.8h2v2h-2zM351 427.8h2v2h-2zM719 427.8h2v2h-2zM311 429.8h2v2h-2zM563 429.8h2v2h-2zM583 429.8h2v2h-2zM133 431.8h2v2h-2zM771 433.8h2v2h-2zM893 433.8h2v2h-2zM821 435.8h2v2h-2zM179 585.8h2v2h-2zM233 587.8h2v2h-2zM305 587.8h2v2h-2zM179 589.8h2v2h-2zM223 589.8h2v2h-2zM419 589.8h2v2h-2zM523 589.8h2v2h-2zM171 591.8h2v2h-2zM187 591.8h2v2h-2zM191 591.8h2v2h-2zM449 591.8h2v2h-2zM465 591.8h2v2h-2zM587 591.8h2v2h-2zM697 591.8h2v2h-2zM751 591.8h2v2h-2zM481 593.8h2v2h-2zM541 593.8h2v2h-2zM629 593.8h2v2h-2zM915 593.8h2v2h-2zM779 595.8h2v2h-2zM847 595.8h2v2h-2zM875 595.8h2v2h-2zM875 597.8h2v2h-2zM907 597.8h2v2h-2zM915 597.8h2v2h-2zM779 599.8h2v2h-2zM385 691.8h2v2h-2zM427 691.8h2v2h-2zM467 691.8h2v2h-2zM177 693.8h2v2h-2zM213 693.8h2v2h-2zM419 693.8h2v2h-2zM507 693.8h2v2h-2zM243 695.8h2v2h-2zM543 695.8h2v2h-2zM737 697.8h2v2h-2zM779 697.8h2v2h-2zM839 697.8h2v2h-2zM847 697.8h2v2h-2zM927 699.8h2v2h-2z"/>
<path fill="#8fff70" d="M173 233.8h2v2h-2zM209 233.8h2v2h-2zM217 239.8h2v2h-2zM803 239.8h2v2h-2zM629 241.8h2v2h-2zM753 241.8h2v2h-2zM709 243.8h2v2h-2zM721 243.8h2v2h-2zM753 243.8h2v2h-2zM767 243.8h2v2h-2zM929 243.8h2v2h-2zM859 245.8h2v2h-2zM189 425.8h2v2h-2zM197 425.8h2v2h-2zM209 425.8h2v2h-2zM347 425.8h2v2h-2zM283 427.8h2v2h-2zM343 427.8h2v2h-2zM153 429.8h2v2h-2zM315 429.8h2v2h-2zM361 429.8h2v2h-2zM587 429.8h2v2h-2zM759 429.8h2v2h-2zM883 429.8h2v2h-2zM817 433.8h2v2h-2zM839 433.8h2v2h-2zM859 433.8h2v2h-2zM219 583.8h2v2h-2zM269 587.8h2v2h-2zM297 589.8h2v2h-2zM369 589.8h2v2h-2zM607 589.8h2v2h-2zM675 589.8h2v2h-2zM753 589.8h2v2h-2zM789 589.8h2v2h-2zM153 591.8h2v2h-2zM317 591.8h2v2h-2zM367 591.8h2v2h-2zM505 591.8h2v2h-2zM561 591.8h2v2h-2zM717 591.8h2v2h-2zM205 593.8h2v2h-2zM455 593.8h2v2h-2zM493 593.8h2v2h-2zM695 593.8h2v2h-2zM773 593.8h2v2h-2zM855 593.8h2v2h-2zM923 593.8h2v2h-2zM927 593.8h2v2h-2zM843 595.8h2v2h-2zM863 595.8h2v2h-2zM887 595.8h2v2h-2zM793 597.8h2v2h-2zM903 597.8h2v2h-2zM229 687.8h2v2h-2zM191 689.8h2v2h-2zM203 689.8h2v2h-2zM273 689.8h2v2h-2zM259 691.8h2v2h-2zM133 693.8h2v2h-2zM215 693.8h2v2h-2zM233 693.8h2v2h-2zM359 693.8h2v2h-2zM633 693.8h2v2h-2zM849 697.8h2v2h-2zM771 701.8h2v2h-2z"/>
<path fill="#9fff60" d="M289 233.8h2v2h-2zM311 237.8h2v2h-2zM225 239.8h2v2h-2zM795 241.8h4v2h-4zM801 241.8h2v2h-2zM843 241.8h2v2h-2zM879 241.8h2v2h-2zM645 243.8h2v2h-2zM687 243.8h2v2h-2zM831 243.8h2v2h-2zM891 243.8h2v2h-2zM863 245.8h2v2h-2zM915 245.8h2v2h-2zM901 247.8h2v2h-2zM323 425.8h2v2h-2zM387 425.8h2v2h-2zM251 427.8h2v2h-2zM159 429.8h2v2h-2zM183 429.8h2v2h-2zM797 431.8h2v2h-2zM919 431.8h2v2h-2zM913 433.8h4v2h-4zM927 433.8h2v2h-2zM901 435.8h2v2h-2zM197 585.8h2v2h-2zM215 585.8h2v2h-2zM403 587.8h2v2h-2zM165 589.8h2v2h-2zM331 589.8h2v2h-2zM413 589.8h2v2h-2zM563 589.8h2v2h-2zM879 589.8h2v2h-2zM235 591.8h2v2h-2zM341 591.8h2v2h-2zM445 591.8h2v2h-2zM479 591.8h2v2h-2zM499 591.8h2v2h-2zM551 591.8h2v2h-2zM571 591.8h2v2h-2zM613 591.8h2v2h-2zM661 591.8h2v2h-2zM675 591.8h2v2h-2zM715 591.8h2v2h-2zM731 591.8h2v2h-2zM423 593.8h2v2h-2zM515 593.8h2v2h-2zM619 593.8h2v2h-2zM833 593.8h2v2h-2zM853 593.8h2v2h-2zM877 593.8h2v2h-2zM883 593.8h2v2h-2zM173 595.8h2v2h-2zM599 595.8h2v2h-2zM621 595.8h2v2h-2zM687 595.8h2v2h-2zM737 595.8h2v2h-2zM817 595.8h2v2h-2zM821 595.8h2v2h-2zM851 595.8h2v2h-2zM871 597.8h2v2h-2zM917 597.8h2v2h-2zM249 689.8h2v2h-2zM133 691.8h2v2h-2zM151 693.8h2v2h-2zM403 693.8h2v2h-2zM757 693.8h2v2h-2zM375 695.8h2v2h-2zM595 695.8h2v2h-2zM657 697.8h2v2h-2zM733 697.8h2v2h-2zM803 697.8h2v2h-2zM813 697.8h2v2h-2zM837 697.8h2v2h-2zM915 697.8h2v2h-2zM923 697.8h2v2h-2zM899 699.8h2v2h-2zM769 701.8h2v2h-2z"/>
<path fill="#afff50" d="M161 237.8h2v2h-2zM191 237.8h2v2h-2zM237 239.8h2v2h-2zM395 239.8h2v2h-2zM753 239.8h4v2h-4zM909 239.8h2v2h-2zM281 241.8h2v2h-2zM929 241.8h2v2h-2zM919 245.8h2v2h-2zM927 245.8h2v2h-2zM145 421.8h2v2h-2zM139 427.8h2v2h-2zM353 427.8h2v2h-2zM551 429.8h2v2h-2zM807 429.8h2v2h-2zM711 431.8h2v2h-2zM875 431.8h2v2h-2zM887 431.8h2v2h-2zM927 431.8h2v2h-2zM909 433.8h2v2h-2zM351 589.8h2v2h-2zM159 591.8h2v2h-2zM273 591.8h2v2h-2zM313 591.8h2v2h-2zM393 591.8h2v2h-2zM419 591.8h2v2h-2zM467 591.8h2v2h-2zM547 591.8h4v2h-4zM733 591.8h2v2h-2zM753 591.8h2v2h-2zM785 591.8h2v2h-2zM839 591.8h2v2h-2zM577 593.8h2v2h-2zM679 593.8h2v2h-2zM781 593.8h2v2h-2zM865 593.8h2v2h-2zM139 595.8h2v2h-2zM387 595.8h2v2h-2zM739 595.8h2v2h-2zM743 595.8h2v2h-2zM781 595.8h2v2h-2zM871 595.8h2v2h-2zM797 597.8h4v2h-4zM177 687.8h2v2h-2zM143 691.8h2v2h-2zM215 691.8h2v2h-2zM615 691.8h2v2h-2zM793 693.8h2v2h-2zM213 695.8h2v2h-2zM729 695.8h2v2h-2zM829 695.8h4v2h-4zM865 695.8h2v2h-2zM841 697.8h2v2h-2z"/>
<path fill="#bfff40" d="M459 237.8h2v2h-2zM151 239.8h2v2h-2zM913 239.8h2v2h-2zM907 241.8h2v2h-2zM845 243.8h2v2h-2zM889 243.8h2v2h-2zM903 243.8h2v2h-2zM927 243.8h2v2h-2zM853 245.8h2v2h-2zM925 247.8h2v2h-2zM147 419.8h2v2h-2zM143 421.8h2v2h-2zM195 421.8h2v2h-2zM147 423.8h2v2h-2zM299 427.8h2v2h-2zM375 427.8h2v2h-2zM133 429.8h2v2h-2zM297 429.8h2v2h-2zM313 429.8h2v2h-2zM469 429.8h2v2h-2zM771 431.8h2v2h-2zM923 431.8h2v2h-2zM917 433.8h2v2h-2zM139 583.8h2v2h-2zM231 589.8h2v2h-2zM399 589.8h2v2h-2zM525 589.8h2v2h-2zM561 589.8h2v2h-2zM785 589.8h2v2h-2zM223 591.8h2v2h-2zM237 591.8h2v2h-2zM385 591.8h2v2h-2zM435 591.8h2v2h-2zM489 591.8h2v2h-2zM521 591.8h6v2h-6zM531 591.8h2v2h-2zM545 591.8h2v2h-2zM567 591.8h2v2h-2zM749 591.8h2v2h-2zM763 591.8h2v2h-2zM787 591.8h2v2h-2zM831 591.8h2v2h-2zM809 593.8h2v2h-2zM703 595.8h2v2h-2zM795 595.8h2v2h-2zM823 595.8h2v2h-2zM827 595.8h2v2h-2zM913 595.8h2v2h-2zM701 597.8h2v2h-2zM873 597.8h2v2h-2zM901 599.8h2v2h-2zM161 689.8h2v2h-2zM169 689.8h2v2h-2zM227 689.8h2v2h-2zM249 691.8h2v2h-2zM241 695.8h2v2h-2zM801 695.8h2v2h-2zM873 695.8h2v2h-2zM805 699.8h2v2h-2z"/>
<path fill="#cfff30" d="M151 233.8h2v2h-2zM153 239.8h2v2h-2zM771 243.8h2v2h-2zM865 245.8h2v2h-2zM921 247.8h2v2h-2zM147 425.8h2v2h-2zM159 427.8h2v2h-2zM317 429.8h2v2h-2zM801 431.8h2v2h-2zM833 431.8h2v2h-2zM905 433.8h2v2h-2zM359 585.8h2v2h-2zM247 587.8h2v2h-2zM265 587.8h2v2h-2zM415 587.8h2v2h-2zM469 587.8h2v2h-2zM169 589.8h2v2h-2zM239 589.8h2v2h-2zM471 589.8h2v2h-2zM477 589.8h2v2h-2zM645 589.8h2v2h-2zM441 591.8h2v2h-2zM541 591.8h2v2h-2zM559 591.8h2v2h-2zM655 591.8h2v2h-2zM729 591.8h2v2h-2zM137 593.8h2v2h-2zM167 593.8h2v2h-2zM329 593.8h2v2h-2zM425 593.8h2v2h-2zM653 593.8h2v2h-2zM723 593.8h2v2h-2zM763 593.8h2v2h-2zM767 593.8h2v2h-2zM807 593.8h2v2h-2zM821 593.8h2v2h-2zM829 593.8h4v2h-4zM881 593.8h2v2h-2zM929 593.8h2v2h-2zM207 595.8h2v2h-2zM907 595.8h2v2h-2zM845 597.8h4v2h-4zM851 597.8h2v2h-2zM905 597.8h2v2h-2zM249 687.8h2v2h-2zM147 689.8h2v2h-2zM425 691.8h2v2h-2zM197 693.8h2v2h-2zM617 693.8h2v2h-2zM705 693.8h2v2h-2zM167 695.8h2v2h-2zM795 695.8h2v2h-2zM765 697.8h2v2h-2z"/>
<path fill="#dfff20" d="M155 235.8h2v2h-2zM297 241.8h2v2h-2zM599 241.8h2v2h-2zM763 241.8h2v2h-2zM875 241.8h2v2h-2zM883 243.8h2v2h-2zM861 245.8h2v2h-2zM137 429.8h2v2h-2zM715 431.8h2v2h-2zM835 431.8h2v2h-2zM199 585.8h2v2h-2zM295 587.8h2v2h-2zM141 589.8h2v2h-2zM177 589.8h2v2h-2zM469 589.8h2v2h-2zM205 591.8h2v2h-2zM395 591.8h2v2h-2zM451 591.8h2v2h-2zM457 591.8h2v2h-2zM139 593.8h2v2h-2zM247 593.8h2v2h-2zM427 593.8h2v2h-2zM485 593.8h2v2h-2zM571 593.8h2v2h-2zM685 593.8h2v2h-2zM843 593.8h2v2h-2zM633 595.8h2v2h-2zM665 595.8h2v2h-2zM777 595.8h2v2h-2zM849 595.8h2v2h-2zM867 595.8h2v2h-2zM257 689.8h2v2h-2zM263 689.8h2v2h-2zM247 691.8h2v2h-2zM789 691.8h2v2h-2zM221 693.8h2v2h-2zM445 693.8h2v2h-2zM879 693.8h2v2h-2zM601 695.8h2v2h-2zM881 695.8h2v2h-2zM925 697.8h2v2h-2z"/>
<path fill="#efff10" d="M149 235.8h2v2h-2zM149 237.8h2v2h-2zM253 237.8h2v2h-2zM147 241.8h2v2h-2zM549 241.8h2v2h-2zM739 241.8h2v2h-2zM809 243.8h2v2h-2zM901 245.8h2v2h-2zM925 245.8h2v2h-2zM143 423.8h2v2h-2zM149 427.8h2v2h-2zM263 427.8h2v2h-2zM367 427.8h2v2h-2zM917 431.8h2v2h-2zM163 581.8h2v2h-2zM241 585.8h2v2h-2zM171 587.8h2v2h-2zM191 587.8h2v2h-2zM227 589.8h2v2h-2zM233 589.8h2v2h-2zM415 589.8h2v2h-2zM547 589.8h2v2h-2zM453 591.8h2v2h-2zM493 591.8h2v2h-2zM735 591.8h2v2h-2zM259 593.8h2v2h-2zM383 593.8h2v2h-2zM503 593.8h2v2h-2zM575 593.8h2v2h-2zM693 593.8h2v2h-2zM761 593.8h2v2h-2zM859 593.8h2v2h-2zM879 593.8h2v2h-2zM227 595.8h2v2h-2zM485 595.8h2v2h-2zM807 595.8h2v2h-2zM869 595.8h2v2h-2zM885 595.8h2v2h-2zM891 595.8h2v2h-2zM917 595.8h2v2h-2zM867 597.8h2v2h-2zM895 597.8h2v2h-2zM199 689.8h2v2h-2zM147 691.8h2v2h-2zM225 691.8h2v2h-2zM739 697.8h2v2h-2zM811 699.8h2v2h-2zM167 701.8h2v2h-2z"/>
<path fill="#ffff00" d="M145 235.8h2v2h-2zM233 237.8h2v2h-2zM539 239.8h2v2h-2zM597 239.8h2v2h-2zM189 241.8h2v2h-2zM305 241.8h2v2h-2zM491 241.8h2v2h-2zM769 243.8h2v2h-2zM827 243.8h2v2h-2zM301 245.8h2v2h-2zM773 245.8h2v2h-2zM141 427.8h2v2h-2zM597 433.8h2v2h-2zM183 585.8h2v2h-2zM151 587.8h2v2h-2zM471 587.8h4v2h-4zM137 589.8h2v2h-2zM279 589.8h2v2h-2zM643 589.8h2v2h-2zM837 589.8h2v2h-2zM193 591.8h2v2h-2zM455 591.8h2v2h-2zM511 591.8h2v2h-2zM543 591.8h2v2h-2zM761 591.8h2v2h-2zM135 593.8h2v2h-2zM489 593.8h2v2h-2zM627 593.8h2v2h-2zM737 593.8h2v2h-2zM917 593.8h2v2h-2zM663 595.8h2v2h-2zM865 595.8h2v2h-2zM261 687.8h2v2h-2zM181 689.8h2v2h-2zM199 691.8h2v2h-2zM199 693.8h2v2h-2zM237 695.8h2v2h-2zM741 697.8h2v2h-2z"/>
<path fill="#ffef00" d="M505 239.8h2v2h-2zM873 241.8h2v2h-2zM893 243.8h2v2h-2zM365 429.8h2v2h-2zM163 585.8h2v2h-2zM201 587.8h2v2h-2zM335 587.8h2v2h-2zM269 589.8h2v2h-2zM417 589.8h2v2h-2zM611 589.8h2v2h-2zM203 591.8h2v2h-2zM381 591.8h2v2h-2zM431 591.8h2v2h-2zM539 593.8h2v2h-2zM649 593.8h2v2h-2zM711 593.8h2v2h-2zM759 593.8h2v2h-2zM841 593.8h2v2h-2zM925 593.8h2v2h-2zM171 595.8h2v2h-2zM283 595.8h2v2h-2zM845 595.8h2v2h-2zM775 597.8h2v2h-2zM779 597.8h2v2h-2zM887 597.8h2v2h-2zM897 599.8h2v2h-2zM159 689.8h2v2h-2zM169 693.8h2v2h-2zM241 693.8h2v2h-2zM233 695.8h2v2h-2zM251 695.8h2v2h-2zM371 695.8h2v2h-2zM549 695.8h2v2h-2zM167 697.8h2v2h-2zM891 699.8h2v2h-2z"/>
<path fill="#ffdf00" d="M533 235.8h2v2h-2zM575 239.8h2v2h-2zM907 239.8h2v2h-2zM911 239.8h2v2h-2zM245 241.8h2v2h-2zM915 241.8h2v2h-2zM783 245.8h2v2h-2zM213 583.8h2v2h-2zM231 587.8h2v2h-2zM337 587.8h2v2h-2zM171 589.8h2v2h-2zM289 589.8h2v2h-2zM425 591.8h2v2h-2zM503 591.8h2v2h-2zM707 591.8h2v2h-2zM739 591.8h2v2h-2zM759 591.8h2v2h-2zM303 593.8h2v2h-2zM683 595.8h2v2h-2zM801 595.8h2v2h-2zM877 595.8h2v2h-2zM207 597.8h2v2h-2zM891 597.8h2v2h-2zM189 687.8h2v2h-2zM195 693.8h2v2h-2zM749 693.8h2v2h-2zM805 697.8h2v2h-2zM919 697.8h2v2h-2z"/>
<path fill="#ffcf00" d="M235 237.8h2v2h-2zM321 237.8h2v2h-2zM139 239.8h2v2h-2zM757 239.8h2v2h-2zM789 241.8h2v2h-2zM883 241.8h2v2h-2zM915 243.8h2v2h-2zM893 245.8h2v2h-2zM779 247.8h2v2h-2zM245 429.8h2v2h-2zM485 429.8h2v2h-2zM883 431.8h2v2h-2zM183 587.8h2v2h-2zM339 587.8h2v2h-2zM163 589.8h2v2h-2zM207 589.8h2v2h-2zM757 589.8h2v2h-2zM787 589.8h2v2h-2zM513 591.8h2v2h-2zM173 593.8h2v2h-2zM769 593.8h4v2h-4zM805 593.8h2v2h-2zM805 595.8h2v2h-2zM811 595.8h2v2h-2zM921 595.8h2v2h-2zM235 693.8h2v2h-2zM165 695.8h2v2h-2z"/>
<path fill="#ffbf00" d="M319 235.8h2v2h-2zM719 241.8h2v2h-2zM887 243.8h2v2h-2zM897 247.8h2v2h-2zM303 429.8h2v2h-2zM141 585.8h2v2h-2zM297 587.8h2v2h-2zM373 587.8h2v2h-2zM211 591.8h2v2h-2zM421 591.8h2v2h-2zM443 591.8h2v2h-2zM583 591.8h2v2h-2zM757 591.8h2v2h-2zM791 591.8h2v2h-2zM165 593.8h2v2h-2zM573 593.8h2v2h-2zM861 595.8h2v2h-2zM929 595.8h2v2h-2zM897 597.8h2v2h-2zM325 691.8h2v2h-2zM253 695.8h2v2h-2zM863 695.8h2v2h-2zM211 697.8h2v2h-2zM251 697.8h2v2h-2z"/>
<path fill="#ffaf00" d="M759 239.8h2v2h-2zM881 241.8h2v2h-2zM145 423.8h2v2h-2zM139 429.8h2v2h-2zM267 585.8h2v2h-2zM177 587.8h2v2h-2zM333 587.8h2v2h-2zM755 589.8h2v2h-2zM391 591.8h2v2h-2zM789 591.8h2v2h-2zM879 591.8h2v2h-2zM741 595.8h2v2h-2zM745 595.8h2v2h-2zM895 595.8h2v2h-2zM861 597.8h2v2h-2zM191 687.8h2v2h-2zM271 689.8h2v2h-2zM193 691.8h2v2h-2zM377 691.8h2v2h-2zM207 693.8h2v2h-2zM183 695.8h2v2h-2zM207 695.8h2v2h-2zM235 697.8h2v2h-2z"/>
<path fill="#ff9f00" d="M905 241.8h2v2h-2zM161 427.8h2v2h-2zM831 431.8h2v2h-2zM307 587.8h2v2h-2zM527 589.8h2v2h-2zM569 591.8h2v2h-2zM453 593.8h2v2h-2zM793 593.8h2v2h-2zM775 595.8h2v2h-2zM793 595.8h2v2h-2zM803 595.8h2v2h-2zM909 595.8h2v2h-2zM777 597.8h2v2h-2zM849 597.8h2v2h-2zM239 691.8h2v2h-2z"/>
<path fill="#ff8f00" d="M149 239.8h2v2h-2zM151 241.8h2v2h-2zM913 241.8h2v2h-2zM829 243.8h2v2h-2zM917 243.8h2v2h-2zM899 247.8h2v2h-2zM189 587.8h2v2h-2zM151 589.8h2v2h-2zM155 591.8h2v2h-2zM261 591.8h2v2h-2zM773 595.8h2v2h-2zM809 595.8h2v2h-2zM911 595.8h2v2h-2zM899 597.8h2v2h-2zM247 689.8h2v2h-2zM135 691.8h2v2h-2zM243 693.8h2v2h-2zM707 693.8h2v2h-2zM209 695.8h2v2h-2zM237 699.8h2v2h-2z"/>
<path fill="#ff8000" d="M673 585.8h2v2h-2zM241 587.8h2v2h-2zM143 589.8h2v2h-2zM233 593.8h2v2h-2zM749 593.8h2v2h-2zM169 691.8h2v2h-2zM201 691.8h2v2h-2zM165 697.8h2v2h-2zM233 697.8h2v2h-2z"/>
<path fill="#ff7000" d="M287 237.8h2v2h-2zM897 245.8h2v2h-2zM589 589.8h2v2h-2zM177 591.8h2v2h-2zM839 593.8h2v2h-2zM915 595.8h2v2h-2zM923 595.8h2v2h-2zM183 691.8h2v2h-2z"/>
<path fill="#ff6000" d="M269 237.8h2v2h-2zM895 245.8h2v2h-2zM147 421.8h2v2h-2zM149 423.8h2v2h-2zM145 425.8h2v2h-2zM175 591.8h2v2h-2zM589 591.8h2v2h-2zM225 593.8h2v2h-2zM791 593.8h2v2h-2zM175 595.8h2v2h-2zM189 691.8h2v2h-2zM261 691.8h2v2h-2zM209 693.8h2v2h-2z"/>
<path fill="#ff5000" d="M923 247.8h2v2h-2zM211 425.8h2v2h-2zM267 587.8h2v2h-2zM243 591.8h2v2h-2zM315 591.8h2v2h-2zM735 593.8h2v2h-2zM801 597.8h2v2h-2zM901 597.8h2v2h-2zM193 689.8h2v2h-2z"/>
<path fill="#ff4000" d="M303 591.8h2v2h-2zM283 593.8h2v2h-2zM205 595.8h2v2h-2zM191 691.8h2v2h-2zM241 697.8h2v2h-2z"/>
<path fill="#ff3000" d="M237 589.8h2v2h-2zM229 591.8h2v2h-2zM837 591.8h2v2h-2zM919 597.8h2v2h-2z"/>
<path fill="#ff2000" d="M223 235.8h2v2h-2zM135 431.8h2v2h-2zM133 433.8h2v2h-2zM825 595.8h2v2h-2zM171 695.8h2v2h-2zM211 695.8h2v2h-2z"/>
<path fill="#ff1000" d="M189 589.8h2v2h-2zM243 589.8h2v2h-2zM381 593.8h2v2h-2zM739 593.8h2v2h-2zM161 691.8h2v2h-2zM225 695.8h2v2h-2z"/>
<path fill="#ff0000" d="M175 589.8h2v2h-2zM189 685.8h2v2h-2zM183 693.8h2v2h-2z"/>
<path fill="#ef0000" d="M139 241.8h2v2h-2zM213 585.8h2v2h-2zM693 591.8h2v2h-2z"/>
<path fill="#df0000" d="M339 423.8h2v2h-2zM261 689.8h2v2h-2zM225 693.8h2v2h-2zM195 695.8h2v2h-2z"/>
<path fill="#cf0000" d="M159 425.8h2v2h-2zM157 427.8h2v2h-2zM161 585.8h2v2h-2zM165 591.8h2v2h-2zM919 595.8h2v2h-2zM135 689.8h2v2h-2z"/>
<path fill="#bf0000" d="M145 233.8h2v2h-2zM917 245.8h2v2h-2zM239 585.8h2v2h-2zM191 593.8h2v2h-2zM535 593.8h2v2h-2zM239 693.8h2v2h-2z"/>
<path fill="#af0000" d="M145 691.8h2v2h-2z"/>
<path fill="#9f0000" d="M257 691.8h2v2h-2z"/>
<path fill="#800000" d="M135 429.8h2v2h-2zM163 583.8h2v2h-2zM143 587.8h2v2h-2zM179 587.8h2v2h-2zM199 587.8h2v2h-2zM193 589.8h2v2h-2zM859 595.8h2v2h-2zM925 595.8h2v2h-2zM177 689.8h2v2h-2zM189 689.8h2v2h-2zM177 691.8h2v2h-2zM239 695.8h2v2h-2zM237 697.8h2v2h-2z"/></g></g>
</svg>

<div class="t yt" style="left:43.00px;top:134.60px"><span class=o>1</span>0</div>
<div class="t yt" style="left:43.00px;top:271.65px">5</div>
<div class="t yt" style="left:43.00px;top:408.70px">0</div>
<div class="t yt" style="left:43.00px;top:545.75px">-5</div>
<div class="t yt" style="left:43.00px;top:682.80px">-<span class=o>1</span>0</div>
<div class="t xt" style="left:192.75px;top:794.30px">9</div>
<div class="t xt" style="left:292.50px;top:794.30px"><span class=o>1</span>0</div>
<div class="t xt" style="left:392.25px;top:794.30px"><span class=o>1</span><span class=o>1</span></div>
<div class="t xt" style="left:492.00px;top:794.30px"><span class=o>1</span>2</div>
<div class="t xt" style="left:591.75px;top:794.30px"><span class=o>1</span>3</div>
<div class="t xt" style="left:691.50px;top:794.30px"><span class=o>1</span>4</div>
<div class="t xt" style="left:791.25px;top:794.30px"><span class=o>1</span>5</div>
<div class="t xt" style="left:891.00px;top:794.30px"><span class=o>1</span>6</div>
<div class="t" id="xl" style="left:423.5px;top:834.2px;font-size:30.7px">hour of day [UT]</div>
<div class="t" id="yl" style="left:41px;top:521px;font-size:31px;transform-origin:0 0;transform:rotate(-90deg)">frequency [Hz]</div>
<div style="position:absolute;left:968.8px;top:63.8px;width:45.0px;height:715.0px;background:linear-gradient(to top, #00008f 0.000%, #00008f 1.562%, #00009f 1.562%, #00009f 3.125%, #0000af 3.125%, #0000af 4.688%, #0000bf 4.688%, #0000bf 6.250%, #0000cf 6.250%, #0000cf 7.812%, #0000df 7.812%, #0000df 9.375%, #0000ef 9.375%, #0000ef 10.938%, #0000ff 10.938%, #0000ff 12.500%, #0010ff 12.500%, #0010ff 14.062%, #0020ff 14.062%, #0020ff 15.625%, #0030ff 15.625%, #0030ff 17.188%, #0040ff 17.188%, #0040ff 18.750%, #0050ff 18.750%, #0050ff 20.312%, #0060ff 20.312%, #0060ff 21.875%, #0070ff 21.875%, #0070ff 23.438%, #0080ff 23.438%, #0080ff 25.000%, #008fff 25.000%, #008fff 26.562%, #009fff 26.562%, #009fff 28.125%, #00afff 28.125%, #00afff 29.688%, #00bfff 29.688%, #00bfff 31.250%, #00cfff 31.250%, #00cfff 32.812%, #00dfff 32.812%, #00dfff 34.375%, #00efff 34.375%, #00efff 35.938%, #00ffff 35.938%, #00ffff 37.500%, #10ffef 37.500%, #10ffef 39.062%, #20ffdf 39.062%, #20ffdf 40.625%, #30ffcf 40.625%, #30ffcf 42.188%, #40ffbf 42.188%, #40ffbf 43.750%, #50ffaf 43.750%, #50ffaf 45.312%, #60ff9f 45.312%, #60ff9f 46.875%, #70ff8f 46.875%, #70ff8f 48.438%, #80ff80 48.438%, #80ff80 50.000%, #8fff70 50.000%, #8fff70 51.562%, #9fff60 51.562%, #9fff60 53.125%, #afff50 53.125%, #afff50 54.688%, #bfff40 54.688%, #bfff40 56.250%, #cfff30 56.250%, #cfff30 57.812%, #dfff20 57.812%, #dfff20 59.375%, #efff10 59.375%, #efff10 60.938%, #ffff00 60.938%, #ffff00 62.500%, #ffef00 62.500%, #ffef00 64.062%, #ffdf00 64.062%, #ffdf00 65.625%, #ffcf00 65.625%, #ffcf00 67.188%, #ffbf00 67.188%, #ffbf00 68.750%, #ffaf00 68.750%, #ffaf00 70.312%, #ff9f00 70.312%, #ff9f00 71.875%, #ff8f00 71.875%, #ff8f00 73.438%, #ff8000 73.438%, #ff8000 75.000%, #ff7000 75.000%, #ff7000 76.562%, #ff6000 76.562%, #ff6000 78.125%, #ff5000 78.125%, #ff5000 79.688%, #ff4000 79.688%, #ff4000 81.250%, #ff3000 81.250%, #ff3000 82.812%, #ff2000 82.812%, #ff2000 84.375%, #ff1000 84.375%, #ff1000 85.938%, #ff0000 85.938%, #ff0000 87.500%, #ef0000 87.500%, #ef0000 89.062%, #df0000 89.062%, #df0000 90.625%, #cf0000 90.625%, #cf0000 92.188%, #bf0000 92.188%, #bf0000 93.750%, #af0000 93.750%, #af0000 95.312%, #9f0000 95.312%, #9f0000 96.875%, #8f0000 96.875%, #8f0000 98.438%, #800000 98.438%, #800000 100.000%);box-sizing:border-box;border:1px solid #262626;"></div>
<div style="position:absolute;left:1005.80px;top:747.30px;width:7px;height:1px;background:#262626"></div>
<div class="t ct" style="left:1025px;top:737.35px">5.6</div>
<div style="position:absolute;left:1005.80px;top:685.18px;width:7px;height:1px;background:#262626"></div>
<div class="t ct" style="left:1025px;top:675.23px">5.8</div>
<div style="position:absolute;left:1005.80px;top:623.06px;width:7px;height:1px;background:#262626"></div>
<div class="t ct" style="left:1025px;top:613.11px">6</div>
<div style="position:absolute;left:1005.80px;top:560.94px;width:7px;height:1px;background:#262626"></div>
<div class="t ct" style="left:1025px;top:550.99px">6.2</div>
<div style="position:absolute;left:1005.80px;top:498.82px;width:7px;height:1px;background:#262626"></div>
<div class="t ct" style="left:1025px;top:488.87px">6.4</div>
<div style="position:absolute;left:1005.80px;top:436.70px;width:7px;height:1px;background:#262626"></div>
<div class="t ct" style="left:1025px;top:426.75px">6.6</div>
<div style="position:absolute;left:1005.80px;top:374.58px;width:7px;height:1px;background:#262626"></div>
<div class="t ct" style="left:1025px;top:364.63px">6.8</div>
<div style="position:absolute;left:1005.80px;top:312.46px;width:7px;height:1px;background:#262626"></div>
<div class="t ct" style="left:1025px;top:302.51px">7</div>
<div style="position:absolute;left:1005.80px;top:250.34px;width:7px;height:1px;background:#262626"></div>
<div class="t ct" style="left:1025px;top:240.39px">7.2</div>
<div style="position:absolute;left:1005.80px;top:188.22px;width:7px;height:1px;background:#262626"></div>
<div class="t ct" style="left:1025px;top:178.27px">7.4</div>
<div style="position:absolute;left:1005.80px;top:126.10px;width:7px;height:1px;background:#262626"></div>
<div class="t ct" style="left:1025px;top:116.15px">7.6</div>
</body></html>
